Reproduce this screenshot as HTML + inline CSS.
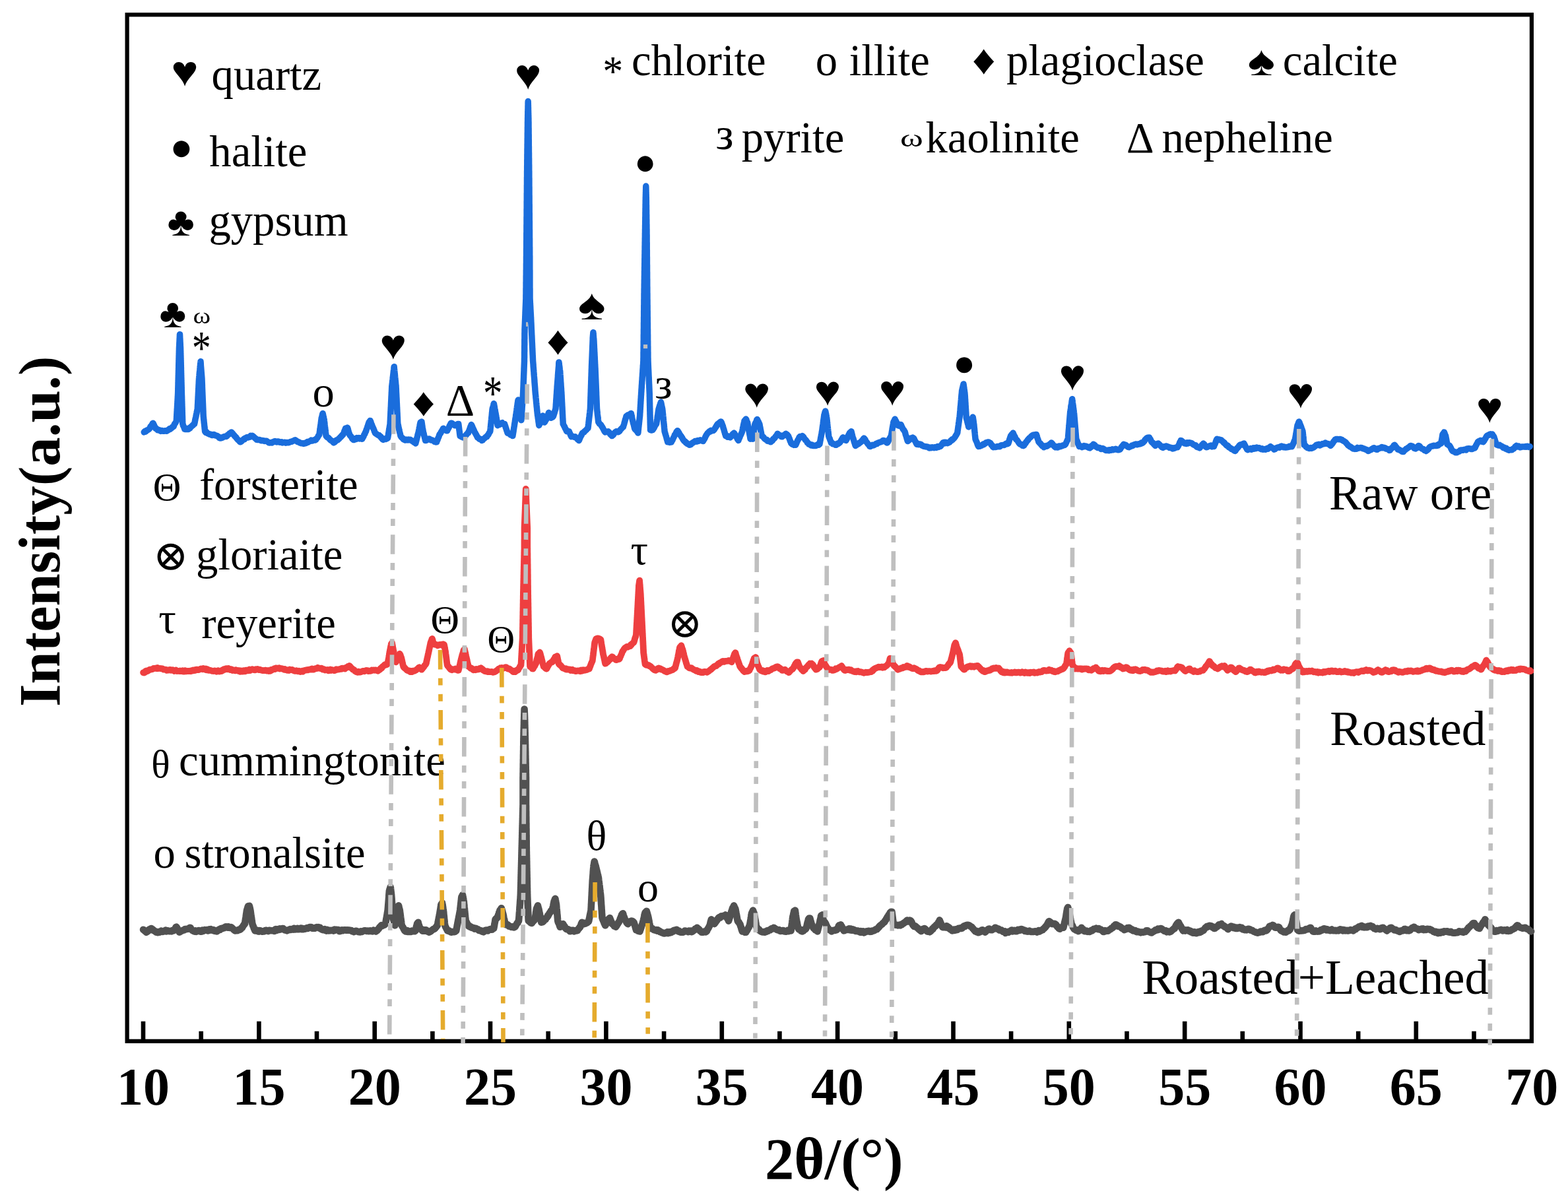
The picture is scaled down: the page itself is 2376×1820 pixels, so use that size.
<!DOCTYPE html>
<html><head><meta charset="utf-8"><title>XRD patterns</title>
<style>html,body{margin:0;padding:0;background:#fff}svg{display:block}text{fill:#000;white-space:pre}</style></head>
<body><svg width="2376" height="1820" viewBox="0 0 2376 1820">
<rect width="2376" height="1820" fill="#fff"/>
<rect x="192.6" y="22.3" width="2128.3" height="1555.5" fill="none" stroke="#000" stroke-width="6.2"/>
<path d="M217.0 1547.8 V1576 M304.7 1562.8 V1576 M392.4 1547.8 V1576 M480.0 1562.8 V1576 M567.7 1547.8 V1576 M655.4 1562.8 V1576 M743.0 1547.8 V1576 M830.7 1562.8 V1576 M918.4 1547.8 V1576 M1006.1 1562.8 V1576 M1093.8 1547.8 V1576 M1181.4 1562.8 V1576 M1269.1 1547.8 V1576 M1356.8 1562.8 V1576 M1444.5 1547.8 V1576 M1532.1 1562.8 V1576 M1619.8 1547.8 V1576 M1707.5 1562.8 V1576 M1795.2 1547.8 V1576 M1882.8 1562.8 V1576 M1970.5 1547.8 V1576 M2058.2 1562.8 V1576 M2145.8 1547.8 V1576 M2233.5 1562.8 V1576" stroke="#000" stroke-width="6.6" fill="none"/>
<path d="M218.2 654.9 L219.3 653.7 L220.4 654.2 L221.5 653.4 L222.6 652.0 L223.6 651.7 L224.7 651.0 L225.8 650.4 L226.5 649.5 L227.2 648.7 L227.8 646.9 L228.5 645.8 L229.2 645.7 L229.9 644.2 L230.6 643.6 L231.2 641.7 L231.9 641.3 L232.5 642.3 L233.0 643.8 L233.6 644.4 L234.1 646.3 L234.6 647.4 L235.2 647.6 L235.7 649.2 L236.8 649.1 L237.9 650.5 L239.0 651.7 L240.1 651.4 L241.2 651.7 L242.2 652.6 L243.3 653.3 L244.6 652.4 L245.9 652.8 L247.2 653.2 L248.5 653.3 L249.8 652.8 L251.1 652.8 L252.4 653.3 L253.5 652.2 L254.6 651.9 L255.7 650.9 L256.8 649.8 L257.9 650.3 L259.0 649.2 L260.1 648.6 L261.2 647.2 L262.3 647.0 L263.0 646.3 L263.6 645.1 L264.2 643.1 L264.8 642.2 L265.4 641.5 L266.1 640.3 L266.7 639.4 L267.3 637.8 L267.4 636.6 L267.4 635.5 L267.5 634.3 L267.6 633.0 L267.6 631.8 L267.7 630.7 L267.8 629.5 L267.8 628.2 L267.9 627.0 L268.0 625.7 L268.0 624.5 L268.1 623.4 L268.2 622.1 L268.2 620.9 L268.3 619.7 L268.4 618.6 L268.5 617.4 L268.5 616.1 L268.6 614.9 L268.7 613.7 L268.7 612.5 L268.8 611.3 L268.9 610.1 L268.9 608.9 L269.0 607.6 L269.1 606.4 L269.1 605.3 L269.2 604.1 L269.3 602.9 L269.3 601.6 L269.4 600.4 L269.5 599.2 L269.5 598.1 L269.6 596.8 L269.6 595.6 L269.7 594.4 L269.7 593.2 L269.7 592.0 L269.8 590.8 L269.8 589.6 L269.8 588.4 L269.9 587.2 L269.9 586.0 L269.9 584.8 L270.0 583.6 L270.0 582.3 L270.0 581.2 L270.0 580.0 L270.1 578.8 L270.1 577.6 L270.1 576.4 L270.2 575.2 L270.2 574.0 L270.2 572.8 L270.3 571.6 L270.3 570.4 L270.3 569.2 L270.4 568.0 L270.4 566.8 L270.4 565.6 L270.5 564.4 L270.5 563.2 L270.5 562.0 L270.6 560.8 L270.6 559.6 L270.6 558.4 L270.7 557.2 L270.7 556.0 L270.7 554.8 L270.7 553.6 L270.8 552.4 L270.8 551.2 L270.8 550.0 L270.9 548.8 L270.9 547.6 L270.9 546.4 L271.0 545.2 L271.0 544.0 L271.0 542.8 L271.1 541.6 L271.1 540.4 L271.1 539.2 L271.2 538.0 L271.2 536.8 L271.2 535.6 L271.3 534.4 L271.3 533.2 L271.3 532.0 L271.4 530.8 L271.4 529.6 L271.4 528.4 L271.5 527.2 L271.5 526.0 L271.6 524.8 L271.7 523.6 L271.7 522.3 L271.8 521.2 L271.8 520.0 L271.9 518.7 L272.0 517.5 L272.0 516.4 L272.1 515.2 L272.1 513.9 L272.2 512.8 L272.3 511.6 L272.3 510.3 L272.4 509.1 L272.4 507.9 L272.5 506.7 L272.6 508.0 L272.6 509.1 L272.7 510.4 L272.7 511.6 L272.8 512.8 L272.9 513.9 L272.9 515.2 L273.0 516.4 L273.0 517.6 L273.1 518.7 L273.2 520.0 L273.2 521.2 L273.3 522.4 L273.3 523.6 L273.4 524.8 L273.5 525.9 L273.5 527.2 L273.6 528.4 L273.6 529.6 L273.6 530.8 L273.7 532.0 L273.7 533.2 L273.7 534.4 L273.8 535.6 L273.8 536.8 L273.8 538.0 L273.9 539.2 L273.9 540.3 L273.9 541.6 L274.0 542.8 L274.0 544.0 L274.0 545.2 L274.1 546.4 L274.1 547.6 L274.1 548.8 L274.2 550.0 L274.2 551.2 L274.2 552.4 L274.3 553.6 L274.3 554.8 L274.3 556.0 L274.4 557.2 L274.4 558.4 L274.4 559.6 L274.4 560.8 L274.5 562.0 L274.5 563.2 L274.5 564.4 L274.6 565.6 L274.6 566.8 L274.6 568.0 L274.7 569.2 L274.7 570.4 L274.7 571.6 L274.8 572.8 L274.8 574.0 L274.8 575.2 L274.9 576.4 L274.9 577.6 L274.9 578.8 L275.0 580.0 L275.0 581.2 L275.0 582.4 L275.1 583.6 L275.1 584.8 L275.1 586.0 L275.2 587.2 L275.2 588.4 L275.2 589.6 L275.2 590.8 L275.3 592.0 L275.3 593.2 L275.3 594.4 L275.4 595.6 L275.4 596.8 L275.4 598.0 L275.5 599.2 L275.5 600.4 L275.6 601.6 L275.6 602.8 L275.6 604.0 L275.7 605.3 L275.7 606.4 L275.7 607.6 L275.8 608.8 L275.8 610.0 L275.8 611.1 L275.9 612.4 L275.9 613.6 L275.9 614.8 L276.0 616.0 L276.0 617.2 L276.1 618.4 L276.1 619.6 L276.1 620.8 L276.2 622.0 L276.2 623.2 L276.2 624.4 L276.3 625.6 L276.3 626.8 L276.3 628.0 L276.4 629.2 L276.4 630.4 L276.5 631.6 L276.5 632.8 L276.5 634.0 L276.6 635.1 L276.6 636.4 L276.6 637.6 L276.7 638.8 L276.7 640.0 L276.7 641.1 L276.8 642.4 L277.2 643.3 L277.6 645.1 L278.1 645.8 L278.5 646.6 L278.9 647.8 L279.4 649.0 L279.8 650.4 L281.0 650.6 L282.2 649.3 L283.4 650.6 L284.6 649.4 L285.9 650.3 L287.1 649.2 L288.0 648.9 L288.9 647.2 L289.9 646.3 L290.8 645.8 L291.8 644.4 L292.7 644.3 L293.6 642.6 L294.6 642.4 L294.8 640.9 L295.1 640.3 L295.3 638.7 L295.5 637.7 L295.8 636.4 L296.0 635.1 L296.3 633.7 L296.5 633.0 L296.8 631.9 L297.0 630.7 L297.3 629.0 L297.5 627.8 L297.8 626.9 L298.0 625.9 L298.2 624.4 L298.5 623.3 L298.7 622.1 L299.0 620.7 L299.2 619.6 L299.3 618.4 L299.4 617.2 L299.4 616.0 L299.5 614.7 L299.5 613.6 L299.6 612.5 L299.7 611.2 L299.7 610.0 L299.8 608.8 L299.8 607.7 L299.9 606.4 L300.0 605.2 L300.0 604.0 L300.1 602.8 L300.1 601.7 L300.2 600.5 L300.3 599.2 L300.3 598.0 L300.4 596.8 L300.4 595.6 L300.5 594.4 L300.6 593.2 L300.6 591.9 L300.7 590.8 L300.7 589.5 L300.8 588.4 L300.9 587.1 L300.9 585.9 L301.0 584.8 L301.0 583.6 L301.1 582.5 L301.2 581.2 L301.2 580.1 L301.3 578.7 L301.3 577.6 L301.4 576.5 L301.5 575.1 L301.5 574.0 L301.6 572.9 L301.7 571.4 L301.9 570.3 L302.0 569.2 L302.1 567.9 L302.2 566.5 L302.3 565.1 L302.4 564.0 L302.6 562.9 L302.7 561.4 L302.8 560.4 L302.9 558.9 L303.0 557.9 L303.1 556.4 L303.3 555.2 L303.4 554.1 L303.5 552.9 L303.6 551.7 L303.7 550.4 L303.9 549.1 L304.0 547.8 L304.1 549.1 L304.2 550.2 L304.3 551.5 L304.3 552.7 L304.4 554.1 L304.5 555.3 L304.6 556.5 L304.7 557.7 L304.8 559.1 L304.9 560.3 L305.0 561.5 L305.1 562.8 L305.2 564.1 L305.3 565.2 L305.4 566.5 L305.5 567.7 L305.6 568.9 L305.7 570.1 L305.8 571.5 L305.9 572.7 L306.0 574.0 L306.0 575.2 L306.1 576.4 L306.1 577.6 L306.2 578.8 L306.2 580.0 L306.3 581.2 L306.3 582.5 L306.4 583.7 L306.4 584.9 L306.4 586.1 L306.5 587.3 L306.5 588.5 L306.6 589.8 L306.6 591.0 L306.7 592.2 L306.7 593.4 L306.8 594.6 L306.8 595.9 L306.9 597.0 L306.9 598.3 L307.0 599.5 L307.0 600.6 L307.1 601.9 L307.1 603.1 L307.2 604.4 L307.2 605.6 L307.3 606.7 L307.3 608.0 L307.4 609.1 L307.4 610.3 L307.5 611.6 L307.5 612.9 L307.6 614.0 L307.6 615.3 L307.7 616.5 L307.7 617.6 L307.8 618.9 L307.8 620.1 L307.9 621.3 L307.9 622.5 L308.0 623.8 L308.0 624.9 L308.0 626.2 L308.1 627.4 L308.1 628.6 L308.2 629.8 L308.2 631.0 L308.4 632.1 L308.5 633.3 L308.6 634.5 L308.7 635.8 L308.9 637.1 L309.0 638.0 L309.1 639.5 L309.2 640.7 L309.4 641.7 L309.5 643.0 L309.6 644.1 L309.7 645.5 L309.9 646.4 L310.0 648.0 L310.1 649.1 L310.2 650.2 L310.4 651.3 L310.5 652.7 L310.6 653.8 L311.7 655.2 L312.8 654.5 L313.9 656.2 L315.0 656.9 L316.1 657.3 L317.2 658.0 L318.3 658.4 L319.7 658.3 L321.1 659.4 L322.4 659.5 L323.8 658.5 L325.2 658.8 L326.3 659.9 L327.5 660.0 L328.7 660.3 L329.8 661.2 L331.0 661.5 L332.2 663.4 L333.3 664.1 L334.5 664.1 L335.7 663.0 L336.9 663.4 L338.1 662.6 L339.3 661.7 L340.5 661.6 L341.7 661.1 L342.9 661.5 L344.1 660.6 L345.0 659.1 L345.9 658.6 L346.8 658.1 L347.7 656.7 L348.6 656.7 L349.6 655.9 L350.5 654.9 L351.3 656.3 L352.2 656.5 L353.1 657.6 L354.0 658.9 L354.8 659.5 L355.7 660.9 L356.6 661.8 L357.4 662.3 L358.3 663.8 L359.1 664.8 L359.9 665.7 L360.8 666.8 L361.6 667.2 L362.5 668.0 L363.3 669.3 L364.2 669.8 L365.2 669.4 L366.3 668.3 L367.3 667.3 L368.4 666.4 L369.4 665.4 L370.5 665.7 L371.5 663.9 L372.6 664.0 L373.7 662.9 L374.9 662.6 L376.2 662.9 L377.4 662.2 L378.7 662.2 L379.9 660.3 L381.2 660.6 L382.4 660.2 L383.3 661.2 L384.3 661.7 L385.2 662.8 L386.1 663.5 L387.1 664.6 L388.0 664.8 L388.9 666.3 L390.2 666.4 L391.6 666.6 L392.9 666.5 L394.2 666.8 L395.6 667.7 L396.9 667.7 L398.2 667.5 L399.4 667.8 L400.5 668.4 L401.7 668.3 L402.8 668.3 L404.0 668.3 L405.1 669.1 L406.3 670.0 L407.5 670.9 L408.6 671.1 L409.8 670.9 L410.9 670.5 L412.0 671.0 L413.2 669.7 L414.3 670.0 L415.5 668.8 L416.6 668.6 L417.9 669.3 L419.1 670.0 L420.4 669.0 L421.7 669.0 L422.9 670.1 L424.2 670.2 L425.5 670.1 L426.7 669.7 L428.0 670.9 L429.3 670.6 L430.6 670.5 L431.8 670.3 L433.1 671.1 L434.4 670.4 L435.7 670.6 L437.0 670.8 L438.2 670.4 L439.5 669.8 L440.6 669.3 L441.8 669.3 L442.9 668.7 L444.0 668.3 L445.1 667.9 L446.3 667.1 L447.4 666.8 L448.5 667.6 L449.5 668.2 L450.6 669.3 L451.7 669.6 L452.8 669.8 L454.0 670.8 L455.1 671.1 L456.3 671.7 L457.5 671.8 L458.7 671.8 L459.9 672.5 L461.1 671.6 L462.3 671.9 L463.4 671.7 L464.6 670.6 L465.8 669.5 L466.9 670.1 L468.1 669.1 L469.3 668.6 L470.4 668.3 L471.6 667.2 L472.8 667.8 L474.0 667.9 L475.2 667.1 L476.4 666.6 L477.5 666.9 L478.7 666.3 L479.5 664.7 L480.2 664.1 L480.9 663.4 L481.7 662.0 L482.4 660.5 L483.1 659.7 L483.9 658.4 L484.0 657.2 L484.2 655.8 L484.4 654.6 L484.5 653.7 L484.7 652.3 L484.8 651.0 L485.0 650.1 L485.2 648.8 L485.3 647.6 L485.5 646.4 L485.7 645.3 L485.8 643.9 L486.0 642.9 L486.2 641.7 L486.3 640.6 L486.5 639.2 L486.6 638.1 L486.8 636.7 L487.0 635.7 L487.1 634.3 L487.3 633.3 L487.7 632.1 L488.0 630.8 L488.4 629.1 L488.7 627.6 L489.1 626.4 L489.4 628.0 L489.7 629.2 L490.0 630.6 L490.3 631.4 L490.5 633.2 L490.8 634.3 L491.1 635.6 L491.3 636.7 L491.4 637.9 L491.6 639.2 L491.7 640.4 L491.8 641.4 L492.0 642.8 L492.1 643.8 L492.3 645.3 L492.4 646.3 L492.6 647.7 L492.7 648.8 L492.8 649.9 L493.0 651.0 L493.1 652.3 L493.3 653.3 L493.4 654.5 L493.6 655.9 L493.7 657.0 L493.8 658.3 L494.0 659.3 L494.1 660.6 L495.1 661.9 L496.2 662.8 L497.2 663.2 L498.2 663.9 L499.2 665.2 L500.2 666.3 L501.3 667.2 L502.4 667.6 L503.4 668.6 L504.5 669.4 L505.5 670.9 L506.6 670.2 L507.7 669.8 L508.7 668.0 L509.8 667.0 L510.9 667.1 L512.0 666.5 L513.0 665.2 L513.9 665.0 L514.8 663.6 L515.7 662.4 L516.6 662.2 L517.5 660.4 L518.3 660.3 L519.2 658.7 L520.1 658.4 L520.5 657.1 L521.0 656.1 L521.4 654.8 L521.8 653.5 L522.2 652.4 L522.7 651.8 L523.1 650.3 L523.5 649.2 L525.0 648.8 L526.5 648.1 L526.9 649.2 L527.3 650.8 L527.6 651.8 L528.0 653.3 L528.4 654.8 L528.8 656.2 L529.2 656.7 L529.6 658.4 L530.3 659.7 L531.0 660.8 L531.7 661.1 L532.4 662.2 L533.1 663.4 L533.8 664.8 L534.5 665.2 L535.2 666.3 L536.3 666.6 L537.4 666.0 L538.6 664.6 L539.7 665.5 L540.9 663.6 L542.0 664.1 L543.4 663.6 L544.7 664.8 L546.1 663.9 L547.5 664.7 L548.8 665.2 L549.4 663.7 L550.0 662.9 L550.5 662.1 L551.1 661.0 L551.7 659.0 L552.2 657.9 L552.8 657.6 L553.4 655.6 L553.9 654.7 L554.5 653.8 L554.9 652.4 L555.2 651.2 L555.6 650.0 L556.0 649.3 L556.4 648.3 L556.7 647.1 L557.1 646.1 L557.5 644.8 L557.9 643.5 L558.2 642.5 L558.6 641.6 L559.0 640.1 L560.0 638.9 L560.9 637.4 L561.4 638.4 L561.9 639.4 L562.3 641.4 L562.8 642.3 L563.3 643.3 L563.8 644.7 L564.2 645.9 L564.7 647.0 L565.2 648.1 L565.6 648.8 L566.1 650.2 L566.6 651.4 L567.1 652.4 L567.5 654.1 L568.0 654.9 L568.5 656.1 L569.5 657.0 L570.5 657.7 L571.5 658.4 L572.5 659.0 L573.5 659.7 L574.5 659.6 L575.5 660.6 L576.4 662.2 L577.3 662.1 L578.1 664.0 L579.0 664.9 L579.9 665.8 L580.8 666.3 L582.1 665.1 L583.5 664.7 L584.8 665.5 L586.2 664.5 L587.5 664.1 L587.7 662.8 L587.9 661.9 L588.1 660.2 L588.3 659.3 L588.5 658.0 L588.7 656.7 L588.9 655.6 L589.1 654.5 L589.3 653.4 L589.5 651.8 L589.7 650.8 L589.9 649.4 L590.1 648.6 L590.3 647.0 L590.5 645.8 L590.7 644.7 L590.9 643.7 L591.1 642.4 L591.1 641.2 L591.2 639.9 L591.2 638.8 L591.3 637.6 L591.4 636.4 L591.4 635.1 L591.5 633.9 L591.5 632.7 L591.6 631.5 L591.7 630.2 L591.7 629.0 L591.8 627.9 L591.8 626.7 L591.9 625.4 L591.9 624.1 L592.0 623.0 L592.1 621.8 L592.1 620.7 L592.2 619.4 L592.2 618.2 L592.3 617.0 L592.4 615.7 L592.4 614.6 L592.5 613.4 L592.5 612.0 L592.6 610.8 L592.6 609.6 L592.7 608.4 L592.8 607.2 L592.8 606.0 L592.9 604.8 L592.9 603.5 L593.0 602.4 L593.0 601.2 L593.1 599.9 L593.2 598.7 L593.2 597.5 L593.3 596.3 L593.3 595.1 L593.4 593.9 L593.5 592.7 L593.5 591.4 L593.6 590.3 L593.6 589.0 L593.7 587.8 L593.7 586.5 L593.8 585.4 L593.9 584.3 L594.1 582.9 L594.2 581.8 L594.4 580.6 L594.5 579.4 L594.6 578.1 L594.8 576.9 L594.9 575.7 L595.1 574.4 L595.2 572.9 L595.3 571.8 L595.5 570.6 L595.6 569.5 L595.8 568.2 L595.9 566.9 L596.1 565.7 L596.2 564.4 L596.3 563.3 L596.5 562.0 L596.6 560.7 L596.8 559.5 L596.9 558.4 L597.0 557.0 L597.2 555.8 L597.3 556.9 L597.4 558.1 L597.5 559.5 L597.7 560.7 L597.8 562.1 L597.9 563.1 L598.0 564.4 L598.1 565.7 L598.3 566.7 L598.4 568.0 L598.5 569.4 L598.6 570.5 L598.7 571.7 L598.9 573.0 L599.0 574.3 L599.1 575.5 L599.2 576.6 L599.4 577.8 L599.5 579.3 L599.6 580.5 L599.7 581.6 L599.8 583.0 L600.0 584.0 L600.1 585.4 L600.1 586.6 L600.2 587.9 L600.3 589.1 L600.3 590.2 L600.4 591.5 L600.4 592.7 L600.5 594.0 L600.5 595.2 L600.6 596.3 L600.7 597.6 L600.7 598.7 L600.8 600.0 L600.8 601.2 L600.9 602.4 L601.0 603.6 L601.0 604.9 L601.1 606.0 L601.1 607.2 L601.2 608.5 L601.2 609.7 L601.3 610.9 L601.4 612.1 L601.4 613.3 L601.5 614.6 L601.5 615.8 L601.6 616.9 L601.7 618.1 L601.7 619.4 L601.8 620.6 L601.8 621.7 L601.9 623.0 L601.9 624.2 L602.0 625.3 L602.1 626.6 L602.1 627.8 L602.2 629.1 L602.2 630.3 L602.3 631.6 L602.4 632.7 L602.4 633.9 L602.5 635.1 L602.5 636.3 L602.6 637.6 L602.6 638.8 L602.7 640.1 L602.8 641.2 L602.8 642.4 L603.1 643.7 L603.4 644.7 L603.7 645.9 L603.9 647.3 L604.2 648.5 L604.5 649.7 L604.8 651.2 L605.1 651.9 L605.3 653.4 L605.6 654.9 L605.9 655.9 L606.2 657.0 L606.5 658.1 L606.7 659.4 L607.0 660.6 L608.0 662.2 L608.9 663.1 L609.8 663.7 L610.8 665.0 L611.7 666.0 L612.7 666.3 L614.0 667.0 L615.3 666.1 L616.6 666.3 L617.9 666.9 L619.2 666.1 L620.5 666.8 L621.8 666.3 L622.8 667.0 L623.8 667.5 L624.8 668.4 L625.8 668.6 L626.8 669.7 L627.8 670.5 L628.8 670.6 L629.8 672.0 L630.1 670.6 L630.4 669.4 L630.7 668.6 L631.0 667.2 L631.3 665.8 L631.6 665.1 L631.9 663.4 L632.2 662.3 L632.5 661.3 L632.8 660.0 L633.1 658.6 L633.4 657.6 L633.8 656.2 L634.1 655.2 L634.4 653.8 L634.6 652.6 L634.8 651.6 L635.1 650.2 L635.3 648.6 L635.6 647.4 L635.8 646.6 L636.1 644.9 L636.3 643.6 L636.5 642.5 L636.8 641.4 L637.0 640.1 L638.9 639.0 L639.1 640.4 L639.3 641.4 L639.5 642.8 L639.6 644.1 L639.8 645.0 L640.0 646.4 L640.2 647.9 L640.4 648.9 L640.6 650.1 L640.8 651.3 L641.0 652.8 L641.2 653.8 L641.5 655.4 L641.8 656.0 L642.1 657.6 L642.4 658.7 L642.7 660.1 L643.0 661.0 L643.3 662.3 L643.7 663.6 L644.0 665.0 L644.3 666.4 L644.6 667.5 L645.7 667.5 L646.9 666.8 L648.0 666.1 L649.2 665.2 L650.5 665.0 L651.8 665.9 L653.1 666.9 L654.4 666.7 L655.8 667.5 L656.9 667.9 L658.1 669.1 L659.3 668.2 L660.5 669.9 L661.7 669.8 L662.1 668.3 L662.6 667.4 L663.0 666.7 L663.5 664.9 L663.9 664.1 L664.4 662.8 L664.8 662.1 L665.2 661.1 L665.7 659.3 L666.1 658.4 L666.8 657.3 L667.4 656.8 L668.1 655.4 L668.7 654.0 L669.4 653.6 L670.0 652.1 L670.7 651.2 L671.3 649.7 L672.0 649.2 L673.1 650.7 L674.2 650.8 L675.4 651.9 L676.5 652.7 L677.7 652.7 L678.2 651.3 L678.8 650.4 L679.4 649.2 L679.9 648.4 L680.5 647.3 L681.1 645.5 L681.6 644.5 L682.2 643.7 L682.8 642.3 L683.4 641.3 L684.5 641.2 L685.6 641.9 L686.8 643.1 L687.9 643.7 L689.1 644.8 L690.2 644.7 L691.3 644.2 L692.5 643.7 L693.6 642.4 L694.8 642.4 L694.9 643.6 L695.1 644.7 L695.2 646.1 L695.4 647.2 L695.5 648.4 L695.7 649.6 L695.8 650.9 L696.0 652.1 L696.2 653.4 L696.3 654.4 L696.5 655.9 L696.6 657.1 L696.8 658.2 L696.9 659.2 L697.1 660.6 L698.2 660.8 L699.4 661.9 L700.5 662.2 L701.7 663.0 L702.8 662.9 L703.8 662.5 L704.7 660.7 L705.7 660.0 L706.6 658.8 L707.6 657.5 L708.5 656.6 L709.5 656.1 L709.9 654.7 L710.3 653.4 L710.8 652.7 L711.2 651.7 L711.6 650.4 L712.0 649.4 L712.5 647.9 L712.9 646.7 L713.3 645.9 L713.8 645.0 L714.2 643.5 L714.7 644.6 L715.2 645.4 L715.7 646.5 L716.2 647.9 L716.7 649.3 L717.3 650.0 L717.8 651.5 L718.3 652.4 L718.9 654.0 L719.5 655.4 L720.1 655.9 L720.7 657.3 L721.3 658.4 L721.8 659.0 L722.4 660.5 L723.0 661.4 L723.6 662.9 L724.7 663.3 L725.8 664.8 L726.9 665.5 L728.0 665.3 L729.1 666.1 L730.2 667.5 L731.3 667.0 L732.3 665.3 L733.4 664.8 L734.5 663.9 L735.6 662.8 L736.7 661.9 L737.8 661.8 L738.5 660.2 L739.2 659.4 L739.9 658.8 L740.6 657.4 L741.3 655.8 L742.0 655.1 L742.7 653.8 L742.9 652.5 L743.0 651.4 L743.1 650.1 L743.2 649.1 L743.3 647.6 L743.5 646.6 L743.6 645.3 L743.7 644.1 L743.8 642.8 L744.0 641.7 L744.1 640.3 L744.2 639.2 L744.3 638.0 L744.4 636.7 L744.6 635.5 L744.7 634.3 L744.8 633.0 L744.9 631.9 L745.1 630.6 L745.2 629.4 L745.3 628.0 L745.4 626.9 L745.5 625.6 L745.7 624.4 L745.8 623.2 L745.9 622.1 L746.0 620.7 L746.2 619.6 L746.5 618.1 L746.9 617.0 L747.3 615.6 L747.7 614.2 L748.0 612.7 L748.4 611.6 L748.6 612.8 L748.8 614.2 L749.1 615.4 L749.3 616.7 L749.5 618.1 L749.7 619.3 L750.0 620.5 L750.2 621.4 L750.4 622.8 L750.6 624.2 L750.8 625.5 L751.1 626.4 L751.3 628.0 L751.5 628.8 L751.7 630.4 L751.9 631.3 L752.1 632.8 L752.3 634.0 L752.5 634.9 L752.7 636.4 L752.9 637.3 L753.1 638.8 L753.3 639.8 L753.5 641.0 L753.7 642.1 L753.9 643.5 L754.1 644.7 L755.2 643.6 L756.4 643.6 L757.5 643.1 L758.7 642.1 L759.8 641.3 L761.0 640.7 L762.2 642.6 L763.4 642.9 L764.6 642.4 L765.0 643.7 L765.4 644.6 L765.7 645.9 L766.1 647.3 L766.5 648.1 L766.9 649.5 L767.2 650.5 L767.6 651.5 L768.0 653.0 L768.4 653.7 L768.7 655.0 L769.1 656.1 L770.2 656.0 L771.3 657.3 L772.5 657.3 L773.6 659.0 L774.7 658.6 L775.8 659.3 L776.9 660.6 L777.1 659.2 L777.3 658.0 L777.5 656.9 L777.7 655.6 L777.9 654.4 L778.1 653.5 L778.2 652.2 L778.4 650.8 L778.6 649.7 L778.8 648.4 L779.0 646.9 L779.2 646.0 L779.4 644.5 L779.6 643.4 L779.8 642.0 L780.0 640.7 L780.2 639.8 L780.4 638.6 L780.5 637.1 L780.7 636.1 L780.9 634.6 L781.1 633.5 L781.3 632.5 L781.5 631.0 L781.7 629.9 L781.8 628.4 L782.0 627.4 L782.2 626.2 L782.4 624.9 L782.5 624.0 L782.7 622.6 L782.9 621.5 L783.0 620.3 L783.2 619.0 L783.4 617.6 L783.5 616.7 L783.7 615.6 L783.9 614.1 L784.1 613.1 L784.2 611.8 L784.4 610.6 L784.6 609.5 L784.7 608.5 L784.9 607.1 L785.3 605.9 L785.4 607.0 L785.5 608.5 L785.6 609.6 L785.7 611.0 L785.8 612.0 L785.9 613.4 L786.0 614.5 L786.1 615.8 L786.2 617.2 L786.3 618.4 L786.4 619.6 L786.7 621.0 L786.9 622.0 L787.2 623.2 L787.4 624.5 L787.7 625.9 L787.9 627.1 L788.2 628.0 L788.4 629.3 L788.7 630.6 L788.9 631.9 L789.2 633.3 L789.4 634.5 L789.6 635.3 L789.9 636.7 L790.0 635.4 L790.1 634.2 L790.1 632.9 L790.2 631.7 L790.3 630.5 L790.4 629.4 L790.5 628.2 L790.6 627.0 L790.6 625.6 L790.7 624.4 L790.8 623.3 L790.9 622.1 L791.0 620.9 L791.1 619.4 L791.1 618.3 L791.2 617.1 L791.3 615.9 L791.4 614.7 L791.5 613.4 L791.5 612.1 L791.6 610.8 L791.7 609.8 L791.8 608.6 L791.9 607.4 L792.0 606.1 L792.0 604.8 L792.1 603.5 L792.2 602.4 L792.3 601.2 L792.4 600.0 L792.5 598.6 L792.5 597.5 L792.6 596.2 L792.7 595.0 L792.7 593.8 L792.8 592.6 L792.8 591.5 L792.9 590.2 L792.9 589.0 L793.0 587.8 L793.0 586.6 L793.1 585.4 L793.1 584.2 L793.2 583.0 L793.2 581.7 L793.2 580.6 L793.3 579.4 L793.3 578.2 L793.4 577.0 L793.4 575.8 L793.5 574.7 L793.5 573.4 L793.6 572.1 L793.6 571.1 L793.6 569.8 L793.7 568.6 L793.7 567.4 L793.8 566.2 L793.8 565.1 L793.9 563.8 L793.9 562.6 L794.0 561.4 L794.0 560.2 L794.0 559.0 L794.1 557.8 L794.1 556.6 L794.2 555.4 L794.2 554.2 L794.3 553.0 L794.3 551.8 L794.4 550.6 L794.4 549.4 L794.5 548.2 L794.5 547.0 L794.5 545.8 L794.5 544.6 L794.5 543.4 L794.6 542.2 L794.6 541.0 L794.6 539.8 L794.6 538.6 L794.6 537.4 L794.6 536.1 L794.6 534.9 L794.6 533.7 L794.7 532.5 L794.7 531.3 L794.7 530.1 L794.7 528.9 L794.7 527.7 L794.7 526.5 L794.7 525.3 L794.7 524.1 L794.8 522.9 L794.8 521.7 L794.8 520.5 L794.8 519.3 L794.8 518.1 L794.8 516.9 L794.8 515.7 L794.8 514.4 L794.9 513.3 L794.9 512.0 L794.9 510.9 L794.9 509.6 L794.9 508.4 L794.9 507.2 L794.9 506.0 L794.9 504.8 L795.0 503.6 L795.0 502.4 L795.0 501.2 L795.0 500.0 L795.0 498.9 L795.1 497.6 L795.1 496.4 L795.2 495.2 L795.2 494.0 L795.3 492.8 L795.3 491.6 L795.4 490.3 L795.4 489.2 L795.5 488.0 L795.5 486.8 L795.6 485.6 L795.6 484.4 L795.7 483.2 L795.7 482.0 L795.8 480.8 L795.8 479.6 L795.9 478.3 L795.9 477.2 L796.0 476.0 L796.0 474.8 L796.0 473.7 L796.1 472.4 L796.1 471.1 L796.2 470.1 L796.2 468.8 L796.3 467.6 L796.3 466.4 L796.4 465.2 L796.4 463.9 L796.5 462.9 L796.5 461.6 L796.6 460.4 L796.6 459.2 L796.7 458.1 L796.7 456.7 L796.8 455.6 L796.8 454.4 L796.9 453.1 L796.9 452.0 L796.9 450.8 L796.9 449.6 L796.9 448.4 L796.9 447.2 L797.0 446.0 L797.0 444.8 L797.0 443.5 L797.0 442.3 L797.0 441.1 L797.0 439.9 L797.0 438.7 L797.0 437.5 L797.1 436.3 L797.1 435.1 L797.1 433.9 L797.1 432.7 L797.1 431.4 L797.1 430.3 L797.1 429.0 L797.1 427.8 L797.2 426.6 L797.2 425.4 L797.2 424.2 L797.2 423.0 L797.2 421.8 L797.2 420.6 L797.2 419.4 L797.2 418.2 L797.3 417.0 L797.3 415.7 L797.3 414.5 L797.3 413.3 L797.3 412.1 L797.3 410.9 L797.3 409.7 L797.4 408.5 L797.4 407.3 L797.4 406.1 L797.4 404.9 L797.4 403.7 L797.4 402.5 L797.4 401.3 L797.4 400.0 L797.5 398.8 L797.5 397.6 L797.5 396.4 L797.5 395.2 L797.5 394.0 L797.5 392.8 L797.5 391.6 L797.5 390.4 L797.5 389.2 L797.6 388.0 L797.6 386.8 L797.6 385.6 L797.6 384.4 L797.6 383.2 L797.6 382.0 L797.6 380.8 L797.6 379.6 L797.6 378.4 L797.6 377.2 L797.7 376.0 L797.7 374.8 L797.7 373.6 L797.7 372.4 L797.7 371.2 L797.7 370.0 L797.7 368.8 L797.7 367.6 L797.7 366.3 L797.7 365.2 L797.8 364.0 L797.8 362.7 L797.8 361.6 L797.8 360.4 L797.8 359.2 L797.8 357.9 L797.8 356.8 L797.8 355.6 L797.8 354.3 L797.8 353.1 L797.9 351.9 L797.9 350.7 L797.9 349.5 L797.9 348.3 L797.9 347.1 L797.9 345.9 L797.9 344.7 L797.9 343.5 L797.9 342.3 L797.9 341.1 L798.0 339.9 L798.0 338.7 L798.0 337.5 L798.0 336.3 L798.0 335.1 L798.0 333.9 L798.0 332.7 L798.0 331.5 L798.0 330.3 L798.0 329.1 L798.1 327.9 L798.1 326.7 L798.1 325.5 L798.1 324.3 L798.1 323.1 L798.1 321.9 L798.1 320.7 L798.1 319.5 L798.1 318.3 L798.1 317.1 L798.2 315.9 L798.2 314.7 L798.2 313.5 L798.2 312.3 L798.2 311.1 L798.2 309.9 L798.2 308.7 L798.2 307.5 L798.2 306.3 L798.2 305.1 L798.3 303.8 L798.3 302.7 L798.3 301.5 L798.3 300.2 L798.3 299.0 L798.3 297.8 L798.3 296.7 L798.3 295.5 L798.3 294.2 L798.3 293.1 L798.4 291.9 L798.4 290.7 L798.4 289.4 L798.4 288.2 L798.4 287.1 L798.4 285.8 L798.4 284.6 L798.4 283.4 L798.4 282.2 L798.4 281.0 L798.5 279.8 L798.5 278.6 L798.5 277.4 L798.5 276.2 L798.5 275.0 L798.5 273.8 L798.5 272.6 L798.5 271.4 L798.5 270.2 L798.5 269.0 L798.6 267.8 L798.6 266.6 L798.6 265.4 L798.6 264.2 L798.6 263.0 L798.6 261.8 L798.6 260.6 L798.6 259.4 L798.7 258.2 L798.7 257.0 L798.7 255.8 L798.7 254.6 L798.7 253.4 L798.7 252.2 L798.7 251.0 L798.8 249.7 L798.8 248.6 L798.8 247.3 L798.8 246.1 L798.8 245.0 L798.8 243.7 L798.8 242.6 L798.9 241.3 L798.9 240.2 L798.9 238.9 L798.9 237.7 L798.9 236.5 L798.9 235.3 L798.9 234.1 L799.0 232.9 L799.0 231.7 L799.0 230.5 L799.0 229.3 L799.0 228.1 L799.0 226.9 L799.0 225.7 L799.1 224.5 L799.1 223.3 L799.1 222.1 L799.1 220.9 L799.1 219.7 L799.1 218.5 L799.2 217.3 L799.2 216.1 L799.2 214.9 L799.2 213.7 L799.2 212.5 L799.2 211.3 L799.2 210.1 L799.3 208.9 L799.3 207.7 L799.3 206.5 L799.3 205.3 L799.3 204.1 L799.3 202.9 L799.3 201.7 L799.4 200.4 L799.4 199.2 L799.4 198.1 L799.4 196.8 L799.4 195.7 L799.4 194.4 L799.4 193.2 L799.5 192.0 L799.5 190.8 L799.5 189.6 L799.5 188.4 L799.5 187.2 L799.5 186.0 L799.5 184.8 L799.6 183.6 L799.6 182.4 L799.6 181.2 L799.6 180.0 L799.6 178.8 L799.7 177.6 L799.7 176.4 L799.7 175.2 L799.7 174.0 L799.8 172.8 L799.8 171.6 L799.8 170.4 L799.8 169.1 L799.9 167.9 L799.9 166.8 L799.9 165.5 L800.0 164.4 L800.0 163.1 L800.0 162.0 L800.0 160.7 L800.1 159.5 L800.1 158.3 L800.1 157.1 L800.1 155.9 L800.2 154.7 L800.2 153.5 L800.2 154.7 L800.3 155.9 L800.3 157.1 L800.3 158.3 L800.4 159.6 L800.4 160.7 L800.4 161.9 L800.5 163.2 L800.5 164.4 L800.5 165.6 L800.5 166.7 L800.6 168.0 L800.6 169.2 L800.6 170.3 L800.7 171.6 L800.7 172.8 L800.7 174.0 L800.8 175.2 L800.8 176.4 L800.8 177.6 L800.9 178.8 L800.9 180.0 L800.9 181.2 L800.9 182.4 L800.9 183.6 L801.0 184.8 L801.0 186.0 L801.0 187.2 L801.0 188.4 L801.0 189.6 L801.0 190.8 L801.0 192.0 L801.0 193.2 L801.1 194.4 L801.1 195.7 L801.1 196.9 L801.1 198.1 L801.1 199.2 L801.1 200.5 L801.1 201.6 L801.1 202.9 L801.2 204.1 L801.2 205.2 L801.2 206.5 L801.2 207.7 L801.2 208.9 L801.2 210.1 L801.2 211.3 L801.3 212.5 L801.3 213.7 L801.3 214.9 L801.3 216.1 L801.3 217.3 L801.3 218.5 L801.3 219.7 L801.3 220.9 L801.4 222.1 L801.4 223.3 L801.4 224.5 L801.4 225.7 L801.4 226.9 L801.4 228.1 L801.4 229.3 L801.4 230.5 L801.5 231.7 L801.5 232.9 L801.5 234.1 L801.5 235.3 L801.5 236.5 L801.5 237.8 L801.5 239.0 L801.6 240.1 L801.6 241.3 L801.6 242.5 L801.6 243.8 L801.6 245.0 L801.6 246.1 L801.6 247.3 L801.6 248.6 L801.7 249.8 L801.7 251.0 L801.7 252.2 L801.7 253.4 L801.7 254.6 L801.7 255.8 L801.7 257.0 L801.7 258.2 L801.8 259.4 L801.8 260.6 L801.8 261.8 L801.8 263.0 L801.8 264.2 L801.8 265.4 L801.8 266.6 L801.8 267.8 L801.8 269.0 L801.9 270.2 L801.9 271.4 L801.9 272.6 L801.9 273.8 L801.9 275.0 L801.9 276.2 L801.9 277.4 L801.9 278.6 L801.9 279.8 L801.9 281.0 L801.9 282.2 L802.0 283.4 L802.0 284.6 L802.0 285.8 L802.0 287.0 L802.0 288.2 L802.0 289.4 L802.0 290.6 L802.0 291.9 L802.0 293.1 L802.0 294.2 L802.0 295.4 L802.1 296.7 L802.1 297.8 L802.1 299.1 L802.1 300.3 L802.1 301.5 L802.1 302.7 L802.1 303.9 L802.1 305.1 L802.1 306.3 L802.1 307.5 L802.1 308.7 L802.2 309.9 L802.2 311.1 L802.2 312.3 L802.2 313.5 L802.2 314.7 L802.2 315.9 L802.2 317.1 L802.2 318.3 L802.2 319.5 L802.2 320.7 L802.2 321.9 L802.3 323.1 L802.3 324.3 L802.3 325.5 L802.3 326.7 L802.3 327.9 L802.3 329.1 L802.3 330.3 L802.3 331.5 L802.3 332.7 L802.3 333.9 L802.4 335.1 L802.4 336.3 L802.4 337.5 L802.4 338.7 L802.4 339.9 L802.4 341.1 L802.4 342.3 L802.4 343.5 L802.4 344.7 L802.4 345.9 L802.4 347.1 L802.5 348.3 L802.5 349.5 L802.5 350.7 L802.5 351.9 L802.5 353.1 L802.5 354.3 L802.5 355.5 L802.5 356.7 L802.5 357.9 L802.5 359.1 L802.5 360.4 L802.6 361.5 L802.6 362.8 L802.6 364.0 L802.6 365.2 L802.6 366.4 L802.6 367.6 L802.6 368.8 L802.6 370.0 L802.6 371.2 L802.6 372.4 L802.6 373.6 L802.7 374.8 L802.7 376.0 L802.7 377.2 L802.7 378.4 L802.7 379.6 L802.7 380.8 L802.7 382.0 L802.7 383.2 L802.7 384.4 L802.7 385.6 L802.7 386.8 L802.8 388.0 L802.8 389.2 L802.8 390.4 L802.8 391.6 L802.8 392.8 L802.8 394.0 L802.8 395.2 L802.8 396.4 L802.8 397.6 L802.8 398.8 L802.8 400.0 L802.8 401.2 L802.8 402.5 L802.8 403.7 L802.8 404.9 L802.8 406.1 L802.8 407.3 L802.8 408.5 L802.9 409.7 L802.9 410.9 L802.9 412.1 L802.9 413.3 L802.9 414.5 L802.9 415.7 L802.9 417.0 L802.9 418.2 L802.9 419.4 L802.9 420.6 L802.9 421.8 L802.9 423.0 L802.9 424.2 L802.9 425.4 L802.9 426.6 L802.9 427.8 L802.9 429.0 L802.9 430.2 L802.9 431.5 L802.9 432.7 L802.9 433.9 L802.9 435.1 L802.9 436.3 L803.0 437.5 L803.0 438.7 L803.0 439.9 L803.0 441.1 L803.0 442.3 L803.0 443.5 L803.0 444.8 L803.0 446.0 L803.0 447.2 L803.0 448.4 L803.0 449.6 L803.0 450.8 L803.0 452.0 L803.1 453.3 L803.1 454.5 L803.2 455.7 L803.3 456.8 L803.3 458.1 L803.4 459.3 L803.5 460.4 L803.5 461.7 L803.6 462.9 L803.7 464.2 L803.7 465.3 L803.8 466.5 L803.8 467.8 L803.9 469.1 L804.0 470.3 L804.0 471.6 L804.1 472.7 L804.2 474.0 L804.2 475.1 L804.3 476.3 L804.4 477.5 L804.4 478.7 L804.5 480.0 L804.6 481.1 L804.6 482.5 L804.7 483.7 L804.7 484.8 L804.8 486.0 L804.8 487.3 L804.9 488.5 L805.0 489.8 L805.0 490.9 L805.1 492.1 L805.1 493.4 L805.2 494.7 L805.2 495.8 L805.3 497.1 L805.3 498.2 L805.4 499.5 L805.5 500.8 L805.5 501.9 L805.6 503.1 L805.6 504.4 L805.7 505.6 L805.7 506.8 L805.8 508.0 L805.9 509.3 L805.9 510.4 L806.0 511.6 L806.0 512.9 L806.1 514.1 L806.1 515.3 L806.2 516.6 L806.2 517.7 L806.3 519.0 L806.4 520.3 L806.4 521.5 L806.5 522.6 L806.5 523.9 L806.6 525.0 L806.6 526.3 L806.7 527.4 L806.8 528.7 L806.8 530.0 L806.9 531.2 L806.9 532.5 L807.0 533.6 L807.0 534.8 L807.1 536.0 L807.1 537.2 L807.2 538.5 L807.3 539.7 L807.3 541.0 L807.4 542.1 L807.4 543.4 L807.5 544.5 L807.5 545.8 L807.6 547.0 L807.7 548.3 L807.8 549.4 L807.9 550.6 L808.0 551.8 L808.1 552.9 L808.1 554.1 L808.2 555.5 L808.3 556.6 L808.4 557.7 L808.5 559.0 L808.6 560.3 L808.7 561.5 L808.8 562.6 L808.9 563.9 L809.0 564.9 L809.0 566.2 L809.1 567.3 L809.2 568.5 L809.3 569.9 L809.4 570.9 L809.5 572.2 L809.6 573.4 L809.7 574.7 L809.8 575.9 L809.9 576.9 L809.9 578.1 L810.0 579.5 L810.1 580.6 L810.2 581.7 L810.3 583.1 L810.4 584.2 L810.5 585.3 L810.6 586.6 L810.7 587.8 L810.8 589.0 L810.8 590.2 L810.9 591.3 L811.0 592.6 L811.1 593.9 L811.2 595.0 L811.3 596.3 L811.4 597.6 L811.6 598.6 L811.7 599.8 L811.8 601.0 L811.9 602.6 L812.0 603.6 L812.2 604.9 L812.3 606.2 L812.4 607.5 L812.5 608.7 L812.6 609.9 L812.8 611.2 L812.9 612.3 L813.0 613.7 L813.1 614.7 L813.2 616.2 L813.4 617.2 L813.5 618.5 L813.6 619.8 L813.7 620.9 L813.8 622.3 L814.0 623.6 L814.1 624.6 L814.2 626.0 L814.4 627.1 L814.5 628.7 L814.7 629.7 L814.9 630.9 L815.1 632.4 L815.2 633.6 L815.4 634.6 L815.6 636.0 L815.8 637.1 L815.9 638.6 L816.1 639.7 L816.3 641.1 L816.5 642.0 L816.6 643.6 L816.8 644.7 L817.2 643.3 L817.7 642.7 L818.1 641.2 L818.6 640.5 L819.0 638.6 L819.5 637.4 L820.0 636.7 L820.4 635.9 L820.9 634.4 L821.3 633.3 L821.7 632.1 L822.1 630.7 L822.5 629.9 L822.8 631.2 L823.1 632.4 L823.4 633.9 L823.6 635.1 L823.9 636.3 L824.2 637.3 L824.5 638.6 L824.8 640.1 L825.5 639.5 L826.3 638.0 L827.0 636.4 L827.8 635.9 L828.5 634.1 L829.2 633.3 L829.6 631.9 L830.0 630.9 L830.4 629.0 L830.8 627.7 L831.2 626.3 L831.6 625.3 L832.1 626.1 L832.6 627.5 L833.1 628.6 L833.6 629.7 L834.1 630.6 L834.6 632.1 L835.0 633.3 L836.2 632.4 L837.3 632.1 L838.4 631.0 L838.8 629.6 L839.2 628.5 L839.6 627.1 L840.0 626.1 L840.4 624.4 L840.7 623.4 L841.1 622.1 L841.5 620.8 L841.9 619.6 L842.0 618.4 L842.1 617.2 L842.2 615.9 L842.3 614.8 L842.3 613.6 L842.4 612.3 L842.5 611.1 L842.6 609.9 L842.7 608.6 L842.7 607.4 L842.8 606.2 L842.9 604.9 L843.0 603.7 L843.1 602.5 L843.2 601.2 L843.2 600.0 L843.3 598.8 L843.4 597.6 L843.5 596.3 L843.6 595.2 L843.6 594.0 L843.7 592.8 L843.8 591.5 L843.9 590.4 L844.0 589.0 L844.1 587.8 L844.1 586.6 L844.2 585.4 L844.3 584.2 L844.4 582.9 L844.5 581.8 L844.6 580.6 L844.7 579.2 L844.8 577.9 L844.9 576.7 L845.0 575.6 L845.1 574.3 L845.2 573.0 L845.3 571.8 L845.4 570.7 L845.4 569.5 L845.5 568.1 L845.6 566.9 L845.7 565.7 L845.8 564.3 L845.9 563.1 L846.0 562.0 L846.1 560.7 L846.2 559.5 L846.3 558.2 L846.4 557.0 L846.5 555.8 L846.6 554.5 L846.7 552.9 L846.7 551.6 L846.8 550.2 L846.9 548.9 L847.1 550.2 L847.2 551.5 L847.4 552.9 L847.5 554.0 L847.7 555.0 L847.9 556.4 L848.0 557.6 L848.2 558.9 L848.3 560.2 L848.5 561.6 L848.7 562.6 L848.8 563.9 L848.8 565.0 L848.9 566.2 L849.0 567.6 L849.1 568.6 L849.2 570.0 L849.2 571.1 L849.3 572.4 L849.4 573.5 L849.5 574.7 L849.6 576.0 L849.6 577.3 L849.7 578.5 L849.8 579.7 L849.9 580.8 L850.0 582.1 L850.0 583.3 L850.1 584.5 L850.2 585.8 L850.3 587.0 L850.4 588.3 L850.5 589.4 L850.5 590.7 L850.6 591.9 L850.7 593.1 L850.8 594.3 L850.9 595.5 L850.9 596.8 L851.0 598.1 L851.1 599.2 L851.1 600.3 L851.2 601.6 L851.2 602.8 L851.3 604.1 L851.4 605.2 L851.4 606.3 L851.5 607.7 L851.5 608.7 L851.6 610.0 L851.7 611.1 L851.7 612.5 L851.8 613.5 L851.8 614.9 L851.9 616.1 L852.0 617.2 L852.0 618.3 L852.1 619.6 L852.1 620.7 L852.2 622.0 L852.3 623.3 L852.3 624.4 L852.4 625.6 L852.4 626.8 L852.5 627.9 L852.6 629.2 L852.6 630.4 L852.7 631.6 L852.7 632.8 L852.8 634.0 L852.9 635.2 L852.9 636.3 L853.0 637.5 L853.1 638.8 L853.1 639.9 L853.2 641.2 L853.2 642.4 L853.8 643.5 L854.4 644.8 L855.0 645.9 L855.5 646.5 L856.1 648.4 L856.7 649.6 L857.3 649.9 L857.8 651.4 L858.4 652.9 L859.0 653.8 L860.7 653.6 L862.4 653.8 L862.9 655.3 L863.4 656.3 L863.9 657.4 L864.4 658.7 L864.8 659.8 L865.3 660.7 L865.8 661.8 L867.2 660.9 L868.7 661.7 L870.1 662.2 L871.5 661.8 L872.5 662.8 L873.4 663.8 L874.4 664.4 L875.3 666.0 L876.3 666.2 L877.2 667.5 L877.8 666.5 L878.3 665.1 L878.9 663.7 L879.4 662.4 L880.0 661.4 L880.5 660.4 L881.1 659.5 L881.6 657.9 L882.2 656.8 L882.7 656.1 L883.8 655.6 L884.8 655.1 L885.9 653.4 L887.0 652.7 L888.0 651.8 L888.9 651.1 L889.9 649.5 L890.9 649.2 L891.1 648.0 L891.2 646.8 L891.4 645.7 L891.5 644.4 L891.6 643.1 L891.8 641.8 L891.9 640.7 L892.1 639.4 L892.2 638.1 L892.4 637.0 L892.5 635.6 L892.6 634.3 L892.8 633.2 L892.9 632.1 L893.1 630.7 L893.2 629.3 L893.4 628.1 L893.5 627.2 L893.7 625.6 L893.8 624.6 L893.9 623.1 L894.1 622.1 L894.2 621.0 L894.4 619.6 L894.4 618.4 L894.5 617.2 L894.5 616.0 L894.5 614.8 L894.6 613.6 L894.6 612.4 L894.7 611.1 L894.7 610.0 L894.7 608.8 L894.8 607.6 L894.8 606.4 L894.9 605.2 L894.9 604.1 L894.9 602.8 L895.0 601.7 L895.0 600.4 L895.1 599.2 L895.1 598.0 L895.1 596.8 L895.2 595.6 L895.2 594.4 L895.3 593.2 L895.3 592.0 L895.3 590.8 L895.4 589.6 L895.4 588.4 L895.5 587.2 L895.5 586.0 L895.5 584.8 L895.6 583.6 L895.6 582.4 L895.7 581.2 L895.7 580.0 L895.7 578.7 L895.8 577.6 L895.8 576.5 L895.9 575.2 L895.9 574.0 L895.9 572.8 L896.0 571.6 L896.0 570.4 L896.1 569.2 L896.1 568.0 L896.1 566.7 L896.2 565.7 L896.2 564.5 L896.3 563.2 L896.3 562.0 L896.3 560.8 L896.4 559.7 L896.4 558.4 L896.5 557.2 L896.5 556.1 L896.5 554.8 L896.6 553.6 L896.6 552.4 L896.7 551.2 L896.7 549.9 L896.8 548.8 L896.8 547.5 L896.9 546.3 L896.9 545.2 L897.0 544.0 L897.0 542.7 L897.1 541.5 L897.1 540.3 L897.2 539.1 L897.2 537.9 L897.3 536.7 L897.3 535.5 L897.4 534.2 L897.4 533.0 L897.5 531.8 L897.5 530.6 L897.6 529.4 L897.6 528.1 L897.7 526.9 L897.7 525.7 L897.8 524.5 L897.8 523.3 L897.9 522.1 L897.9 521.0 L898.0 519.7 L898.0 518.4 L898.1 517.3 L898.1 516.0 L898.2 514.8 L898.2 513.7 L898.2 512.4 L898.3 511.2 L898.4 509.9 L898.5 508.6 L898.6 507.5 L898.7 506.2 L898.8 505.1 L898.9 503.8 L899.0 504.9 L899.1 506.3 L899.2 507.2 L899.3 508.6 L899.4 509.7 L899.5 511.0 L899.6 512.2 L899.7 513.5 L899.8 514.5 L899.9 515.9 L900.0 517.0 L900.0 518.1 L900.1 519.4 L900.1 520.7 L900.2 521.8 L900.3 523.1 L900.3 524.2 L900.4 525.4 L900.4 526.7 L900.5 527.9 L900.6 529.1 L900.6 530.2 L900.7 531.5 L900.7 532.6 L900.8 533.9 L900.9 535.0 L900.9 536.1 L901.0 537.4 L901.0 538.6 L901.1 539.9 L901.2 541.0 L901.2 542.1 L901.3 543.4 L901.3 544.7 L901.4 545.9 L901.5 546.9 L901.5 548.2 L901.6 549.4 L901.6 550.6 L901.7 551.9 L901.8 553.1 L901.8 554.3 L901.9 555.4 L901.9 556.6 L902.0 557.7 L902.1 559.0 L902.1 560.2 L902.2 561.5 L902.2 562.6 L902.3 563.8 L902.3 565.1 L902.4 566.3 L902.4 567.5 L902.5 568.7 L902.5 569.9 L902.6 571.1 L902.6 572.2 L902.7 573.5 L902.7 574.7 L902.8 575.9 L902.8 577.1 L902.9 578.4 L902.9 579.6 L903.0 580.8 L903.0 582.0 L903.1 583.2 L903.1 584.4 L903.2 585.7 L903.2 586.9 L903.3 588.1 L903.3 589.2 L903.4 590.4 L903.4 591.7 L903.5 592.9 L903.5 594.2 L903.6 595.3 L903.6 596.5 L903.6 597.8 L903.7 598.9 L903.7 600.2 L903.8 601.3 L903.8 602.7 L903.9 603.8 L903.9 605.1 L904.0 606.3 L904.0 607.5 L904.1 608.7 L904.1 609.8 L904.2 611.1 L904.2 612.4 L904.3 613.6 L904.3 614.7 L904.4 616.0 L904.4 617.1 L904.5 618.4 L904.5 619.6 L904.7 620.8 L904.8 622.2 L904.9 623.0 L905.1 624.5 L905.2 625.5 L905.3 626.9 L905.5 628.2 L905.6 629.3 L905.8 630.6 L905.9 631.6 L906.0 632.7 L906.2 634.2 L906.3 635.3 L906.4 636.3 L906.6 637.8 L906.7 639.1 L906.9 640.1 L907.6 640.5 L908.4 642.2 L909.2 642.8 L910.0 643.3 L910.8 644.3 L911.6 645.8 L912.3 646.5 L913.0 647.9 L913.7 649.0 L914.4 650.4 L915.1 651.7 L915.7 653.0 L916.4 654.2 L917.1 654.9 L918.6 654.0 L920.2 654.4 L921.7 653.8 L922.5 655.2 L923.3 655.4 L924.1 656.9 L924.9 658.3 L925.7 658.9 L926.6 659.9 L927.4 660.6 L928.2 659.4 L929.1 659.4 L929.9 658.2 L930.7 656.6 L931.6 655.6 L932.4 654.9 L933.9 653.8 L935.3 654.3 L936.7 654.8 L938.2 653.8 L939.0 653.2 L939.9 651.4 L940.8 650.5 L941.7 649.5 L942.6 648.6 L943.5 647.6 L944.4 647.0 L944.7 645.5 L945.1 644.5 L945.4 643.6 L945.8 642.3 L946.1 640.9 L946.5 639.5 L946.8 638.7 L947.2 636.9 L947.5 635.6 L947.9 634.5 L948.2 633.7 L948.6 632.4 L948.9 631.0 L950.2 629.9 L951.5 629.0 L952.9 628.7 L954.0 628.2 L955.2 627.2 L956.3 626.4 L956.6 627.9 L956.9 629.0 L957.1 630.1 L957.4 631.4 L957.6 632.8 L957.9 634.3 L958.2 635.6 L958.5 636.9 L958.8 638.1 L959.1 639.0 L959.4 640.8 L959.7 641.7 L960.1 643.0 L960.4 644.1 L960.7 645.3 L961.0 646.6 L961.3 648.1 L961.6 649.2 L962.4 650.7 L963.1 650.9 L963.9 652.0 L964.6 652.9 L965.3 653.6 L966.1 654.5 L966.8 656.1 L967.0 654.9 L967.1 653.8 L967.2 652.2 L967.4 651.0 L967.5 649.9 L967.6 648.6 L967.7 647.3 L967.9 646.3 L968.0 644.8 L968.1 643.6 L968.3 642.6 L968.4 641.2 L968.5 640.0 L968.7 638.8 L968.8 637.3 L968.9 636.4 L969.1 634.8 L969.2 633.6 L969.3 632.5 L969.5 631.4 L969.6 630.0 L969.7 628.9 L969.7 627.5 L969.8 626.3 L969.9 625.1 L970.0 623.9 L970.0 622.8 L970.1 621.5 L970.2 620.4 L970.3 619.1 L970.3 617.8 L970.4 616.7 L970.5 615.5 L970.5 614.3 L970.6 613.2 L970.7 611.9 L970.8 610.7 L970.8 609.4 L970.9 608.2 L971.0 607.1 L971.0 605.8 L971.1 604.7 L971.2 603.4 L971.3 602.1 L971.3 600.9 L971.4 599.8 L971.5 598.6 L971.6 597.4 L971.6 596.3 L971.7 595.0 L971.8 593.9 L971.9 592.6 L971.9 591.5 L972.0 590.3 L972.1 588.9 L972.2 587.8 L972.3 586.5 L972.3 585.4 L972.4 584.2 L972.5 582.9 L972.6 581.7 L972.7 580.5 L972.7 579.4 L972.8 578.3 L972.9 577.1 L973.0 575.7 L973.1 574.6 L973.1 573.3 L973.2 572.2 L973.3 571.0 L973.4 569.7 L973.5 568.5 L973.5 567.4 L973.6 566.1 L973.7 565.1 L973.8 563.9 L973.9 562.5 L973.9 561.5 L974.0 560.3 L974.1 558.9 L974.2 557.8 L974.3 556.6 L974.3 555.3 L974.4 554.3 L974.5 553.0 L974.6 551.9 L974.7 550.7 L974.7 549.5 L974.8 548.2 L974.9 547.0 L974.9 545.8 L974.9 544.6 L974.9 543.4 L975.0 542.2 L975.0 541.0 L975.0 539.8 L975.0 538.6 L975.0 537.4 L975.0 536.2 L975.0 535.0 L975.0 533.8 L975.1 532.6 L975.1 531.4 L975.1 530.2 L975.1 529.0 L975.1 527.8 L975.1 526.5 L975.1 525.4 L975.2 524.2 L975.2 523.0 L975.2 521.7 L975.2 520.5 L975.2 519.4 L975.2 518.1 L975.2 517.0 L975.3 515.8 L975.3 514.5 L975.3 513.3 L975.3 512.2 L975.3 510.9 L975.3 509.7 L975.3 508.5 L975.3 507.3 L975.4 506.1 L975.4 504.9 L975.4 503.7 L975.4 502.5 L975.4 501.3 L975.4 500.1 L975.4 498.9 L975.5 497.7 L975.5 496.5 L975.5 495.3 L975.5 494.1 L975.5 492.9 L975.5 491.7 L975.5 490.5 L975.5 489.3 L975.6 488.1 L975.6 486.9 L975.6 485.7 L975.6 484.5 L975.6 483.3 L975.6 482.1 L975.6 480.9 L975.7 479.7 L975.7 478.5 L975.7 477.3 L975.7 476.1 L975.7 474.9 L975.7 473.7 L975.7 472.5 L975.7 471.3 L975.8 470.1 L975.8 468.9 L975.8 467.6 L975.8 466.4 L975.8 465.2 L975.8 464.0 L975.8 462.8 L975.9 461.6 L975.9 460.4 L975.9 459.2 L975.9 458.1 L975.9 456.8 L975.9 455.6 L975.9 454.4 L976.0 453.2 L976.0 452.0 L976.0 450.8 L976.0 449.6 L976.0 448.4 L976.0 447.2 L976.0 446.0 L976.0 444.8 L976.1 443.6 L976.1 442.4 L976.1 441.2 L976.1 440.0 L976.1 438.8 L976.1 437.6 L976.2 436.4 L976.2 435.2 L976.2 434.0 L976.2 432.8 L976.2 431.6 L976.2 430.4 L976.3 429.2 L976.3 428.0 L976.3 426.8 L976.3 425.6 L976.3 424.4 L976.4 423.2 L976.4 422.0 L976.4 420.8 L976.4 419.6 L976.4 418.4 L976.5 417.2 L976.5 416.0 L976.5 414.8 L976.5 413.6 L976.5 412.4 L976.5 411.2 L976.6 410.0 L976.6 408.8 L976.6 407.6 L976.6 406.4 L976.6 405.2 L976.7 404.0 L976.7 402.8 L976.7 401.6 L976.7 400.4 L976.7 399.2 L976.8 398.0 L976.8 396.8 L976.8 395.6 L976.8 394.4 L976.8 393.2 L976.8 392.0 L976.9 390.8 L976.9 389.6 L976.9 388.4 L976.9 387.2 L976.9 386.0 L977.0 384.8 L977.0 383.6 L977.0 382.4 L977.0 381.2 L977.0 380.0 L977.1 378.8 L977.1 377.6 L977.1 376.4 L977.1 375.2 L977.1 374.0 L977.1 372.8 L977.2 371.6 L977.2 370.4 L977.2 369.2 L977.2 368.0 L977.2 366.8 L977.3 365.6 L977.3 364.4 L977.3 363.2 L977.3 362.0 L977.3 360.8 L977.4 359.6 L977.4 358.4 L977.4 357.2 L977.4 356.0 L977.4 354.8 L977.4 353.6 L977.5 352.4 L977.5 351.2 L977.5 350.0 L977.5 348.8 L977.5 347.6 L977.6 346.3 L977.6 345.1 L977.6 343.9 L977.6 342.7 L977.6 341.5 L977.7 340.2 L977.7 339.0 L977.7 337.8 L977.7 336.6 L977.7 335.4 L977.8 334.1 L977.8 332.9 L977.8 331.7 L977.8 330.5 L977.8 329.2 L977.9 328.1 L977.9 326.8 L977.9 325.6 L977.9 324.4 L977.9 323.2 L977.9 322.0 L978.0 320.7 L978.0 319.5 L978.0 318.3 L978.0 317.1 L978.0 315.9 L978.1 314.6 L978.1 313.4 L978.1 312.2 L978.1 311.0 L978.1 309.7 L978.2 308.6 L978.2 307.3 L978.2 306.1 L978.2 304.9 L978.2 303.7 L978.3 302.5 L978.3 301.2 L978.3 300.0 L978.3 298.8 L978.4 297.6 L978.4 296.4 L978.4 295.2 L978.5 294.0 L978.5 292.8 L978.5 291.6 L978.6 290.3 L978.6 289.1 L978.6 288.0 L978.7 286.8 L978.7 285.6 L978.7 284.4 L978.8 283.2 L978.8 282.0 L978.8 283.2 L978.9 284.4 L978.9 285.6 L978.9 286.8 L979.0 288.0 L979.0 289.2 L979.0 290.4 L979.1 291.6 L979.1 292.8 L979.1 294.0 L979.2 295.2 L979.2 296.4 L979.2 297.6 L979.3 298.8 L979.3 300.0 L979.3 301.2 L979.3 302.5 L979.4 303.7 L979.4 304.9 L979.4 306.1 L979.4 307.3 L979.4 308.6 L979.4 309.7 L979.5 311.0 L979.5 312.2 L979.5 313.4 L979.5 314.6 L979.5 315.8 L979.5 317.1 L979.6 318.3 L979.6 319.5 L979.6 320.7 L979.6 321.9 L979.6 323.2 L979.6 324.4 L979.7 325.6 L979.7 326.8 L979.7 328.1 L979.7 329.3 L979.7 330.5 L979.7 331.7 L979.8 332.9 L979.8 334.1 L979.8 335.3 L979.8 336.6 L979.8 337.8 L979.8 339.0 L979.9 340.3 L979.9 341.5 L979.9 342.7 L979.9 343.9 L979.9 345.1 L979.9 346.3 L980.0 347.6 L980.0 348.8 L980.0 350.0 L980.0 351.2 L980.0 352.4 L980.0 353.6 L980.0 354.8 L980.1 356.0 L980.1 357.2 L980.1 358.4 L980.1 359.6 L980.1 360.8 L980.1 362.0 L980.1 363.2 L980.1 364.4 L980.1 365.6 L980.1 366.8 L980.2 368.0 L980.2 369.2 L980.2 370.4 L980.2 371.6 L980.2 372.8 L980.2 374.0 L980.2 375.2 L980.2 376.4 L980.2 377.6 L980.3 378.8 L980.3 380.0 L980.3 381.2 L980.3 382.4 L980.3 383.6 L980.3 384.8 L980.3 386.0 L980.3 387.2 L980.3 388.4 L980.4 389.6 L980.4 390.8 L980.4 392.0 L980.4 393.2 L980.4 394.4 L980.4 395.6 L980.4 396.8 L980.4 398.0 L980.4 399.2 L980.4 400.4 L980.5 401.6 L980.5 402.8 L980.5 404.0 L980.5 405.2 L980.5 406.4 L980.5 407.6 L980.5 408.8 L980.5 410.0 L980.5 411.2 L980.6 412.4 L980.6 413.6 L980.6 414.8 L980.6 416.0 L980.6 417.2 L980.6 418.4 L980.6 419.6 L980.6 420.8 L980.6 422.0 L980.7 423.2 L980.7 424.4 L980.7 425.6 L980.7 426.8 L980.7 428.0 L980.7 429.2 L980.7 430.4 L980.7 431.6 L980.7 432.8 L980.7 434.0 L980.8 435.2 L980.8 436.4 L980.8 437.6 L980.8 438.8 L980.8 440.0 L980.8 441.2 L980.8 442.4 L980.8 443.6 L980.9 444.8 L980.9 446.0 L980.9 447.2 L980.9 448.4 L980.9 449.6 L980.9 450.8 L980.9 452.0 L980.9 453.2 L981.0 454.4 L981.0 455.6 L981.0 456.8 L981.0 458.0 L981.0 459.2 L981.0 460.4 L981.0 461.7 L981.1 462.8 L981.1 464.1 L981.1 465.2 L981.1 466.4 L981.1 467.7 L981.1 468.8 L981.1 470.1 L981.2 471.3 L981.2 472.4 L981.2 473.7 L981.2 474.9 L981.2 476.1 L981.2 477.3 L981.2 478.5 L981.2 479.7 L981.3 480.9 L981.3 482.1 L981.3 483.3 L981.3 484.5 L981.3 485.7 L981.3 486.9 L981.3 488.1 L981.4 489.3 L981.4 490.5 L981.4 491.7 L981.4 492.9 L981.4 494.1 L981.4 495.3 L981.4 496.5 L981.4 497.7 L981.5 498.9 L981.5 500.1 L981.5 501.3 L981.5 502.5 L981.5 503.7 L981.5 504.9 L981.5 506.1 L981.6 507.3 L981.6 508.5 L981.6 509.7 L981.6 510.9 L981.6 512.1 L981.6 513.3 L981.6 514.5 L981.6 515.8 L981.7 517.0 L981.7 518.2 L981.7 519.3 L981.7 520.5 L981.7 521.8 L981.7 523.0 L981.7 524.2 L981.8 525.3 L981.8 526.6 L981.8 527.7 L981.8 529.0 L981.8 530.2 L981.8 531.4 L981.8 532.6 L981.9 533.8 L981.9 535.0 L981.9 536.2 L981.9 537.4 L981.9 538.6 L981.9 539.8 L981.9 541.0 L981.9 542.2 L982.0 543.4 L982.0 544.6 L982.0 545.8 L982.0 547.0 L982.1 548.2 L982.1 549.4 L982.2 550.5 L982.2 551.9 L982.3 553.1 L982.3 554.2 L982.4 555.4 L982.4 556.6 L982.5 557.8 L982.5 558.9 L982.6 560.2 L982.7 561.5 L982.7 562.5 L982.8 563.8 L982.8 565.0 L982.9 566.2 L982.9 567.5 L983.0 568.6 L983.0 569.8 L983.1 570.9 L983.2 572.1 L983.2 573.4 L983.3 574.7 L983.3 575.8 L983.4 577.1 L983.4 578.2 L983.5 579.4 L983.5 580.6 L983.6 581.9 L983.7 583.1 L983.7 584.2 L983.8 585.4 L983.8 586.6 L983.9 587.8 L983.9 588.9 L984.0 590.2 L984.0 591.4 L984.1 592.6 L984.1 593.8 L984.2 595.0 L984.2 596.2 L984.3 597.4 L984.3 598.6 L984.3 599.8 L984.3 601.0 L984.4 602.2 L984.4 603.5 L984.4 604.7 L984.4 605.9 L984.5 607.0 L984.5 608.3 L984.5 609.5 L984.6 610.7 L984.6 611.9 L984.6 613.1 L984.6 614.3 L984.7 615.6 L984.7 616.8 L984.7 617.9 L984.8 619.1 L984.8 620.4 L984.8 621.5 L984.8 622.8 L984.9 624.0 L984.9 625.2 L984.9 626.4 L984.9 627.6 L985.0 628.8 L985.0 630.0 L985.0 631.2 L985.1 632.5 L985.1 633.8 L985.1 635.0 L985.2 636.3 L985.2 637.6 L985.2 638.8 L985.2 640.1 L985.3 641.4 L985.3 642.7 L985.3 643.9 L985.4 645.1 L985.4 646.5 L985.4 647.7 L985.5 649.0 L985.5 650.3 L985.5 651.5 L987.2 652.1 L988.9 651.5 L989.7 650.5 L990.4 648.9 L991.1 648.4 L991.8 646.7 L992.5 645.4 L993.2 644.2 L993.9 643.4 L994.6 642.4 L994.8 641.4 L995.0 640.1 L995.2 638.9 L995.4 637.5 L995.5 636.4 L995.7 635.4 L995.9 634.2 L996.1 632.7 L996.3 631.6 L996.4 630.4 L996.6 629.1 L996.8 628.0 L997.0 626.6 L997.2 625.7 L997.3 624.4 L997.5 623.3 L997.7 622.1 L997.9 620.7 L998.1 619.6 L998.4 618.8 L998.8 617.7 L999.2 616.2 L999.6 614.7 L1000.0 614.0 L1000.3 612.9 L1000.7 611.4 L1001.1 610.7 L1001.5 609.3 L1001.8 610.5 L1002.0 611.8 L1002.3 612.9 L1002.6 614.5 L1002.9 615.9 L1003.2 617.2 L1003.4 618.2 L1003.7 619.6 L1003.8 620.8 L1004.0 621.9 L1004.1 623.2 L1004.2 624.4 L1004.3 625.6 L1004.5 626.8 L1004.6 628.1 L1004.7 629.2 L1004.8 630.6 L1004.9 631.6 L1005.1 633.0 L1005.2 634.1 L1005.3 635.4 L1005.4 636.8 L1005.5 637.8 L1005.7 639.2 L1005.8 640.4 L1005.9 641.6 L1006.0 642.8 L1006.2 644.1 L1006.3 645.2 L1006.4 646.4 L1006.5 647.5 L1006.6 648.7 L1006.8 650.1 L1006.9 651.4 L1007.0 652.7 L1007.1 653.8 L1007.5 655.3 L1007.8 655.9 L1008.2 657.8 L1008.6 658.6 L1008.9 659.9 L1009.3 660.9 L1009.6 662.1 L1010.0 663.6 L1010.3 664.9 L1010.7 666.3 L1011.0 667.4 L1011.4 668.3 L1011.7 669.8 L1013.2 669.9 L1014.6 670.4 L1016.0 669.3 L1017.4 669.8 L1018.0 668.4 L1018.5 667.2 L1019.1 666.8 L1019.7 664.9 L1020.2 664.2 L1020.8 662.8 L1021.3 662.0 L1021.9 660.6 L1022.4 659.2 L1023.0 658.4 L1023.7 657.6 L1024.4 656.1 L1025.1 654.4 L1025.8 653.5 L1026.6 652.7 L1027.3 653.4 L1028.0 654.7 L1028.8 655.7 L1029.5 657.4 L1030.2 658.4 L1030.9 659.5 L1031.6 660.3 L1032.3 661.2 L1033.0 662.6 L1033.7 663.3 L1034.4 664.8 L1035.1 666.0 L1035.8 666.8 L1036.5 668.1 L1037.2 668.6 L1038.3 669.1 L1039.3 670.8 L1040.4 670.9 L1041.5 672.4 L1042.6 672.9 L1043.7 673.2 L1044.8 674.3 L1045.8 673.3 L1046.8 673.6 L1047.9 672.3 L1048.9 671.2 L1049.9 671.2 L1050.9 669.9 L1052.0 669.8 L1053.2 668.6 L1054.5 668.6 L1055.8 669.1 L1057.1 667.7 L1058.3 668.5 L1059.6 667.5 L1061.0 666.9 L1062.5 667.8 L1063.9 667.4 L1065.3 668.6 L1065.9 667.7 L1066.5 666.5 L1067.2 665.5 L1067.8 664.4 L1068.4 663.3 L1069.0 661.7 L1069.6 660.5 L1070.2 659.6 L1070.8 658.4 L1071.6 657.4 L1072.4 656.1 L1073.3 655.5 L1074.1 654.6 L1074.9 653.8 L1076.1 654.1 L1077.2 652.3 L1078.4 653.0 L1079.6 652.6 L1080.8 652.6 L1081.9 651.5 L1082.6 650.6 L1083.2 649.7 L1083.9 648.1 L1084.5 647.9 L1085.2 646.0 L1085.8 645.6 L1086.5 644.0 L1087.1 643.1 L1087.7 642.4 L1088.7 642.0 L1089.7 640.9 L1090.7 640.6 L1091.7 639.2 L1092.7 639.0 L1093.1 639.8 L1093.6 641.1 L1094.1 642.4 L1094.5 643.8 L1095.0 644.7 L1095.4 646.2 L1095.7 647.0 L1096.1 648.7 L1096.4 649.6 L1096.8 650.6 L1097.2 652.0 L1097.5 653.4 L1097.9 654.7 L1098.2 655.4 L1098.6 657.3 L1099.0 658.2 L1099.3 659.0 L1099.7 660.6 L1101.0 660.7 L1102.4 662.1 L1103.7 661.2 L1105.0 662.1 L1106.4 662.9 L1107.2 662.2 L1108.0 660.5 L1108.8 660.3 L1109.6 659.1 L1110.4 657.7 L1111.2 657.4 L1112.1 656.1 L1112.8 656.7 L1113.5 658.0 L1114.2 659.8 L1115.0 660.6 L1115.6 661.9 L1116.3 662.6 L1116.9 663.9 L1117.6 665.6 L1118.2 666.0 L1118.9 667.5 L1119.4 665.9 L1119.8 665.2 L1120.3 663.8 L1120.8 663.1 L1121.3 661.5 L1121.7 660.4 L1122.2 659.6 L1122.7 658.8 L1123.2 657.3 L1123.6 656.5 L1124.1 655.4 L1124.6 653.8 L1124.9 652.7 L1125.1 651.4 L1125.4 650.0 L1125.6 648.6 L1125.9 647.7 L1126.2 646.2 L1126.4 645.2 L1126.7 643.9 L1126.9 642.8 L1127.2 641.6 L1127.4 640.3 L1127.7 639.3 L1128.0 637.8 L1129.1 636.5 L1130.3 635.1 L1130.9 636.0 L1131.4 638.0 L1132.0 639.1 L1132.6 640.1 L1132.8 641.2 L1133.0 642.5 L1133.2 643.7 L1133.4 644.8 L1133.7 646.2 L1133.9 647.6 L1134.1 648.2 L1134.3 649.9 L1134.5 651.1 L1134.7 652.3 L1135.0 653.2 L1135.2 654.5 L1135.4 655.6 L1135.6 656.8 L1135.8 657.8 L1136.0 659.1 L1136.3 660.4 L1136.5 661.5 L1136.7 662.7 L1136.9 664.1 L1137.1 665.2 L1138.8 664.8 L1140.6 665.2 L1140.7 664.2 L1140.9 662.6 L1141.1 661.5 L1141.3 660.4 L1141.5 659.1 L1141.6 658.2 L1141.8 656.8 L1142.0 655.4 L1142.2 654.3 L1142.4 653.3 L1142.5 651.9 L1142.7 650.7 L1142.9 649.5 L1143.1 648.2 L1143.3 647.3 L1143.4 645.9 L1143.6 644.7 L1143.8 643.4 L1144.0 642.4 L1144.6 641.3 L1145.1 640.4 L1145.7 639.4 L1146.3 638.3 L1146.8 636.2 L1147.4 635.6 L1148.0 636.7 L1148.5 637.8 L1149.1 639.0 L1149.7 640.0 L1150.3 641.7 L1150.8 642.4 L1151.1 643.7 L1151.3 644.8 L1151.5 646.3 L1151.8 647.3 L1152.0 648.2 L1152.2 649.8 L1152.5 651.2 L1152.7 652.2 L1152.9 653.2 L1153.1 654.7 L1153.4 655.5 L1153.6 657.2 L1153.8 658.0 L1154.1 659.6 L1154.3 660.6 L1155.2 661.0 L1156.1 661.8 L1157.0 662.7 L1157.9 663.9 L1158.8 665.0 L1159.6 665.5 L1160.5 666.3 L1161.8 666.2 L1163.0 668.2 L1164.2 668.6 L1165.5 668.4 L1166.7 668.4 L1167.9 669.8 L1168.8 668.7 L1169.8 668.4 L1170.7 667.4 L1171.6 665.4 L1172.6 664.5 L1173.5 664.5 L1174.4 662.9 L1175.2 661.6 L1175.9 660.9 L1176.7 660.0 L1177.4 658.7 L1178.2 657.2 L1179.3 658.4 L1180.5 658.9 L1181.6 660.0 L1182.8 659.9 L1183.9 661.6 L1185.1 661.8 L1186.0 660.6 L1187.0 659.7 L1187.9 659.9 L1188.9 659.4 L1189.8 658.3 L1190.8 657.2 L1191.7 658.2 L1192.6 658.4 L1193.5 659.8 L1194.4 660.6 L1194.9 661.5 L1195.3 663.0 L1195.8 664.0 L1196.3 664.9 L1196.7 666.4 L1197.2 667.7 L1197.6 668.8 L1198.1 669.4 L1198.6 671.3 L1199.0 672.0 L1200.4 673.2 L1201.7 672.7 L1203.0 674.2 L1204.3 673.3 L1205.6 674.3 L1206.1 673.1 L1206.7 672.4 L1207.2 670.5 L1207.8 669.7 L1208.3 668.1 L1208.9 667.2 L1209.4 666.2 L1209.9 665.5 L1210.5 664.2 L1211.0 662.9 L1212.2 661.7 L1213.4 662.3 L1214.6 661.6 L1215.9 660.6 L1216.8 661.5 L1217.7 662.5 L1218.7 664.4 L1219.6 665.2 L1220.3 666.7 L1221.1 666.9 L1221.8 668.0 L1222.6 669.0 L1223.3 670.7 L1224.0 670.6 L1224.8 671.6 L1225.5 673.2 L1226.8 673.0 L1228.0 673.9 L1229.2 675.1 L1230.5 673.9 L1231.7 675.6 L1233.0 675.5 L1234.2 675.2 L1235.5 675.5 L1236.8 675.3 L1238.1 674.5 L1239.4 673.4 L1240.7 674.2 L1241.9 673.2 L1242.2 671.7 L1242.4 671.0 L1242.6 669.5 L1242.8 668.2 L1243.1 667.3 L1243.3 665.9 L1243.5 664.6 L1243.7 663.4 L1244.0 662.2 L1244.2 660.9 L1244.4 659.9 L1244.6 658.6 L1244.9 657.3 L1245.1 656.0 L1245.3 654.8 L1245.5 653.8 L1245.7 652.7 L1245.9 651.5 L1246.0 650.4 L1246.2 648.9 L1246.3 648.0 L1246.5 646.8 L1246.7 645.4 L1246.8 644.4 L1247.0 643.3 L1247.2 642.0 L1247.3 640.7 L1247.5 639.6 L1247.6 638.1 L1247.8 636.9 L1248.0 635.7 L1248.1 634.8 L1248.3 633.7 L1248.5 632.2 L1248.6 631.0 L1248.8 630.1 L1248.9 628.7 L1249.4 627.6 L1249.8 625.6 L1250.3 624.1 L1250.7 623.0 L1251.0 624.2 L1251.2 625.5 L1251.5 626.6 L1251.8 627.9 L1252.0 629.6 L1252.3 630.5 L1252.5 632.0 L1252.8 633.3 L1252.9 634.6 L1253.0 635.8 L1253.2 636.9 L1253.3 638.1 L1253.4 639.5 L1253.6 640.7 L1253.7 642.0 L1253.8 643.2 L1254.0 644.5 L1254.1 645.9 L1254.2 646.8 L1254.4 648.1 L1254.5 649.6 L1254.6 650.7 L1254.8 652.0 L1254.9 653.0 L1255.1 654.6 L1255.2 655.5 L1255.3 657.0 L1255.5 658.1 L1255.6 659.5 L1255.7 660.6 L1256.1 662.0 L1256.5 663.1 L1257.0 664.4 L1257.4 665.0 L1257.8 666.6 L1258.2 667.6 L1258.6 668.4 L1259.0 669.5 L1259.4 670.9 L1260.5 670.8 L1261.6 672.7 L1262.7 672.3 L1263.8 672.9 L1264.9 673.1 L1266.0 674.3 L1267.1 674.2 L1268.2 673.3 L1269.2 672.1 L1270.3 672.5 L1271.4 671.5 L1272.4 670.9 L1273.1 670.1 L1273.9 668.8 L1274.6 667.4 L1275.3 666.2 L1276.0 665.6 L1276.7 663.7 L1277.4 662.9 L1278.3 663.3 L1279.2 665.2 L1280.2 665.9 L1281.1 667.1 L1282.0 667.5 L1282.5 666.4 L1283.1 665.7 L1283.6 664.0 L1284.2 662.5 L1284.7 661.9 L1285.3 660.4 L1285.8 659.4 L1286.4 658.2 L1287.0 657.0 L1287.5 656.1 L1288.7 655.0 L1290.0 653.8 L1290.3 655.2 L1290.6 656.1 L1290.9 658.0 L1291.3 658.9 L1291.6 660.5 L1291.9 661.5 L1292.3 662.9 L1292.7 663.9 L1293.1 665.3 L1293.5 666.5 L1293.9 667.8 L1294.3 669.3 L1294.7 670.6 L1295.1 671.5 L1295.5 673.1 L1295.9 674.3 L1296.3 675.5 L1297.5 674.2 L1298.6 674.1 L1299.7 672.5 L1300.9 672.7 L1302.0 671.3 L1303.1 670.9 L1304.0 670.0 L1304.9 669.5 L1305.8 668.2 L1306.7 667.1 L1307.6 666.1 L1308.5 664.7 L1309.3 664.1 L1310.1 665.2 L1310.8 665.8 L1311.6 667.5 L1312.3 669.1 L1313.0 669.8 L1313.8 670.7 L1314.6 672.0 L1315.4 673.2 L1316.1 673.7 L1316.9 674.2 L1317.7 676.2 L1318.5 676.6 L1319.6 676.1 L1320.8 675.5 L1322.0 674.4 L1323.2 675.0 L1324.4 674.7 L1325.6 673.7 L1326.7 673.2 L1327.9 672.2 L1329.0 672.5 L1330.2 671.2 L1331.3 671.0 L1332.5 670.3 L1333.6 670.3 L1334.7 669.8 L1335.8 669.4 L1336.9 668.7 L1337.9 667.5 L1339.0 667.5 L1340.1 667.8 L1341.3 668.4 L1342.4 669.5 L1343.5 670.9 L1344.7 670.9 L1345.3 669.9 L1345.9 669.0 L1346.6 667.0 L1347.2 665.8 L1347.8 665.2 L1348.5 663.8 L1349.1 662.7 L1349.7 662.0 L1350.4 660.6 L1350.6 659.2 L1350.8 658.4 L1351.0 657.0 L1351.2 655.9 L1351.4 654.4 L1351.6 653.2 L1351.8 652.3 L1352.0 650.8 L1352.2 649.8 L1352.4 648.5 L1352.6 647.3 L1352.8 646.4 L1353.0 645.1 L1353.2 643.6 L1353.4 642.5 L1353.6 641.2 L1353.8 640.1 L1354.4 638.5 L1354.9 638.0 L1355.5 636.5 L1356.1 635.1 L1356.6 636.5 L1357.2 637.4 L1357.8 638.4 L1358.4 640.0 L1358.9 640.8 L1359.5 642.7 L1360.1 643.9 L1360.6 644.7 L1362.2 645.1 L1363.7 643.4 L1365.2 643.5 L1365.7 644.5 L1366.2 646.2 L1366.7 646.9 L1367.2 648.2 L1367.7 649.2 L1368.5 650.6 L1369.3 651.2 L1370.1 652.6 L1370.9 653.8 L1371.3 654.7 L1371.7 655.9 L1372.1 657.9 L1372.4 658.9 L1372.8 660.1 L1373.2 661.0 L1373.6 662.3 L1374.0 664.0 L1374.3 665.3 L1374.7 666.3 L1375.1 667.7 L1375.5 668.6 L1376.4 667.6 L1377.3 667.3 L1378.2 666.2 L1379.1 664.6 L1380.0 664.1 L1381.5 664.9 L1383.1 663.1 L1384.6 664.1 L1385.1 665.0 L1385.7 666.3 L1386.3 667.9 L1386.9 668.5 L1387.4 669.4 L1388.0 671.1 L1388.6 672.2 L1389.1 673.2 L1390.6 672.4 L1392.0 673.6 L1393.4 673.0 L1394.8 673.2 L1395.9 673.6 L1397.0 675.0 L1398.1 675.4 L1399.2 676.2 L1400.3 676.3 L1401.4 676.6 L1402.6 676.8 L1403.8 677.1 L1405.0 677.1 L1406.1 677.4 L1407.3 678.5 L1408.5 678.9 L1409.8 678.1 L1411.1 678.7 L1412.5 677.8 L1413.8 678.2 L1415.1 678.8 L1416.4 677.8 L1417.7 677.7 L1418.9 678.3 L1420.1 677.0 L1421.3 676.5 L1422.5 677.4 L1423.7 676.7 L1424.9 676.6 L1425.7 675.7 L1426.6 674.4 L1427.4 673.1 L1428.2 671.9 L1429.0 670.9 L1430.4 670.3 L1431.7 671.9 L1433.0 670.3 L1434.4 670.8 L1435.7 671.7 L1437.0 670.9 L1438.0 670.6 L1439.0 670.1 L1439.9 668.8 L1440.9 667.5 L1441.9 667.6 L1442.9 665.7 L1443.8 666.2 L1444.8 664.7 L1445.8 664.1 L1446.5 663.1 L1447.2 662.2 L1447.9 660.7 L1448.6 659.9 L1449.3 658.7 L1450.0 657.2 L1450.7 656.1 L1450.9 655.1 L1451.0 653.6 L1451.2 652.3 L1451.4 651.4 L1451.5 650.2 L1451.7 648.9 L1451.9 647.5 L1452.0 646.5 L1452.2 645.2 L1452.4 644.0 L1452.5 642.8 L1452.7 641.8 L1452.8 640.5 L1453.0 639.5 L1453.2 638.0 L1453.3 637.0 L1453.5 635.7 L1453.7 634.5 L1453.8 633.2 L1454.0 632.3 L1454.2 631.0 L1454.3 629.7 L1454.4 628.6 L1454.5 627.4 L1454.6 626.2 L1454.7 625.0 L1454.8 623.8 L1454.9 622.4 L1455.0 621.4 L1455.1 620.1 L1455.2 619.0 L1455.3 617.6 L1455.4 616.3 L1455.6 615.3 L1455.7 614.0 L1455.8 613.0 L1455.9 611.6 L1456.0 610.4 L1456.1 609.1 L1456.2 608.0 L1456.3 606.7 L1456.4 605.7 L1456.5 604.3 L1456.6 603.3 L1456.7 602.1 L1456.8 600.7 L1456.9 599.6 L1457.0 598.4 L1457.2 596.9 L1457.3 596.0 L1457.4 594.6 L1457.5 593.4 L1457.6 592.2 L1457.9 591.2 L1458.2 589.5 L1458.5 588.1 L1458.8 587.4 L1459.1 585.5 L1459.4 584.6 L1459.7 583.3 L1460.0 582.0 L1460.2 583.2 L1460.4 584.6 L1460.5 585.8 L1460.7 586.7 L1460.9 588.2 L1461.0 589.5 L1461.2 590.6 L1461.4 591.7 L1461.5 593.1 L1461.7 594.1 L1461.9 595.5 L1462.0 596.8 L1462.1 598.0 L1462.2 599.2 L1462.3 600.5 L1462.4 601.7 L1462.4 602.9 L1462.5 604.1 L1462.6 605.2 L1462.7 606.4 L1462.7 607.7 L1462.8 608.9 L1462.9 610.2 L1463.0 611.3 L1463.0 612.6 L1463.1 613.8 L1463.2 615.1 L1463.3 616.2 L1463.3 617.6 L1463.4 618.6 L1463.5 620.0 L1463.6 621.2 L1463.6 622.4 L1463.7 623.6 L1463.8 624.7 L1463.9 626.0 L1463.9 627.2 L1464.0 628.4 L1464.1 629.7 L1464.2 630.9 L1464.2 632.0 L1464.3 633.3 L1464.6 634.4 L1465.0 636.0 L1465.3 636.9 L1465.6 638.0 L1465.9 639.7 L1466.2 640.6 L1466.5 642.0 L1466.9 642.9 L1467.2 644.5 L1467.5 645.9 L1467.8 647.0 L1468.2 645.8 L1468.7 644.6 L1469.1 643.8 L1469.6 642.4 L1470.0 641.2 L1470.5 639.8 L1470.9 639.1 L1471.4 638.1 L1471.8 636.3 L1472.3 635.6 L1472.9 634.2 L1473.5 633.4 L1474.2 632.1 L1474.4 633.3 L1474.6 634.9 L1474.8 635.8 L1475.0 637.1 L1475.2 638.5 L1475.3 639.7 L1475.5 641.3 L1475.7 642.4 L1475.9 643.6 L1476.0 644.8 L1476.1 646.0 L1476.2 647.3 L1476.3 648.4 L1476.5 649.6 L1476.6 650.9 L1476.7 652.0 L1476.8 653.1 L1476.9 654.3 L1477.1 655.7 L1477.2 656.8 L1477.3 658.1 L1477.4 659.1 L1477.5 660.5 L1477.7 661.6 L1477.8 662.7 L1477.9 664.0 L1478.0 665.2 L1478.5 666.5 L1478.9 667.6 L1479.4 668.5 L1479.9 669.5 L1480.3 670.6 L1480.8 672.1 L1481.2 673.3 L1481.7 674.7 L1482.2 675.4 L1482.6 676.6 L1483.8 675.9 L1485.0 676.2 L1486.2 675.5 L1487.4 675.2 L1488.6 674.3 L1489.7 673.1 L1490.8 673.7 L1491.9 672.4 L1493.0 672.3 L1494.1 670.8 L1495.2 670.9 L1496.7 669.9 L1498.2 670.0 L1499.7 670.9 L1500.5 671.3 L1501.3 672.3 L1502.2 674.3 L1503.0 674.9 L1503.8 675.2 L1504.6 677.4 L1505.4 677.7 L1506.8 677.4 L1508.2 677.6 L1509.6 677.4 L1511.0 676.6 L1512.4 676.6 L1513.7 676.8 L1515.1 676.7 L1516.4 675.3 L1517.7 674.8 L1519.1 674.6 L1520.4 674.3 L1521.7 674.5 L1522.9 673.6 L1524.2 672.5 L1525.4 671.9 L1526.7 672.7 L1527.9 672.0 L1528.3 670.5 L1528.7 669.7 L1529.1 668.3 L1529.5 666.7 L1529.9 665.4 L1530.3 664.6 L1530.7 662.9 L1531.1 662.3 L1531.5 660.6 L1532.4 659.5 L1533.3 658.1 L1534.2 657.6 L1535.1 656.1 L1535.6 657.3 L1536.1 658.5 L1536.6 659.8 L1537.1 660.6 L1537.7 661.3 L1538.2 662.6 L1538.7 664.1 L1539.4 665.6 L1540.2 666.2 L1540.9 666.5 L1541.6 667.6 L1542.4 668.6 L1543.1 669.8 L1543.9 671.2 L1544.6 672.0 L1545.7 673.3 L1546.7 673.3 L1547.8 673.7 L1548.9 675.0 L1549.9 674.3 L1551.0 675.5 L1551.8 674.9 L1552.5 673.6 L1553.3 672.1 L1554.1 671.7 L1554.8 669.9 L1555.6 669.4 L1556.4 668.2 L1557.1 666.8 L1557.9 666.7 L1558.7 665.2 L1559.6 664.0 L1560.5 663.4 L1561.4 662.9 L1562.3 661.6 L1563.3 660.6 L1564.2 660.0 L1565.1 659.5 L1566.4 659.0 L1567.7 659.5 L1569.1 658.7 L1570.4 658.4 L1570.8 660.0 L1571.2 660.6 L1571.6 662.4 L1572.0 663.8 L1572.4 665.1 L1572.8 665.8 L1573.2 666.9 L1573.6 668.7 L1574.0 669.8 L1574.9 670.6 L1575.7 671.7 L1576.6 671.9 L1577.5 673.9 L1578.3 674.1 L1579.2 675.7 L1580.1 675.3 L1580.9 676.6 L1581.8 677.7 L1583.0 677.1 L1584.2 676.4 L1585.4 675.6 L1586.7 676.2 L1587.9 675.0 L1589.1 674.3 L1590.1 674.1 L1591.1 672.6 L1592.2 672.2 L1593.2 670.9 L1594.0 672.1 L1594.8 672.4 L1595.6 674.1 L1596.5 675.1 L1597.3 676.1 L1598.1 676.8 L1598.9 677.7 L1600.3 676.7 L1601.6 678.0 L1603.0 678.0 L1604.3 676.2 L1605.7 675.9 L1607.1 676.6 L1608.3 675.9 L1609.5 675.8 L1610.8 674.8 L1612.0 674.8 L1613.2 674.4 L1614.5 673.2 L1615.0 672.1 L1615.6 671.0 L1616.1 669.9 L1616.7 668.5 L1617.2 667.2 L1617.8 666.7 L1618.3 665.2 L1618.4 663.9 L1618.5 662.9 L1618.6 661.6 L1618.7 660.4 L1618.8 659.2 L1618.9 658.1 L1619.0 656.8 L1619.1 655.5 L1619.2 654.4 L1619.3 653.2 L1619.4 652.0 L1619.5 650.6 L1619.6 649.6 L1619.7 648.4 L1619.8 647.1 L1619.9 645.8 L1620.0 644.8 L1620.1 643.5 L1620.2 642.2 L1620.3 641.2 L1620.4 640.0 L1620.5 638.7 L1620.6 637.5 L1620.7 636.3 L1620.8 635.0 L1620.9 633.9 L1621.0 632.7 L1621.1 631.5 L1621.2 630.2 L1621.3 629.1 L1621.4 627.8 L1621.5 626.6 L1621.6 625.5 L1621.7 624.2 L1621.9 622.9 L1622.1 621.9 L1622.3 620.7 L1622.5 619.5 L1622.7 618.1 L1622.8 616.7 L1623.0 615.6 L1623.2 614.3 L1623.4 613.1 L1623.6 612.0 L1623.7 610.9 L1623.9 609.9 L1624.1 608.2 L1624.3 607.4 L1624.5 606.0 L1624.7 604.8 L1624.8 606.1 L1625.0 607.3 L1625.2 608.3 L1625.3 609.7 L1625.5 610.9 L1625.7 612.0 L1625.8 613.4 L1626.0 614.6 L1626.2 615.5 L1626.3 617.0 L1626.5 618.1 L1626.7 619.5 L1626.8 620.3 L1627.0 621.9 L1627.2 623.0 L1627.3 624.2 L1627.4 625.3 L1627.6 626.6 L1627.7 627.9 L1627.8 629.0 L1627.9 630.2 L1628.0 631.5 L1628.1 632.7 L1628.2 633.7 L1628.3 635.0 L1628.4 636.2 L1628.5 637.3 L1628.6 638.6 L1628.7 639.7 L1628.8 641.0 L1628.9 642.2 L1629.0 643.4 L1629.1 644.7 L1629.2 645.8 L1629.3 647.0 L1629.4 648.4 L1629.5 649.5 L1629.6 650.6 L1629.7 652.0 L1629.8 653.0 L1629.9 654.3 L1630.0 655.4 L1630.1 656.7 L1630.2 657.9 L1630.3 659.3 L1630.4 660.4 L1630.5 661.7 L1630.6 662.9 L1630.7 663.9 L1630.8 665.2 L1631.2 666.0 L1631.7 667.8 L1632.2 668.4 L1632.6 669.7 L1633.1 671.0 L1633.5 672.0 L1634.0 673.5 L1634.5 673.9 L1634.9 675.2 L1635.4 676.6 L1636.8 675.7 L1638.2 676.1 L1639.7 677.6 L1641.1 676.6 L1642.5 675.7 L1643.9 676.7 L1645.4 676.0 L1646.8 676.6 L1647.9 677.6 L1649.1 677.2 L1650.2 678.7 L1651.3 678.9 L1652.3 678.0 L1653.2 677.6 L1654.2 675.5 L1655.1 675.1 L1656.1 674.7 L1657.0 673.2 L1658.1 674.1 L1659.2 674.9 L1660.3 676.5 L1661.3 677.3 L1662.4 677.7 L1663.6 678.6 L1664.8 678.3 L1665.9 678.6 L1667.1 678.9 L1668.3 680.5 L1669.5 680.0 L1670.8 679.6 L1672.1 680.0 L1673.4 681.2 L1674.8 682.0 L1676.1 682.5 L1677.4 682.2 L1678.8 682.3 L1680.1 682.8 L1681.4 681.7 L1682.7 681.8 L1684.0 682.2 L1685.3 680.9 L1686.6 681.7 L1687.9 681.2 L1689.2 681.0 L1690.5 680.2 L1691.8 680.9 L1693.1 681.6 L1694.4 681.8 L1695.7 681.5 L1697.0 681.2 L1697.7 680.4 L1698.4 679.0 L1699.1 677.9 L1699.8 677.0 L1700.6 676.1 L1701.3 675.0 L1702.0 674.6 L1702.7 673.2 L1703.8 674.1 L1705.0 673.9 L1706.1 674.6 L1707.3 675.7 L1708.4 676.6 L1709.5 677.4 L1710.7 677.7 L1711.9 677.1 L1713.0 676.7 L1714.2 676.2 L1715.4 675.1 L1716.6 675.4 L1717.7 674.3 L1719.1 673.8 L1720.4 673.2 L1721.8 673.0 L1723.1 673.7 L1724.5 673.2 L1725.7 672.8 L1726.9 673.0 L1728.1 672.7 L1729.3 671.2 L1730.5 671.8 L1731.7 670.9 L1732.6 670.2 L1733.4 669.0 L1734.2 668.6 L1735.0 666.6 L1735.8 665.9 L1736.7 664.9 L1737.5 664.1 L1738.8 663.3 L1740.1 663.5 L1741.5 662.9 L1742.1 664.4 L1742.7 665.2 L1743.3 665.9 L1743.9 667.2 L1744.5 668.8 L1745.1 669.8 L1746.1 670.7 L1747.0 671.1 L1747.9 672.3 L1748.8 673.6 L1749.7 674.3 L1750.6 675.5 L1751.7 674.2 L1752.9 673.6 L1754.0 672.3 L1755.1 672.0 L1756.1 673.5 L1757.0 673.7 L1758.0 674.8 L1758.9 675.9 L1759.9 676.7 L1760.8 677.7 L1762.2 678.3 L1763.5 676.7 L1764.8 677.2 L1766.2 676.3 L1767.5 676.0 L1768.8 676.6 L1770.0 677.4 L1771.1 677.3 L1772.2 678.5 L1773.4 678.5 L1774.5 678.3 L1775.7 678.8 L1776.8 680.0 L1778.1 678.8 L1779.3 679.4 L1780.6 678.7 L1781.8 678.1 L1783.1 677.8 L1784.4 677.7 L1784.9 676.5 L1785.5 675.8 L1786.0 674.7 L1786.6 673.5 L1787.1 672.3 L1787.7 670.5 L1788.2 669.6 L1788.8 668.9 L1789.3 667.5 L1790.3 667.8 L1791.2 669.3 L1792.2 669.2 L1793.1 671.0 L1794.1 670.9 L1795.0 672.0 L1796.4 671.4 L1797.7 672.5 L1799.0 670.7 L1800.4 672.0 L1801.7 670.7 L1803.0 670.9 L1804.1 671.1 L1805.2 671.5 L1806.2 671.9 L1807.3 673.0 L1808.4 673.7 L1809.5 674.3 L1810.7 674.7 L1811.9 674.8 L1813.1 676.9 L1814.3 677.5 L1815.4 677.8 L1816.6 677.7 L1817.8 678.9 L1818.7 677.5 L1819.5 676.9 L1820.3 675.5 L1821.1 674.7 L1821.9 673.6 L1822.7 673.4 L1823.5 672.0 L1824.3 673.2 L1825.1 673.6 L1825.8 675.4 L1826.6 676.0 L1827.3 677.1 L1828.1 677.7 L1829.2 677.6 L1830.4 676.8 L1831.5 676.3 L1832.7 675.8 L1833.8 675.5 L1835.2 675.0 L1836.6 676.8 L1838.1 676.0 L1839.5 676.6 L1840.0 675.1 L1840.4 674.0 L1840.9 673.1 L1841.3 672.2 L1841.8 670.9 L1842.2 669.6 L1842.7 669.0 L1843.1 667.1 L1843.6 666.1 L1844.1 665.2 L1845.5 666.3 L1846.9 665.9 L1848.4 666.3 L1849.4 666.9 L1850.5 666.8 L1851.6 668.2 L1852.6 668.6 L1853.5 669.8 L1854.4 670.9 L1855.3 670.8 L1856.2 672.4 L1857.1 673.2 L1858.1 674.4 L1859.1 675.4 L1860.1 675.0 L1861.0 675.9 L1862.0 677.8 L1863.0 677.9 L1864.0 678.9 L1865.1 679.4 L1866.1 680.5 L1867.2 680.4 L1868.2 680.9 L1869.3 682.2 L1870.4 683.0 L1871.4 683.4 L1872.2 683.0 L1873.1 680.9 L1873.9 680.6 L1874.7 678.9 L1875.6 678.5 L1876.4 677.5 L1877.2 676.2 L1878.0 675.2 L1878.9 674.3 L1880.1 673.7 L1881.4 674.0 L1882.6 673.5 L1883.9 672.4 L1885.1 672.0 L1885.7 673.4 L1886.2 674.3 L1886.8 675.4 L1887.4 676.7 L1887.9 677.8 L1888.5 678.8 L1889.1 680.0 L1889.7 681.2 L1891.0 681.6 L1892.3 680.5 L1893.7 680.8 L1895.0 679.7 L1896.4 681.1 L1897.7 680.0 L1899.0 679.0 L1900.3 680.2 L1901.7 678.8 L1903.0 679.6 L1904.3 678.1 L1905.6 678.9 L1906.9 679.0 L1908.3 678.8 L1909.6 679.9 L1910.9 680.6 L1912.3 679.9 L1913.6 681.2 L1915.0 681.1 L1916.3 680.6 L1917.7 681.3 L1919.1 680.2 L1920.5 679.3 L1921.8 680.0 L1922.9 678.5 L1923.9 678.2 L1925.0 676.6 L1925.9 677.3 L1926.9 678.0 L1927.8 678.6 L1928.8 679.3 L1929.7 679.9 L1930.7 681.2 L1931.9 680.7 L1933.1 679.4 L1934.2 678.9 L1935.4 678.3 L1936.6 677.9 L1937.8 677.7 L1939.1 678.2 L1940.5 676.6 L1941.9 676.0 L1943.2 676.6 L1944.6 677.6 L1945.9 677.0 L1947.2 678.0 L1948.6 677.9 L1949.9 677.5 L1951.2 677.7 L1952.5 677.4 L1953.8 676.4 L1955.1 676.9 L1956.4 676.3 L1957.7 676.6 L1958.2 675.3 L1958.7 674.6 L1959.2 673.3 L1959.7 672.4 L1960.2 671.1 L1960.7 670.1 L1961.2 668.3 L1961.6 667.5 L1962.1 666.6 L1962.6 665.2 L1962.8 664.1 L1963.0 662.9 L1963.2 661.5 L1963.4 660.2 L1963.6 659.2 L1963.8 658.0 L1964.0 656.9 L1964.2 655.5 L1964.4 654.5 L1964.6 653.3 L1964.8 652.0 L1965.0 650.8 L1965.2 649.8 L1965.4 648.1 L1965.6 647.0 L1965.8 645.9 L1966.0 644.7 L1966.5 643.5 L1967.0 642.6 L1967.4 641.2 L1967.9 640.0 L1968.3 639.0 L1968.8 639.7 L1969.3 640.8 L1969.7 642.4 L1970.2 643.4 L1970.7 644.7 L1971.1 645.6 L1971.5 646.6 L1971.9 647.7 L1972.3 649.0 L1972.8 650.4 L1973.2 651.3 L1973.6 652.6 L1974.0 653.8 L1974.1 655.1 L1974.3 656.1 L1974.4 657.5 L1974.5 658.7 L1974.7 660.0 L1974.8 661.2 L1974.9 662.1 L1975.1 663.3 L1975.2 664.7 L1975.3 665.9 L1975.5 667.2 L1975.6 668.3 L1975.8 669.6 L1975.9 670.5 L1976.0 671.9 L1976.2 673.0 L1976.3 674.3 L1977.2 674.6 L1978.2 675.2 L1979.1 677.2 L1980.1 677.2 L1981.0 678.5 L1982.0 678.9 L1983.4 679.4 L1984.7 679.5 L1986.1 678.5 L1987.5 679.4 L1988.8 678.9 L1989.8 678.1 L1990.7 678.0 L1991.7 676.9 L1992.6 676.4 L1993.6 675.7 L1994.5 674.3 L1995.9 674.0 L1997.3 674.0 L1998.6 673.3 L2000.0 675.0 L2001.4 674.3 L2002.5 673.9 L2003.7 672.6 L2004.8 672.8 L2005.9 672.7 L2007.1 672.1 L2008.2 670.9 L2009.4 672.3 L2010.5 671.9 L2011.6 672.5 L2012.8 672.7 L2013.9 673.6 L2015.1 674.4 L2016.2 675.5 L2017.0 674.6 L2017.7 672.8 L2018.5 672.9 L2019.2 671.6 L2020.0 670.8 L2020.8 669.1 L2021.5 668.4 L2022.3 667.8 L2023.0 666.3 L2024.3 665.6 L2025.6 665.5 L2026.9 665.6 L2028.2 665.7 L2029.6 665.7 L2030.9 665.4 L2032.2 666.3 L2033.4 666.5 L2034.7 667.6 L2035.9 668.1 L2037.2 669.0 L2038.5 669.8 L2039.4 670.7 L2040.3 671.9 L2041.2 672.7 L2042.2 674.2 L2043.1 675.1 L2044.0 675.5 L2045.1 676.8 L2046.2 677.0 L2047.2 677.4 L2048.3 678.4 L2049.3 679.2 L2050.4 680.0 L2051.7 679.9 L2053.0 680.5 L2054.3 679.9 L2055.6 680.2 L2056.9 678.5 L2058.2 679.3 L2059.5 678.9 L2060.8 678.7 L2062.2 678.4 L2063.5 678.6 L2064.8 679.6 L2066.1 680.0 L2067.3 680.1 L2068.5 680.9 L2069.7 681.0 L2070.8 681.5 L2072.0 682.5 L2073.2 683.4 L2074.3 683.1 L2075.5 682.1 L2076.6 681.8 L2077.8 681.5 L2078.9 680.2 L2080.0 679.7 L2081.2 678.9 L2082.3 678.8 L2083.5 679.5 L2084.6 680.7 L2085.7 681.2 L2086.9 681.2 L2088.0 680.0 L2089.2 679.5 L2090.3 679.4 L2091.4 678.8 L2092.6 678.5 L2093.7 677.7 L2095.0 678.8 L2096.4 678.2 L2097.7 678.4 L2099.0 678.9 L2100.3 680.0 L2101.5 680.2 L2102.7 680.7 L2103.9 680.8 L2105.1 682.4 L2106.3 682.3 L2107.1 681.1 L2108.0 680.0 L2108.8 679.0 L2109.7 678.8 L2110.5 677.5 L2111.4 676.7 L2112.2 674.8 L2113.1 674.3 L2113.8 674.9 L2114.6 676.2 L2115.3 677.2 L2116.0 677.8 L2116.7 678.8 L2117.5 679.7 L2118.2 681.2 L2119.4 681.0 L2120.7 681.7 L2121.9 682.5 L2123.2 683.1 L2124.4 684.2 L2125.6 684.6 L2126.7 684.5 L2127.7 683.1 L2128.8 682.1 L2129.9 681.2 L2130.9 679.9 L2132.0 679.9 L2133.0 678.9 L2134.0 678.1 L2135.1 677.7 L2136.1 676.7 L2137.1 675.7 L2138.2 675.5 L2139.3 676.0 L2140.5 676.5 L2141.6 677.4 L2142.8 679.2 L2143.9 678.8 L2145.0 680.0 L2145.9 679.2 L2146.9 678.8 L2147.8 677.2 L2148.7 676.1 L2149.6 675.5 L2150.6 675.8 L2151.7 676.8 L2152.7 678.8 L2153.7 679.1 L2154.8 680.0 L2156.0 680.4 L2157.3 680.7 L2158.5 682.4 L2159.8 682.2 L2161.0 683.4 L2161.9 682.6 L2162.8 682.1 L2163.7 681.3 L2164.6 680.5 L2165.5 678.8 L2166.4 677.8 L2167.3 676.9 L2168.2 676.6 L2169.5 676.1 L2170.8 676.0 L2172.0 675.5 L2173.3 675.2 L2174.6 675.6 L2175.9 675.5 L2177.1 675.5 L2178.2 674.3 L2179.3 674.8 L2180.4 673.1 L2181.5 673.0 L2182.6 672.4 L2183.7 672.0 L2183.9 670.7 L2184.1 669.6 L2184.3 668.3 L2184.5 667.1 L2184.8 665.9 L2185.0 664.4 L2185.2 663.6 L2185.4 662.1 L2185.6 661.0 L2185.8 659.4 L2186.0 658.4 L2186.8 657.2 L2187.6 656.4 L2188.4 654.9 L2188.8 655.9 L2189.3 657.3 L2189.7 658.7 L2190.2 659.5 L2190.7 660.6 L2190.9 661.9 L2191.1 663.3 L2191.4 664.6 L2191.6 665.5 L2191.8 667.2 L2192.0 668.3 L2192.3 669.4 L2192.5 670.5 L2192.7 671.8 L2193.0 673.2 L2194.2 673.8 L2195.4 675.0 L2196.6 675.5 L2197.2 676.5 L2197.8 677.3 L2198.4 678.5 L2199.0 680.5 L2199.5 680.7 L2200.1 682.3 L2201.2 683.5 L2202.3 684.1 L2203.4 684.2 L2204.4 684.8 L2205.5 685.7 L2206.6 685.7 L2207.8 685.7 L2208.9 684.9 L2210.1 684.4 L2211.3 684.1 L2212.5 682.5 L2213.7 682.3 L2215.0 681.9 L2216.3 682.3 L2217.7 682.0 L2219.0 681.2 L2220.3 681.2 L2221.7 681.9 L2223.0 679.9 L2224.3 680.0 L2225.7 679.7 L2227.0 679.9 L2228.3 680.0 L2229.6 680.6 L2230.9 680.5 L2232.1 679.8 L2233.4 679.0 L2234.7 678.9 L2235.3 678.2 L2235.8 676.4 L2236.4 675.5 L2237.0 674.5 L2237.6 673.0 L2238.2 672.2 L2238.8 671.3 L2239.3 669.8 L2240.6 668.8 L2241.8 668.7 L2243.1 667.5 L2244.2 667.4 L2245.4 669.3 L2246.5 669.1 L2247.6 669.8 L2248.3 668.5 L2249.0 668.0 L2249.7 665.9 L2250.3 665.2 L2251.0 664.6 L2251.7 662.8 L2252.4 661.5 L2253.0 660.6 L2254.3 659.8 L2255.6 659.4 L2256.9 658.4 L2258.4 657.8 L2259.9 658.9 L2261.3 657.9 L2262.1 659.7 L2262.9 660.8 L2263.7 661.8 L2264.1 663.1 L2264.5 664.3 L2264.9 665.4 L2265.3 666.7 L2265.7 668.1 L2266.1 669.2 L2266.5 670.7 L2266.9 671.5 L2267.2 673.2 L2268.5 674.2 L2269.8 674.5 L2271.0 675.0 L2272.3 674.3 L2273.5 675.5 L2274.7 675.7 L2275.8 676.2 L2276.9 677.3 L2278.0 678.5 L2279.2 678.1 L2280.3 678.9 L2281.5 680.1 L2282.7 679.5 L2284.0 681.2 L2285.2 681.4 L2286.4 682.3 L2287.6 681.7 L2288.8 681.8 L2290.0 681.8 L2291.3 681.5 L2292.5 680.2 L2293.7 680.0 L2294.5 679.1 L2295.3 678.1 L2296.1 676.7 L2297.0 676.4 L2297.8 675.5 L2298.9 676.3 L2300.1 676.9 L2301.2 676.1 L2302.4 677.1 L2303.5 677.9 L2304.6 677.7 L2306.0 677.0 L2307.4 676.9 L2308.7 676.9 L2310.1 677.2 L2311.5 676.6 L2312.8 677.3 L2314.2 676.2 L2315.6 676.8 L2316.9 677.5 L2318.3 676.6" fill="none" stroke="#1a6ddc" stroke-width="9.5" stroke-linejoin="round" stroke-linecap="round"/>
<path d="M217.1 1019.2 L218.3 1019.5 L219.4 1019.0 L220.6 1017.0 L221.8 1016.5 L222.9 1017.3 L224.1 1016.6 L225.2 1016.0 L226.4 1014.9 L227.6 1014.7 L228.8 1014.6 L230.1 1014.3 L231.3 1013.9 L232.5 1012.9 L233.8 1013.0 L235.0 1012.7 L236.3 1012.9 L237.5 1013.1 L238.8 1011.9 L240.0 1013.1 L241.3 1012.8 L242.6 1013.0 L243.9 1013.1 L245.2 1013.1 L246.5 1013.5 L247.8 1014.7 L249.1 1014.7 L250.3 1014.6 L251.6 1014.8 L252.9 1015.9 L254.2 1015.4 L255.4 1015.6 L256.7 1015.1 L258.0 1014.8 L259.3 1015.8 L260.5 1015.5 L261.7 1015.2 L263.0 1016.0 L264.2 1017.0 L265.5 1016.5 L266.7 1015.6 L268.0 1017.0 L269.2 1016.9 L270.5 1016.8 L271.7 1017.2 L272.9 1016.5 L274.2 1017.1 L275.4 1017.2 L276.7 1016.3 L277.9 1017.6 L279.2 1017.6 L280.4 1016.1 L281.7 1017.3 L282.9 1017.3 L284.2 1016.8 L285.4 1017.0 L286.6 1017.0 L287.9 1016.7 L289.2 1017.2 L290.5 1016.2 L291.7 1016.5 L293.0 1015.4 L294.3 1016.1 L295.6 1015.9 L296.8 1014.9 L298.1 1014.7 L299.4 1014.7 L300.6 1015.2 L301.9 1014.7 L303.1 1014.1 L304.4 1013.5 L305.7 1013.6 L306.9 1014.2 L308.2 1013.0 L309.4 1013.5 L310.7 1014.6 L311.9 1013.7 L313.2 1015.2 L314.4 1014.4 L315.7 1015.9 L316.9 1015.8 L318.1 1015.7 L319.4 1016.1 L320.6 1016.6 L321.9 1016.8 L323.1 1017.0 L324.4 1016.6 L325.7 1016.4 L326.9 1017.0 L328.2 1017.8 L329.5 1017.2 L330.7 1016.1 L332.0 1017.6 L333.3 1017.4 L334.5 1017.0 L335.7 1017.1 L336.8 1015.5 L337.9 1015.9 L339.1 1014.3 L340.2 1014.8 L341.4 1013.7 L342.5 1013.1 L343.6 1013.1 L344.9 1014.1 L346.2 1013.0 L347.4 1014.0 L348.7 1014.9 L349.9 1014.1 L351.2 1014.4 L352.4 1015.9 L353.7 1015.4 L354.9 1015.8 L356.2 1016.4 L357.5 1015.3 L358.8 1016.1 L360.1 1015.9 L361.3 1017.0 L362.6 1016.1 L363.9 1017.9 L365.2 1016.3 L366.4 1017.4 L367.7 1017.6 L368.9 1016.1 L370.2 1016.3 L371.4 1017.2 L372.7 1015.7 L373.9 1015.6 L375.2 1016.3 L376.4 1015.5 L377.7 1014.7 L378.9 1016.2 L380.2 1015.1 L381.4 1014.4 L382.6 1014.1 L383.9 1014.7 L385.1 1015.2 L386.4 1015.4 L387.6 1014.1 L388.8 1014.5 L390.1 1013.9 L391.3 1014.7 L392.6 1015.2 L393.8 1014.7 L395.0 1015.3 L396.3 1015.8 L397.5 1015.8 L398.8 1016.2 L400.0 1016.1 L401.3 1015.9 L402.5 1015.6 L403.7 1016.6 L405.0 1016.2 L406.2 1016.0 L407.5 1017.0 L408.6 1016.4 L409.8 1016.7 L410.9 1015.0 L412.0 1015.3 L413.2 1014.5 L414.3 1014.2 L415.5 1013.2 L416.6 1014.1 L417.7 1012.5 L418.9 1012.4 L420.1 1012.8 L421.4 1012.8 L422.7 1012.3 L423.9 1013.5 L425.2 1013.0 L426.4 1013.1 L427.7 1013.3 L429.0 1013.8 L430.2 1014.7 L431.5 1013.9 L432.8 1015.0 L434.0 1014.8 L435.3 1015.8 L436.6 1015.8 L437.8 1016.0 L439.1 1014.5 L440.4 1015.0 L441.6 1015.1 L442.9 1015.0 L444.1 1015.8 L445.4 1016.2 L446.6 1016.8 L447.9 1016.9 L449.1 1016.3 L450.4 1016.9 L451.6 1017.3 L452.9 1016.7 L454.1 1017.0 L455.4 1018.1 L456.6 1017.6 L457.9 1016.8 L459.1 1017.6 L460.4 1016.4 L461.6 1015.8 L462.9 1015.7 L464.1 1015.4 L465.4 1015.1 L466.6 1015.3 L467.9 1014.9 L469.1 1014.7 L470.4 1014.1 L471.6 1014.5 L472.8 1013.5 L474.1 1014.6 L475.3 1014.5 L476.5 1013.9 L477.8 1013.1 L479.0 1013.0 L480.3 1013.0 L481.5 1011.8 L482.7 1012.4 L484.0 1012.6 L485.2 1013.1 L486.5 1012.7 L487.8 1012.9 L489.0 1014.5 L490.3 1014.0 L491.5 1014.6 L492.8 1015.6 L494.0 1015.1 L495.3 1015.4 L496.6 1014.9 L497.9 1016.3 L499.1 1015.2 L500.4 1014.6 L501.7 1016.0 L503.0 1014.9 L504.2 1015.4 L505.5 1015.8 L506.8 1016.2 L508.2 1015.7 L509.5 1014.2 L510.8 1014.8 L512.1 1014.5 L513.4 1014.4 L514.7 1014.2 L516.1 1013.4 L517.4 1013.9 L518.7 1012.7 L520.0 1012.8 L521.3 1012.7 L522.7 1013.5 L524.0 1012.4 L525.1 1011.1 L526.2 1011.4 L527.3 1009.9 L528.4 1009.8 L529.5 1009.0 L530.3 1009.8 L531.2 1010.8 L532.0 1012.2 L532.9 1012.6 L533.7 1013.2 L534.6 1014.7 L535.6 1014.7 L536.7 1015.2 L537.8 1017.0 L538.8 1017.2 L539.9 1018.3 L540.9 1018.5 L542.0 1018.8 L543.3 1017.7 L544.5 1018.6 L545.8 1018.5 L547.1 1018.2 L548.4 1017.5 L549.6 1017.0 L550.9 1016.9 L552.2 1017.3 L553.5 1016.5 L554.7 1016.0 L556.0 1016.4 L557.2 1016.2 L558.5 1017.1 L559.8 1016.7 L561.0 1016.9 L562.3 1016.6 L563.5 1015.5 L564.8 1015.8 L566.1 1015.3 L567.4 1015.8 L568.7 1015.3 L570.0 1015.7 L571.3 1016.2 L572.6 1016.7 L573.9 1015.8 L574.8 1015.1 L575.8 1014.5 L576.7 1012.7 L577.6 1012.2 L578.6 1012.2 L579.5 1010.2 L580.4 1009.7 L581.4 1009.0 L582.6 1007.6 L583.8 1007.0 L585.1 1007.5 L586.3 1007.0 L587.5 1005.6 L587.7 1004.4 L587.9 1002.9 L588.1 1001.8 L588.3 1000.6 L588.6 999.6 L588.8 998.4 L589.0 997.0 L589.2 995.8 L589.4 994.4 L589.6 993.4 L589.8 992.4 L590.0 991.1 L590.2 989.5 L590.4 988.5 L590.6 987.3 L590.8 986.2 L591.1 984.6 L591.3 983.7 L591.6 982.2 L591.8 981.1 L592.1 979.7 L592.3 978.7 L592.6 977.3 L592.8 975.9 L594.0 974.1 L594.2 975.4 L594.4 976.3 L594.7 977.7 L594.9 978.7 L595.1 980.2 L595.3 981.6 L595.6 982.4 L595.8 983.8 L596.0 985.0 L596.3 986.2 L596.6 987.4 L596.8 988.8 L597.1 990.2 L597.4 991.2 L597.7 992.3 L597.9 993.8 L598.2 994.7 L598.5 996.1 L598.8 997.3 L599.0 998.6 L599.3 999.8 L599.6 1000.7 L599.9 1002.1 L600.1 1003.3 L600.6 1002.0 L601.1 1001.2 L601.6 1000.3 L602.1 998.8 L602.6 997.1 L603.1 996.4 L603.6 995.5 L604.1 994.2 L604.7 993.4 L605.3 992.0 L605.8 990.7 L606.3 992.2 L606.8 992.6 L607.2 994.6 L607.7 995.5 L608.1 996.4 L608.4 997.7 L608.7 999.2 L609.0 1000.4 L609.2 1001.2 L609.5 1002.8 L609.8 1004.1 L610.1 1005.0 L610.3 1006.5 L610.6 1007.7 L610.9 1008.7 L611.2 1010.1 L612.1 1011.5 L613.0 1011.5 L613.9 1013.1 L614.9 1013.8 L615.8 1014.5 L616.7 1015.8 L618.0 1016.3 L619.2 1016.5 L620.4 1016.4 L621.6 1018.1 L622.9 1017.0 L624.1 1018.1 L625.3 1016.7 L626.5 1016.9 L627.7 1016.9 L628.9 1016.1 L630.1 1015.7 L631.4 1014.7 L632.4 1013.8 L633.4 1013.2 L634.4 1011.9 L635.5 1011.3 L636.3 1011.8 L637.2 1013.0 L638.0 1013.2 L638.9 1014.7 L639.7 1013.2 L640.4 1013.0 L641.2 1011.2 L641.9 1010.9 L642.7 1010.0 L643.4 1008.5 L644.2 1007.8 L644.9 1006.9 L645.7 1005.6 L646.0 1004.6 L646.2 1002.9 L646.5 1001.7 L646.8 1000.6 L647.0 999.4 L647.3 998.1 L647.6 996.7 L647.8 995.8 L648.1 994.8 L648.4 993.2 L648.6 992.1 L648.9 990.8 L649.2 989.6 L649.4 988.3 L649.7 987.4 L650.0 985.8 L650.2 984.8 L650.5 983.5 L650.7 982.3 L651.0 981.3 L651.3 979.5 L651.5 978.7 L651.8 977.2 L652.0 976.2 L652.3 975.0 L652.6 973.6 L653.0 972.6 L653.5 971.3 L653.9 970.5 L654.4 968.7 L654.9 967.9 L655.3 969.4 L655.7 970.5 L656.1 972.0 L656.6 973.5 L657.0 974.8 L657.4 975.9 L658.8 976.7 L660.1 976.7 L661.5 977.2 L662.8 978.2 L664.4 977.7 L665.9 977.0 L667.4 977.1 L668.8 976.6 L670.2 978.0 L671.7 976.3 L673.1 977.1 L673.3 978.5 L673.5 979.5 L673.8 980.7 L674.0 982.0 L674.2 983.1 L674.4 984.6 L674.7 985.7 L674.9 987.1 L675.1 988.2 L675.3 989.6 L675.5 991.0 L675.7 992.2 L675.8 993.2 L676.0 994.5 L676.1 995.9 L676.3 996.8 L676.4 997.9 L676.6 999.2 L676.7 1000.4 L676.9 1001.8 L677.0 1002.9 L677.2 1004.1 L677.4 1005.5 L677.5 1006.5 L677.7 1007.8 L678.5 1009.2 L679.3 1010.0 L680.1 1010.6 L680.9 1012.2 L681.7 1012.5 L682.5 1014.2 L683.4 1014.7 L684.7 1015.2 L686.1 1014.2 L687.5 1014.3 L688.8 1014.6 L690.2 1013.5 L691.3 1014.5 L692.5 1015.1 L693.6 1015.8 L694.8 1015.8 L695.0 1014.9 L695.3 1013.6 L695.6 1012.5 L695.9 1010.8 L696.2 1009.8 L696.5 1008.7 L696.8 1007.3 L697.1 1006.1 L697.4 1004.7 L697.7 1004.0 L697.9 1002.4 L698.2 1001.3 L698.5 1000.3 L698.8 998.7 L699.1 997.9 L699.4 996.4 L699.8 994.9 L700.1 993.6 L700.5 992.5 L700.9 991.3 L701.2 990.4 L701.6 989.1 L702.0 987.8 L702.3 986.3 L702.7 985.0 L703.9 983.9 L704.2 985.2 L704.5 986.3 L704.8 988.0 L705.1 989.0 L705.4 990.2 L705.6 991.7 L705.9 992.7 L706.2 994.2 L706.5 995.3 L706.8 996.9 L707.0 997.6 L707.3 998.9 L707.6 1000.1 L707.8 1001.4 L708.1 1002.7 L708.4 1003.8 L708.7 1005.1 L708.9 1006.3 L709.2 1007.5 L709.5 1009.0 L709.7 1010.1 L710.9 1010.6 L712.0 1011.4 L713.1 1012.8 L714.2 1012.5 L715.4 1013.4 L716.5 1014.7 L717.8 1015.4 L719.2 1014.5 L720.6 1015.2 L722.0 1013.9 L723.3 1014.7 L724.5 1014.3 L725.6 1014.3 L726.7 1013.0 L727.9 1013.3 L729.0 1012.4 L730.1 1013.5 L731.2 1014.1 L732.3 1015.8 L733.4 1015.9 L734.5 1017.0 L735.8 1017.1 L737.1 1017.5 L738.5 1017.1 L739.8 1018.2 L741.2 1018.0 L742.5 1018.1 L743.8 1018.1 L745.3 1018.0 L746.7 1018.8 L748.1 1018.6 L749.5 1018.2 L750.9 1017.4 L752.1 1016.6 L753.2 1015.7 L754.4 1015.1 L755.5 1013.6 L756.7 1013.5 L757.9 1012.5 L759.2 1013.8 L760.5 1011.9 L761.7 1013.0 L763.0 1012.2 L764.2 1012.3 L765.5 1011.3 L766.8 1011.1 L768.2 1012.1 L769.5 1013.5 L770.8 1013.5 L771.8 1013.4 L772.9 1014.2 L773.9 1015.3 L774.9 1015.6 L776.0 1016.3 L777.0 1017.7 L778.0 1018.1 L779.3 1016.9 L780.6 1018.0 L781.9 1017.0 L783.2 1015.5 L784.5 1015.8 L785.2 1015.1 L785.9 1013.3 L786.6 1012.4 L787.3 1011.3 L788.0 1009.7 L788.8 1009.0 L789.5 1007.8 L789.5 1006.5 L789.6 1005.4 L789.7 1004.3 L789.8 1003.1 L789.8 1001.8 L789.9 1000.6 L790.0 999.5 L790.0 998.1 L790.1 997.0 L790.2 995.7 L790.2 994.5 L790.3 993.3 L790.4 992.1 L790.4 990.8 L790.5 989.7 L790.6 988.5 L790.6 987.3 L790.7 986.2 L790.8 985.0 L790.8 983.7 L790.9 982.5 L791.0 981.4 L791.0 980.0 L791.1 978.8 L791.2 977.7 L791.2 976.5 L791.3 975.2 L791.4 974.0 L791.4 972.8 L791.5 971.6 L791.6 970.4 L791.6 969.2 L791.7 968.1 L791.8 966.8 L791.8 965.6 L791.8 964.4 L791.8 963.2 L791.9 962.0 L791.9 960.8 L791.9 959.6 L791.9 958.4 L791.9 957.2 L792.0 956.0 L792.0 954.8 L792.0 953.6 L792.0 952.4 L792.0 951.2 L792.1 950.0 L792.1 948.8 L792.1 947.6 L792.1 946.4 L792.1 945.2 L792.2 944.0 L792.2 942.8 L792.2 941.6 L792.2 940.4 L792.2 939.2 L792.3 938.0 L792.3 936.8 L792.3 935.6 L792.3 934.4 L792.3 933.2 L792.4 932.0 L792.4 930.8 L792.4 929.6 L792.4 928.4 L792.4 927.2 L792.5 926.0 L792.5 924.8 L792.5 923.6 L792.5 922.4 L792.5 921.2 L792.6 920.0 L792.6 918.8 L792.6 917.6 L792.6 916.4 L792.6 915.2 L792.7 914.0 L792.7 912.8 L792.7 911.6 L792.7 910.4 L792.7 909.2 L792.8 908.0 L792.8 906.8 L792.8 905.6 L792.8 904.4 L792.8 903.2 L792.9 902.0 L792.9 900.8 L792.9 899.6 L792.9 898.4 L792.9 897.2 L793.0 896.0 L793.0 894.8 L793.0 893.6 L793.1 892.4 L793.1 891.2 L793.1 890.0 L793.1 888.8 L793.2 887.6 L793.2 886.4 L793.2 885.2 L793.3 884.0 L793.3 882.8 L793.3 881.6 L793.3 880.4 L793.4 879.2 L793.4 878.0 L793.4 876.8 L793.5 875.6 L793.5 874.4 L793.5 873.2 L793.5 872.0 L793.6 870.8 L793.6 869.6 L793.6 868.4 L793.6 867.2 L793.7 866.0 L793.7 864.8 L793.7 863.6 L793.8 862.4 L793.8 861.2 L793.8 860.0 L793.8 858.8 L793.9 857.6 L793.9 856.4 L793.9 855.2 L794.0 854.0 L794.0 852.8 L794.0 851.6 L794.0 850.4 L794.1 849.2 L794.1 848.0 L794.1 846.8 L794.2 845.6 L794.2 844.4 L794.2 843.2 L794.2 842.0 L794.3 840.8 L794.3 839.6 L794.3 838.4 L794.3 837.2 L794.4 836.0 L794.4 834.8 L794.4 833.6 L794.5 832.4 L794.5 831.2 L794.5 830.0 L794.5 828.8 L794.5 827.6 L794.5 826.4 L794.5 825.2 L794.5 824.0 L794.5 822.8 L794.5 821.6 L794.5 820.4 L794.5 819.2 L794.5 818.0 L794.6 816.8 L794.6 815.6 L794.6 814.4 L794.6 813.2 L794.6 812.0 L794.6 810.8 L794.6 809.6 L794.6 808.4 L794.6 807.2 L794.6 806.0 L794.6 804.8 L794.6 803.6 L794.6 802.4 L794.6 801.2 L794.6 800.0 L794.6 798.8 L794.7 797.5 L794.7 796.4 L794.8 795.2 L794.8 794.0 L794.9 792.7 L794.9 791.6 L795.0 790.4 L795.0 789.2 L795.1 788.0 L795.1 786.8 L795.2 785.6 L795.2 784.4 L795.3 783.1 L795.3 782.0 L795.4 780.7 L795.4 779.5 L795.5 778.4 L795.5 777.2 L795.6 776.0 L795.6 774.8 L795.7 773.7 L795.7 772.3 L795.8 771.2 L795.8 770.0 L795.8 768.7 L795.9 767.6 L795.9 766.4 L796.0 765.1 L796.0 763.9 L796.0 762.8 L796.1 761.5 L796.1 760.4 L796.2 759.1 L796.2 757.9 L796.3 756.8 L796.3 755.5 L796.3 754.2 L796.4 753.1 L796.4 751.9 L796.5 750.7 L796.5 749.5 L796.5 748.3 L796.6 747.1 L796.6 745.8 L796.7 744.7 L796.7 743.4 L796.8 742.2 L796.8 741.0 L796.8 742.3 L796.9 743.3 L796.9 744.6 L797.0 745.9 L797.0 747.1 L797.1 748.3 L797.1 749.4 L797.2 750.7 L797.2 751.9 L797.3 753.1 L797.3 754.3 L797.3 755.5 L797.4 756.7 L797.4 757.9 L797.5 759.1 L797.5 760.4 L797.6 761.6 L797.6 762.8 L797.7 763.9 L797.7 765.2 L797.8 766.3 L797.8 767.5 L797.9 768.8 L797.9 770.0 L798.0 771.3 L798.0 772.4 L798.1 773.7 L798.1 774.7 L798.2 776.0 L798.2 777.1 L798.3 778.4 L798.3 779.6 L798.4 780.7 L798.4 782.0 L798.5 783.2 L798.5 784.4 L798.6 785.6 L798.6 786.7 L798.7 788.0 L798.7 789.2 L798.8 790.4 L798.8 791.7 L798.9 792.7 L798.9 794.0 L799.0 795.2 L799.0 796.4 L799.1 797.7 L799.1 798.8 L799.2 800.0 L799.2 801.2 L799.2 802.4 L799.2 803.6 L799.2 804.8 L799.2 806.0 L799.2 807.2 L799.2 808.4 L799.2 809.6 L799.2 810.8 L799.2 812.0 L799.2 813.2 L799.2 814.4 L799.2 815.6 L799.2 816.8 L799.2 818.0 L799.2 819.2 L799.2 820.4 L799.2 821.6 L799.2 822.8 L799.2 824.0 L799.2 825.2 L799.2 826.4 L799.2 827.6 L799.2 828.8 L799.2 830.0 L799.3 831.2 L799.3 832.4 L799.3 833.6 L799.3 834.8 L799.3 836.0 L799.3 837.2 L799.4 838.4 L799.4 839.6 L799.4 840.8 L799.4 842.0 L799.4 843.2 L799.4 844.4 L799.4 845.6 L799.5 846.8 L799.5 848.0 L799.5 849.2 L799.5 850.4 L799.5 851.6 L799.5 852.8 L799.5 854.0 L799.6 855.2 L799.6 856.4 L799.6 857.6 L799.6 858.8 L799.6 860.0 L799.6 861.2 L799.7 862.4 L799.7 863.6 L799.7 864.8 L799.7 866.0 L799.7 867.2 L799.7 868.4 L799.7 869.6 L799.8 870.8 L799.8 872.0 L799.8 873.2 L799.8 874.4 L799.8 875.6 L799.8 876.8 L799.8 878.0 L799.9 879.2 L799.9 880.4 L799.9 881.6 L799.9 882.8 L799.9 884.0 L799.9 885.2 L799.9 886.4 L800.0 887.6 L800.0 888.8 L800.0 890.0 L800.0 891.2 L800.0 892.4 L800.0 893.6 L800.1 894.8 L800.1 896.0 L800.1 897.2 L800.1 898.4 L800.1 899.6 L800.1 900.8 L800.2 902.0 L800.2 903.2 L800.2 904.4 L800.2 905.6 L800.2 906.8 L800.3 908.0 L800.3 909.2 L800.3 910.4 L800.3 911.6 L800.3 912.8 L800.4 914.0 L800.4 915.2 L800.4 916.4 L800.4 917.6 L800.4 918.8 L800.5 920.0 L800.5 921.2 L800.5 922.4 L800.5 923.6 L800.5 924.8 L800.6 926.0 L800.6 927.2 L800.6 928.4 L800.6 929.6 L800.6 930.8 L800.7 932.0 L800.7 933.2 L800.7 934.4 L800.7 935.6 L800.7 936.8 L800.8 938.0 L800.8 939.2 L800.8 940.4 L800.8 941.6 L800.8 942.8 L800.9 944.0 L800.9 945.2 L800.9 946.4 L800.9 947.6 L800.9 948.8 L801.0 950.0 L801.0 951.2 L801.0 952.4 L801.0 953.6 L801.0 954.8 L801.1 956.0 L801.1 957.2 L801.1 958.4 L801.1 959.6 L801.1 960.8 L801.2 962.0 L801.2 963.2 L801.2 964.4 L801.2 965.6 L801.2 966.8 L801.3 968.0 L801.3 969.2 L801.4 970.5 L801.4 971.7 L801.5 972.8 L801.5 974.1 L801.6 975.2 L801.6 976.4 L801.7 977.7 L801.7 978.8 L801.8 980.0 L801.8 981.3 L801.9 982.4 L801.9 983.6 L802.0 984.8 L802.1 986.1 L802.1 987.2 L802.2 988.5 L802.2 989.6 L802.3 990.9 L802.3 992.1 L802.4 993.2 L802.4 994.5 L802.5 995.6 L802.5 996.9 L802.6 998.1 L802.6 999.3 L802.7 1000.6 L802.7 1001.6 L802.8 1002.8 L802.8 1004.1 L802.9 1005.2 L802.9 1006.6 L803.0 1007.7 L803.0 1009.0 L803.1 1010.1 L804.2 1010.7 L805.4 1011.1 L806.5 1013.3 L807.7 1013.5 L808.3 1012.1 L809.0 1011.2 L809.6 1009.7 L810.3 1009.1 L810.9 1007.8 L811.6 1006.4 L812.2 1005.6 L812.5 1004.0 L812.8 1003.0 L813.1 1002.0 L813.3 1000.4 L813.6 999.2 L813.9 998.2 L814.2 997.0 L814.5 995.9 L814.8 994.5 L815.0 993.4 L815.3 991.8 L815.6 990.7 L816.8 990.2 L817.9 988.5 L818.3 989.4 L818.7 990.8 L819.1 992.2 L819.5 994.0 L819.9 995.1 L820.2 996.4 L820.6 998.0 L820.9 999.2 L821.2 1000.5 L821.5 1001.5 L821.8 1002.6 L822.1 1004.2 L822.4 1005.3 L822.8 1006.2 L823.1 1007.7 L823.4 1008.6 L823.7 1010.1 L824.8 1010.3 L826.0 1012.0 L827.1 1013.0 L828.2 1013.5 L828.8 1012.8 L829.4 1011.5 L830.0 1009.7 L830.6 1009.2 L831.2 1008.3 L831.9 1006.9 L832.5 1005.6 L833.6 1005.0 L834.7 1004.1 L835.8 1003.2 L837.0 1003.3 L837.6 1002.3 L838.3 1001.5 L838.9 999.4 L839.6 999.1 L840.2 998.0 L840.9 996.3 L841.5 995.3 L842.8 995.3 L844.2 994.2 L844.4 995.2 L844.7 996.6 L845.0 998.0 L845.2 999.5 L845.5 1000.5 L845.8 1001.5 L846.0 1003.3 L846.3 1004.3 L846.6 1005.6 L847.5 1006.9 L848.4 1007.2 L849.2 1008.3 L850.1 1008.9 L851.0 1010.0 L851.9 1011.3 L852.8 1012.4 L854.0 1012.5 L855.2 1013.2 L856.4 1013.8 L857.6 1013.2 L858.7 1014.6 L859.9 1014.4 L861.1 1014.1 L862.3 1014.7 L863.6 1014.4 L864.8 1016.0 L866.1 1015.7 L867.4 1014.9 L868.7 1016.3 L870.0 1016.0 L871.2 1016.3 L872.5 1017.2 L873.8 1017.0 L875.1 1016.3 L876.4 1016.3 L877.6 1016.7 L878.9 1017.2 L880.2 1015.5 L881.5 1016.8 L882.7 1016.5 L884.0 1015.3 L885.3 1015.8 L886.6 1015.7 L887.8 1015.3 L889.1 1015.0 L890.4 1014.4 L891.6 1013.6 L892.9 1013.5 L893.3 1012.4 L893.8 1011.0 L894.2 1010.1 L894.7 1008.9 L895.1 1007.5 L895.5 1006.5 L896.0 1005.4 L896.4 1004.3 L896.9 1003.3 L897.3 1002.4 L897.8 1001.0 L897.9 999.7 L898.1 998.5 L898.2 997.2 L898.4 995.9 L898.5 994.6 L898.7 993.7 L898.9 992.5 L899.0 991.2 L899.2 989.7 L899.3 988.4 L899.5 987.2 L899.6 986.0 L899.8 984.8 L899.9 983.4 L900.1 982.3 L900.2 981.2 L900.4 980.0 L900.6 978.5 L900.7 977.2 L900.9 976.2 L901.0 974.8 L901.2 973.6 L901.6 972.3 L902.1 971.1 L902.5 970.0 L903.0 968.9 L903.4 967.9 L905.0 967.5 L906.5 967.4 L908.0 967.9 L909.1 968.5 L910.3 969.1 L910.5 970.4 L910.7 971.4 L910.9 972.7 L911.1 973.9 L911.3 975.3 L911.5 976.5 L911.7 977.8 L911.9 978.6 L912.1 980.1 L912.3 981.0 L912.5 982.4 L912.7 983.6 L912.9 984.8 L913.1 985.9 L913.3 987.0 L913.5 988.1 L913.7 989.6 L913.9 991.1 L914.2 992.3 L914.5 993.3 L914.7 994.3 L915.0 995.9 L915.3 997.0 L915.5 998.2 L915.8 999.5 L916.1 1000.4 L916.3 1001.7 L916.6 1003.3 L916.9 1004.5 L917.1 1005.6 L918.2 1005.3 L919.2 1003.6 L920.3 1003.5 L921.3 1002.5 L922.4 1001.0 L923.2 1000.1 L924.1 999.6 L924.9 997.7 L925.7 996.7 L926.5 996.6 L927.4 995.3 L928.3 995.5 L929.3 996.8 L930.2 997.9 L931.2 998.6 L932.1 998.7 L933.1 999.9 L934.4 1000.1 L935.8 998.5 L937.2 999.1 L938.5 998.7 L939.0 997.9 L939.4 996.5 L939.9 995.1 L940.4 994.6 L940.9 993.2 L941.3 992.1 L941.8 991.1 L942.3 990.0 L942.7 988.5 L943.2 987.3 L944.0 986.6 L944.8 985.0 L945.6 983.6 L946.5 982.5 L947.3 981.6 L948.6 980.8 L950.0 979.9 L951.4 980.5 L952.7 979.6 L954.1 979.3 L955.0 979.1 L955.8 977.1 L956.7 977.3 L957.6 975.7 L958.5 975.0 L959.4 974.2 L960.3 973.6 L960.7 972.7 L961.1 971.2 L961.5 969.8 L961.9 968.3 L962.3 967.0 L962.7 965.9 L963.1 965.1 L963.5 963.5 L963.9 962.2 L964.0 961.1 L964.0 959.9 L964.1 958.5 L964.2 957.4 L964.2 956.2 L964.3 954.9 L964.4 953.8 L964.4 952.6 L964.5 951.3 L964.6 950.2 L964.6 948.9 L964.7 947.8 L964.8 946.5 L964.8 945.4 L964.9 944.1 L965.0 943.0 L965.1 941.8 L965.1 940.5 L965.2 939.2 L965.3 938.1 L965.3 937.0 L965.4 935.7 L965.5 934.5 L965.5 933.3 L965.6 932.2 L965.7 930.9 L965.7 929.7 L965.8 928.5 L965.9 927.2 L965.9 925.9 L966.0 924.8 L966.1 923.7 L966.1 922.5 L966.2 921.2 L966.3 920.0 L966.3 918.8 L966.4 917.4 L966.5 916.2 L966.5 915.0 L966.6 913.8 L966.6 912.7 L966.7 911.5 L966.8 910.3 L966.8 908.9 L966.9 907.8 L967.0 906.6 L967.0 905.4 L967.1 904.1 L967.2 902.8 L967.2 901.7 L967.3 900.5 L967.4 899.3 L967.4 898.0 L967.5 896.7 L967.6 895.5 L967.6 894.3 L967.7 893.1 L967.8 891.8 L967.8 890.7 L967.9 889.5 L967.9 888.2 L968.0 887.0 L968.2 886.0 L968.4 884.3 L968.6 883.6 L968.7 882.2 L968.9 881.0 L969.1 879.7 L969.2 880.9 L969.3 882.3 L969.4 883.5 L969.5 884.6 L969.6 885.8 L969.7 887.3 L969.8 888.4 L969.9 889.6 L970.0 890.9 L970.1 892.1 L970.2 893.3 L970.3 894.6 L970.4 895.8 L970.5 897.2 L970.6 898.4 L970.7 899.6 L970.8 900.8 L970.8 902.0 L970.9 903.2 L970.9 904.5 L971.0 905.7 L971.1 906.7 L971.1 908.0 L971.2 909.1 L971.2 910.4 L971.3 911.6 L971.4 912.8 L971.4 914.0 L971.5 915.3 L971.5 916.4 L971.6 917.7 L971.7 918.8 L971.7 920.0 L971.8 921.1 L971.8 922.4 L971.9 923.6 L972.0 924.8 L972.0 926.0 L972.1 927.1 L972.1 928.4 L972.2 929.6 L972.3 930.8 L972.3 931.9 L972.4 933.1 L972.4 934.4 L972.5 935.6 L972.6 936.8 L972.6 937.9 L972.7 939.2 L972.7 940.4 L972.8 941.5 L972.9 942.8 L972.9 944.0 L973.0 945.2 L973.0 946.4 L973.1 947.5 L973.2 948.9 L973.2 949.9 L973.3 951.1 L973.3 952.4 L973.4 953.7 L973.5 954.9 L973.5 956.0 L973.6 957.1 L973.6 958.5 L973.7 959.5 L973.8 960.7 L973.8 961.9 L973.9 963.2 L973.9 964.4 L974.0 965.6 L974.1 966.9 L974.1 968.0 L974.2 969.2 L974.2 970.3 L974.3 971.7 L974.4 972.9 L974.4 974.1 L974.5 975.1 L974.5 976.4 L974.6 977.6 L974.7 978.8 L974.7 980.0 L974.8 981.2 L974.8 982.5 L974.9 983.6 L975.0 984.8 L975.0 986.0 L975.1 987.1 L975.1 988.4 L975.2 989.6 L975.4 990.6 L975.5 991.8 L975.7 993.1 L975.9 994.6 L976.1 995.9 L976.2 996.9 L976.4 998.2 L976.6 999.4 L976.7 1000.7 L976.9 1002.0 L977.1 1003.2 L977.2 1004.2 L977.4 1005.3 L977.6 1006.7 L978.9 1007.7 L980.2 1006.9 L981.5 1008.0 L982.8 1007.8 L983.9 1009.3 L985.0 1009.2 L986.1 1010.1 L987.3 1011.4 L988.4 1012.4 L989.4 1013.6 L990.4 1014.3 L991.4 1015.2 L992.5 1014.8 L993.5 1015.8 L994.6 1015.1 L995.8 1014.7 L996.9 1013.1 L998.1 1012.4 L999.4 1013.1 L1000.7 1013.1 L1002.1 1014.7 L1003.4 1014.7 L1004.6 1015.3 L1005.8 1016.0 L1007.0 1017.0 L1008.2 1017.1 L1009.5 1018.1 L1010.7 1018.3 L1011.8 1017.3 L1013.0 1016.8 L1014.2 1017.0 L1015.4 1016.5 L1016.6 1015.8 L1017.7 1015.6 L1018.7 1015.3 L1019.8 1014.6 L1020.9 1013.4 L1021.9 1013.2 L1023.0 1012.4 L1023.3 1011.4 L1023.6 1009.6 L1024.0 1008.8 L1024.3 1007.4 L1024.6 1006.1 L1024.9 1004.7 L1025.3 1003.5 L1025.6 1002.6 L1025.9 1001.5 L1026.2 1000.3 L1026.6 998.7 L1026.8 997.6 L1027.1 996.5 L1027.3 995.2 L1027.5 993.6 L1027.8 992.7 L1028.0 991.6 L1028.3 990.3 L1028.5 988.8 L1028.7 987.8 L1029.0 986.4 L1029.2 985.2 L1029.5 984.2 L1029.7 982.9 L1029.9 981.6 L1030.7 980.1 L1031.5 979.5 L1032.3 978.2 L1032.6 979.0 L1033.0 980.2 L1033.4 981.9 L1033.8 983.1 L1034.2 983.7 L1034.6 985.0 L1034.9 986.5 L1035.2 987.3 L1035.5 988.8 L1035.8 989.9 L1036.1 991.0 L1036.4 992.5 L1036.7 993.8 L1037.0 995.2 L1037.3 996.0 L1037.7 997.3 L1038.0 998.7 L1038.4 999.6 L1038.8 1001.0 L1039.2 1002.3 L1039.6 1004.0 L1040.0 1005.4 L1040.4 1006.1 L1040.8 1007.6 L1041.2 1008.9 L1041.6 1010.1 L1042.8 1010.7 L1044.1 1012.0 L1045.4 1012.6 L1046.7 1012.4 L1047.9 1012.2 L1049.0 1013.4 L1050.2 1014.2 L1051.3 1014.9 L1052.5 1015.3 L1053.6 1015.8 L1054.8 1016.8 L1056.0 1016.0 L1057.2 1017.0 L1058.3 1018.1 L1059.5 1017.4 L1060.7 1017.8 L1061.9 1019.0 L1063.0 1019.2 L1064.4 1018.4 L1065.7 1019.0 L1067.1 1018.0 L1068.4 1018.0 L1069.8 1018.1 L1071.1 1018.8 L1072.5 1018.1 L1073.5 1017.4 L1074.5 1016.6 L1075.5 1015.8 L1076.5 1014.7 L1077.5 1014.7 L1078.5 1013.3 L1079.6 1012.4 L1080.7 1011.8 L1081.8 1010.2 L1082.9 1009.7 L1084.1 1009.5 L1085.2 1009.3 L1086.3 1007.8 L1087.4 1007.4 L1088.6 1005.7 L1089.7 1006.0 L1090.8 1004.4 L1091.9 1004.2 L1093.0 1003.3 L1094.4 1002.4 L1095.7 1001.9 L1097.1 1002.9 L1098.5 1002.1 L1099.9 1001.8 L1101.3 1001.8 L1102.7 1001.7 L1104.1 1001.0 L1105.2 1001.7 L1106.4 1002.0 L1107.5 1002.4 L1108.6 1003.3 L1109.0 1002.2 L1109.5 1000.8 L1109.9 999.7 L1110.3 999.0 L1110.7 997.4 L1111.1 996.6 L1111.5 995.4 L1111.9 994.1 L1112.3 993.3 L1112.7 991.7 L1113.1 990.7 L1114.3 989.1 L1114.7 990.0 L1115.1 991.8 L1115.5 993.0 L1115.9 994.2 L1116.3 995.6 L1116.7 996.4 L1117.1 997.5 L1117.4 998.7 L1117.8 999.9 L1118.2 1001.3 L1118.6 1002.0 L1119.0 1003.5 L1119.4 1004.8 L1119.7 1005.4 L1120.1 1006.3 L1120.5 1007.6 L1120.9 1009.1 L1121.3 1010.1 L1122.1 1010.8 L1123.0 1012.7 L1123.8 1012.6 L1124.7 1014.6 L1125.5 1014.9 L1126.3 1016.6 L1127.2 1016.9 L1128.0 1018.1 L1129.3 1017.0 L1130.5 1017.6 L1131.8 1016.6 L1133.1 1017.3 L1134.3 1016.8 L1135.6 1015.8 L1136.1 1014.4 L1136.7 1013.5 L1137.2 1012.4 L1137.7 1011.5 L1138.3 1009.9 L1138.8 1009.0 L1139.4 1007.8 L1139.8 1006.6 L1140.2 1005.3 L1140.6 1004.0 L1141.0 1002.7 L1141.4 1001.3 L1141.8 1000.1 L1142.3 999.2 L1142.7 997.6 L1143.9 996.8 L1145.1 996.0 L1145.4 996.9 L1145.7 998.3 L1146.0 999.7 L1146.3 1000.9 L1146.6 1001.7 L1146.9 1003.1 L1147.2 1004.3 L1147.4 1005.6 L1147.9 1007.0 L1148.4 1007.6 L1148.8 1009.4 L1149.3 1010.4 L1149.8 1010.8 L1150.2 1012.4 L1150.7 1013.6 L1151.1 1014.7 L1152.4 1015.5 L1153.7 1016.5 L1155.0 1015.9 L1156.2 1017.5 L1157.5 1016.7 L1158.8 1018.1 L1160.0 1018.3 L1161.2 1016.9 L1162.4 1016.1 L1163.5 1017.1 L1164.7 1017.0 L1165.9 1015.8 L1167.1 1015.5 L1168.2 1015.1 L1169.4 1013.9 L1170.5 1013.1 L1171.6 1013.2 L1172.8 1012.4 L1174.1 1012.3 L1175.5 1010.9 L1176.8 1010.5 L1178.2 1010.1 L1179.2 1010.6 L1180.1 1011.4 L1181.1 1013.1 L1182.1 1012.7 L1183.1 1013.5 L1184.1 1014.6 L1185.1 1015.8 L1186.6 1015.9 L1188.1 1015.2 L1189.6 1014.7 L1190.6 1015.8 L1191.5 1016.5 L1192.5 1017.5 L1193.4 1017.8 L1194.4 1017.8 L1195.3 1019.2 L1196.3 1017.7 L1197.2 1017.2 L1198.2 1015.8 L1199.1 1015.1 L1200.1 1014.1 L1201.0 1014.0 L1201.9 1012.4 L1202.6 1011.7 L1203.2 1010.3 L1203.8 1008.9 L1204.5 1007.7 L1205.1 1006.2 L1205.7 1005.5 L1206.4 1004.4 L1207.7 1003.3 L1209.0 1003.3 L1209.4 1004.4 L1209.8 1005.8 L1210.2 1006.6 L1210.7 1008.0 L1211.1 1009.2 L1211.5 1010.1 L1212.3 1011.6 L1213.1 1012.0 L1213.8 1012.7 L1214.6 1014.5 L1215.4 1015.0 L1216.2 1015.7 L1217.0 1017.0 L1217.9 1016.2 L1218.8 1015.5 L1219.8 1014.7 L1220.7 1012.9 L1221.6 1011.8 L1222.5 1010.8 L1223.5 1010.1 L1224.4 1008.7 L1225.4 1007.5 L1226.3 1007.2 L1227.3 1005.6 L1228.5 1006.2 L1229.8 1005.5 L1231.1 1006.7 L1231.9 1007.4 L1232.6 1008.6 L1233.4 1010.7 L1234.1 1011.1 L1234.9 1012.7 L1235.6 1013.2 L1236.4 1014.7 L1237.5 1013.5 L1238.6 1014.0 L1239.7 1012.0 L1240.8 1011.9 L1241.9 1011.3 L1242.3 1010.1 L1242.7 1008.8 L1243.1 1008.1 L1243.6 1007.0 L1244.0 1005.3 L1244.4 1004.2 L1244.8 1003.3 L1245.3 1002.1 L1246.5 1001.5 L1247.8 1001.0 L1248.2 1002.2 L1248.6 1003.5 L1249.0 1004.3 L1249.4 1005.9 L1249.8 1006.7 L1250.2 1007.8 L1251.0 1008.3 L1251.7 1009.7 L1252.4 1010.8 L1253.1 1011.4 L1253.8 1013.2 L1254.5 1013.8 L1255.2 1014.7 L1256.5 1014.9 L1257.7 1014.7 L1258.9 1014.6 L1260.1 1015.0 L1261.4 1015.9 L1262.6 1015.8 L1263.8 1015.5 L1265.0 1015.0 L1266.2 1013.4 L1267.4 1014.0 L1268.6 1013.3 L1269.8 1012.4 L1270.9 1012.0 L1272.0 1011.1 L1273.0 1010.9 L1274.1 1010.4 L1275.1 1009.0 L1275.9 1010.2 L1276.7 1011.2 L1277.4 1012.4 L1278.2 1013.9 L1278.9 1014.9 L1279.7 1015.8 L1281.1 1016.0 L1282.5 1014.9 L1284.0 1015.1 L1285.4 1014.7 L1286.7 1014.7 L1288.1 1015.7 L1289.4 1015.2 L1290.8 1016.6 L1292.1 1017.0 L1293.4 1017.5 L1294.7 1018.1 L1296.1 1017.4 L1297.4 1018.3 L1298.7 1017.2 L1300.0 1017.0 L1301.3 1018.1 L1302.6 1018.4 L1303.9 1018.1 L1305.2 1018.4 L1306.5 1018.9 L1307.9 1019.4 L1309.2 1019.8 L1310.5 1019.2 L1311.8 1018.7 L1313.2 1019.1 L1314.5 1019.0 L1315.9 1018.9 L1317.2 1018.6 L1318.6 1018.2 L1319.9 1018.1 L1320.9 1017.7 L1321.9 1015.8 L1322.9 1016.1 L1323.8 1014.4 L1324.8 1013.6 L1325.8 1013.5 L1326.8 1012.4 L1328.1 1012.1 L1329.4 1011.7 L1330.7 1010.9 L1332.0 1010.7 L1333.3 1011.3 L1334.6 1010.8 L1336.0 1010.5 L1337.4 1011.7 L1338.8 1010.7 L1340.1 1011.3 L1341.1 1010.3 L1342.0 1009.5 L1343.0 1009.1 L1343.9 1008.4 L1344.9 1007.4 L1345.8 1006.0 L1346.8 1005.6 L1347.1 1004.0 L1347.4 1002.9 L1347.8 1001.5 L1348.1 1000.4 L1348.4 998.7 L1348.8 997.6 L1350.6 998.7 L1351.0 1000.0 L1351.4 1000.9 L1351.8 1002.0 L1352.3 1003.0 L1352.7 1004.6 L1353.1 1005.6 L1353.5 1006.7 L1354.0 1007.8 L1354.9 1009.3 L1355.9 1009.2 L1356.8 1010.8 L1357.8 1011.5 L1358.7 1012.4 L1359.7 1014.1 L1360.6 1014.7 L1361.8 1013.9 L1363.0 1013.8 L1364.2 1013.4 L1365.4 1012.5 L1366.6 1012.5 L1367.8 1012.4 L1368.9 1011.0 L1369.9 1011.3 L1371.0 1010.9 L1372.1 1010.9 L1373.2 1010.3 L1374.3 1009.0 L1375.4 1009.3 L1376.5 1010.9 L1377.6 1010.1 L1378.7 1010.7 L1379.8 1011.9 L1380.9 1012.4 L1382.3 1013.0 L1383.7 1013.0 L1385.0 1012.2 L1386.4 1013.1 L1387.7 1013.5 L1388.7 1014.2 L1389.7 1014.7 L1390.8 1015.9 L1391.8 1016.5 L1392.8 1016.2 L1393.8 1017.4 L1394.8 1018.1 L1396.1 1018.3 L1397.4 1018.3 L1398.7 1017.9 L1400.0 1018.3 L1401.4 1017.7 L1402.7 1016.9 L1404.0 1017.0 L1405.3 1017.6 L1406.6 1017.2 L1407.9 1017.2 L1409.2 1017.1 L1410.5 1017.5 L1411.8 1017.4 L1413.1 1017.0 L1414.3 1016.7 L1415.5 1017.1 L1416.7 1016.2 L1417.9 1016.6 L1419.1 1016.8 L1420.3 1015.8 L1421.1 1014.7 L1421.8 1013.1 L1422.6 1012.9 L1423.3 1011.3 L1424.8 1011.0 L1426.2 1011.3 L1427.6 1011.3 L1429.0 1012.4 L1430.3 1012.0 L1431.6 1011.7 L1432.9 1012.1 L1434.2 1011.3 L1435.0 1009.9 L1435.8 1009.1 L1436.5 1008.6 L1437.3 1006.7 L1438.1 1006.2 L1438.8 1004.8 L1439.6 1004.6 L1440.4 1003.3 L1440.7 1001.9 L1441.0 1000.5 L1441.3 999.3 L1441.6 998.1 L1442.0 997.2 L1442.3 995.6 L1442.6 994.3 L1442.9 993.2 L1443.2 991.8 L1443.6 991.0 L1443.9 989.6 L1444.1 988.5 L1444.4 987.1 L1444.6 985.7 L1444.9 984.3 L1445.1 983.4 L1445.4 981.9 L1445.6 980.8 L1445.9 979.7 L1446.1 978.2 L1446.7 976.6 L1447.3 975.6 L1448.0 974.1 L1448.4 975.3 L1448.7 976.6 L1449.1 977.8 L1449.5 979.3 L1449.9 980.4 L1450.3 981.6 L1450.7 982.4 L1451.2 984.2 L1451.6 984.8 L1452.0 986.1 L1452.4 987.3 L1452.8 988.5 L1453.3 989.8 L1453.7 990.4 L1454.1 991.9 L1454.3 993.0 L1454.4 994.4 L1454.6 995.5 L1454.7 996.6 L1454.9 998.1 L1455.0 999.4 L1455.2 1000.4 L1455.3 1001.6 L1455.5 1002.7 L1455.6 1004.0 L1455.8 1005.4 L1455.9 1006.4 L1456.1 1007.7 L1456.2 1008.9 L1456.4 1010.1 L1457.3 1010.8 L1458.2 1012.1 L1459.1 1012.6 L1460.0 1014.3 L1461.0 1014.7 L1461.9 1014.4 L1462.9 1012.9 L1463.8 1011.8 L1464.8 1011.0 L1465.7 1011.3 L1466.7 1010.1 L1468.0 1010.0 L1469.3 1009.4 L1470.6 1009.2 L1472.0 1010.7 L1473.3 1009.5 L1474.6 1010.1 L1476.0 1010.7 L1477.4 1009.4 L1478.7 1009.7 L1480.1 1008.9 L1481.5 1009.0 L1482.3 1010.1 L1483.2 1010.4 L1484.0 1011.5 L1484.9 1012.3 L1485.7 1013.2 L1486.6 1014.7 L1487.8 1015.5 L1489.1 1016.8 L1490.4 1016.0 L1491.6 1018.0 L1492.9 1018.1 L1494.1 1017.4 L1495.3 1016.8 L1496.5 1016.1 L1497.7 1016.3 L1498.8 1015.5 L1500.0 1015.8 L1501.1 1015.1 L1502.2 1014.4 L1503.3 1013.3 L1504.3 1013.7 L1505.4 1012.4 L1506.7 1012.6 L1508.1 1012.9 L1509.4 1011.9 L1510.7 1012.8 L1512.1 1012.8 L1513.4 1012.4 L1514.2 1013.9 L1515.0 1014.3 L1515.9 1016.3 L1516.7 1016.9 L1517.5 1018.1 L1518.7 1017.5 L1519.9 1019.3 L1521.2 1018.3 L1522.4 1019.6 L1523.6 1018.5 L1524.8 1019.2 L1526.1 1018.4 L1527.3 1019.3 L1528.6 1019.3 L1529.9 1019.6 L1531.1 1019.5 L1532.4 1019.0 L1533.7 1019.8 L1534.9 1019.3 L1536.2 1019.2 L1537.5 1018.5 L1538.7 1019.4 L1540.0 1018.9 L1541.3 1019.3 L1542.5 1018.6 L1543.8 1018.7 L1545.1 1018.8 L1546.3 1019.6 L1547.6 1019.2 L1548.9 1018.3 L1550.1 1019.1 L1551.4 1019.0 L1552.7 1020.0 L1553.9 1018.5 L1555.2 1019.3 L1556.5 1019.9 L1557.7 1019.1 L1559.0 1019.2 L1560.3 1020.2 L1561.5 1018.7 L1562.8 1019.2 L1564.1 1018.8 L1565.3 1018.8 L1566.6 1018.4 L1567.9 1019.8 L1569.1 1019.5 L1570.4 1019.2 L1571.8 1019.6 L1573.2 1018.7 L1574.6 1018.0 L1576.0 1018.6 L1577.4 1018.1 L1578.5 1018.2 L1579.6 1017.0 L1580.7 1016.0 L1581.8 1015.8 L1583.1 1015.9 L1584.4 1016.5 L1585.7 1016.5 L1587.0 1016.1 L1588.3 1016.3 L1589.6 1014.9 L1590.9 1015.8 L1592.1 1015.6 L1593.2 1015.7 L1594.3 1016.9 L1595.5 1017.3 L1596.6 1016.9 L1597.8 1018.1 L1598.9 1018.3 L1600.1 1017.4 L1601.3 1017.4 L1602.5 1017.4 L1603.7 1016.7 L1604.9 1015.8 L1606.1 1015.6 L1607.3 1014.9 L1608.5 1014.1 L1609.7 1014.0 L1610.9 1013.4 L1612.1 1012.4 L1612.8 1011.0 L1613.4 1010.4 L1614.1 1008.6 L1614.7 1007.9 L1615.4 1007.1 L1616.0 1005.6 L1616.2 1004.2 L1616.4 1003.3 L1616.5 1001.9 L1616.7 1000.7 L1616.9 999.3 L1617.0 998.0 L1617.2 996.9 L1617.4 995.8 L1617.6 994.7 L1617.7 993.3 L1617.9 992.1 L1618.1 990.8 L1618.3 989.6 L1619.0 988.5 L1619.8 987.6 L1620.6 986.2 L1621.3 987.7 L1622.1 988.3 L1622.8 989.6 L1623.0 990.9 L1623.1 992.0 L1623.3 993.1 L1623.4 994.3 L1623.6 995.6 L1623.7 996.9 L1623.9 998.1 L1624.0 999.3 L1624.2 1000.7 L1624.3 1001.7 L1624.5 1003.1 L1624.7 1004.2 L1624.8 1005.6 L1625.0 1006.6 L1625.1 1007.8 L1625.9 1008.7 L1626.6 1010.1 L1627.4 1010.4 L1628.2 1012.0 L1628.9 1012.4 L1629.7 1013.5 L1631.0 1012.8 L1632.4 1013.6 L1633.8 1013.7 L1635.1 1013.1 L1636.5 1013.5 L1637.8 1013.1 L1639.1 1014.5 L1640.4 1013.5 L1641.7 1014.0 L1643.0 1013.4 L1644.3 1013.6 L1645.6 1013.5 L1647.0 1013.5 L1648.3 1013.7 L1649.6 1015.3 L1651.0 1015.4 L1652.3 1015.1 L1653.6 1015.8 L1654.8 1014.9 L1655.9 1014.4 L1657.1 1012.9 L1658.2 1013.0 L1659.4 1012.8 L1660.5 1011.3 L1661.3 1012.4 L1662.0 1013.1 L1662.8 1013.6 L1663.6 1015.1 L1664.3 1016.1 L1665.1 1017.0 L1666.4 1017.2 L1667.7 1017.4 L1669.0 1016.0 L1670.3 1015.6 L1671.6 1017.0 L1672.9 1016.0 L1674.2 1015.8 L1675.5 1016.7 L1676.9 1016.4 L1678.2 1017.1 L1679.5 1016.8 L1680.8 1017.2 L1682.2 1017.0 L1683.2 1016.2 L1684.2 1015.7 L1685.2 1014.5 L1686.3 1013.8 L1687.3 1012.1 L1688.3 1011.3 L1689.6 1010.4 L1690.8 1010.0 L1692.1 1010.0 L1693.3 1009.8 L1694.6 1009.7 L1695.9 1009.0 L1696.8 1009.7 L1697.8 1011.2 L1698.7 1011.1 L1699.7 1011.3 L1700.6 1012.8 L1701.6 1013.5 L1702.7 1013.3 L1703.8 1012.2 L1705.0 1012.6 L1706.1 1011.2 L1707.3 1011.3 L1708.2 1012.6 L1709.2 1012.7 L1710.1 1014.2 L1711.1 1014.5 L1712.0 1015.4 L1713.0 1015.8 L1714.3 1015.1 L1715.6 1016.2 L1716.9 1016.3 L1718.2 1014.5 L1719.5 1015.2 L1720.8 1014.2 L1722.1 1014.7 L1723.2 1015.8 L1724.4 1016.2 L1725.5 1016.7 L1726.6 1016.9 L1727.8 1017.0 L1728.9 1016.4 L1730.1 1016.4 L1731.2 1015.1 L1732.3 1014.8 L1733.5 1015.2 L1734.6 1014.7 L1735.8 1015.6 L1736.9 1015.3 L1738.0 1015.3 L1739.2 1015.9 L1740.3 1016.8 L1741.5 1017.4 L1742.6 1018.1 L1744.0 1018.9 L1745.3 1018.5 L1746.7 1018.9 L1748.1 1018.6 L1749.4 1018.1 L1750.6 1018.1 L1751.7 1017.8 L1752.9 1016.5 L1754.0 1017.0 L1755.1 1016.3 L1756.3 1015.8 L1757.6 1016.3 L1758.9 1016.3 L1760.3 1016.5 L1761.6 1017.5 L1762.9 1017.7 L1764.3 1017.4 L1765.6 1016.7 L1766.9 1018.0 L1768.3 1017.3 L1769.6 1016.3 L1770.9 1017.6 L1772.3 1017.0 L1773.6 1017.6 L1775.0 1016.7 L1776.4 1016.6 L1777.8 1016.2 L1779.2 1016.0 L1780.6 1016.5 L1781.3 1015.5 L1782.0 1014.3 L1782.7 1013.5 L1783.4 1012.4 L1784.1 1010.8 L1784.8 1010.1 L1786.1 1010.9 L1787.4 1010.6 L1788.7 1010.8 L1790.0 1011.3 L1791.1 1011.8 L1792.1 1013.3 L1793.1 1014.4 L1794.1 1015.4 L1795.2 1016.4 L1796.2 1017.0 L1797.3 1016.0 L1798.5 1015.7 L1799.6 1015.1 L1800.7 1014.1 L1801.9 1013.5 L1803.0 1013.5 L1804.1 1015.3 L1805.2 1016.2 L1806.3 1016.2 L1807.4 1017.0 L1808.7 1017.9 L1810.1 1016.5 L1811.5 1017.7 L1812.8 1017.5 L1814.2 1018.2 L1815.6 1018.1 L1816.8 1017.5 L1818.0 1017.7 L1819.3 1016.4 L1820.5 1016.2 L1821.8 1016.0 L1823.0 1015.8 L1823.7 1014.7 L1824.5 1013.7 L1825.2 1013.4 L1826.0 1011.8 L1826.7 1010.9 L1827.5 1009.4 L1828.2 1008.9 L1829.0 1007.8 L1829.7 1007.0 L1830.4 1005.8 L1831.2 1004.9 L1831.9 1003.4 L1832.7 1002.1 L1833.4 1003.0 L1834.1 1004.5 L1834.8 1005.6 L1835.5 1006.6 L1836.3 1006.6 L1837.0 1008.2 L1837.7 1009.0 L1838.8 1009.1 L1839.8 1009.9 L1840.9 1011.4 L1842.0 1012.2 L1843.1 1012.4 L1844.1 1012.6 L1845.2 1013.5 L1846.4 1012.7 L1847.6 1011.5 L1848.9 1010.6 L1850.1 1010.1 L1851.4 1009.3 L1852.8 1010.4 L1854.1 1010.0 L1855.5 1009.0 L1856.2 1009.8 L1857.0 1011.7 L1857.7 1012.7 L1858.5 1013.8 L1859.3 1014.4 L1860.0 1015.8 L1861.0 1015.1 L1861.9 1014.7 L1862.9 1013.8 L1863.8 1013.4 L1864.8 1011.4 L1865.7 1011.3 L1866.6 1011.9 L1867.4 1012.8 L1868.3 1013.7 L1869.1 1015.3 L1870.0 1016.2 L1870.8 1016.8 L1871.7 1017.5 L1872.6 1018.1 L1873.3 1017.5 L1874.1 1016.6 L1874.8 1014.9 L1875.6 1014.5 L1876.4 1013.9 L1877.1 1012.4 L1878.2 1012.4 L1879.3 1013.5 L1880.4 1013.9 L1881.5 1015.2 L1882.6 1015.2 L1883.6 1015.8 L1884.8 1015.7 L1886.0 1016.5 L1887.3 1017.4 L1888.5 1017.7 L1889.7 1018.1 L1890.8 1016.7 L1891.9 1017.2 L1893.1 1015.7 L1894.2 1014.6 L1895.4 1014.7 L1896.3 1015.6 L1897.3 1016.4 L1898.2 1017.1 L1899.2 1017.1 L1900.1 1017.8 L1901.1 1019.2 L1902.4 1019.5 L1903.7 1018.9 L1905.0 1017.8 L1906.4 1018.6 L1907.7 1017.5 L1909.0 1018.1 L1910.4 1018.3 L1911.8 1018.9 L1913.1 1018.3 L1914.5 1018.8 L1915.9 1019.2 L1917.0 1019.2 L1918.2 1018.0 L1919.4 1018.2 L1920.5 1016.8 L1921.7 1017.4 L1922.8 1016.2 L1924.0 1016.1 L1925.2 1015.8 L1926.5 1016.5 L1927.9 1015.9 L1929.3 1014.6 L1930.7 1015.5 L1932.0 1014.7 L1933.1 1013.9 L1934.2 1013.5 L1935.3 1012.6 L1936.4 1012.4 L1937.5 1012.8 L1938.7 1014.8 L1939.8 1014.8 L1941.0 1015.8 L1942.4 1015.0 L1943.8 1015.8 L1945.2 1014.2 L1946.7 1014.7 L1947.8 1014.9 L1948.9 1014.8 L1950.1 1015.0 L1951.2 1017.0 L1952.4 1016.6 L1953.5 1017.0 L1954.6 1016.4 L1955.7 1014.9 L1956.8 1014.5 L1957.8 1013.3 L1958.9 1013.7 L1960.0 1012.4 L1960.6 1010.8 L1961.2 1010.6 L1961.7 1009.4 L1962.3 1007.5 L1962.8 1006.5 L1963.4 1005.6 L1964.7 1004.5 L1966.0 1004.4 L1966.5 1005.1 L1967.0 1006.7 L1967.5 1007.9 L1968.0 1009.3 L1968.4 1010.1 L1969.1 1011.2 L1969.7 1012.1 L1970.3 1013.5 L1971.0 1014.3 L1971.6 1015.3 L1972.2 1016.8 L1972.9 1018.1 L1974.2 1018.5 L1975.6 1016.9 L1977.0 1018.3 L1978.3 1017.8 L1979.7 1017.0 L1981.1 1017.9 L1982.5 1017.1 L1983.8 1016.6 L1985.2 1017.5 L1986.6 1017.0 L1987.9 1016.5 L1989.3 1017.5 L1990.6 1018.3 L1992.0 1017.9 L1993.3 1018.1 L1994.7 1018.8 L1996.1 1018.0 L1997.5 1019.5 L1998.9 1018.4 L2000.2 1019.2 L2001.5 1018.8 L2002.9 1019.1 L2004.2 1019.5 L2005.5 1017.9 L2006.8 1018.0 L2008.1 1018.8 L2009.4 1018.1 L2010.7 1017.4 L2012.0 1017.4 L2013.3 1016.8 L2014.6 1018.1 L2015.9 1017.5 L2017.2 1016.5 L2018.5 1016.5 L2019.8 1017.6 L2021.1 1017.7 L2022.4 1016.9 L2023.7 1016.6 L2025.0 1018.0 L2026.3 1018.1 L2027.6 1018.1 L2028.9 1017.6 L2030.1 1017.0 L2031.4 1017.5 L2032.7 1018.6 L2033.9 1018.1 L2035.2 1018.0 L2036.5 1017.9 L2037.7 1017.0 L2039.0 1017.4 L2040.3 1018.3 L2041.5 1017.8 L2042.8 1018.8 L2044.1 1018.4 L2045.3 1018.8 L2046.6 1019.3 L2047.9 1019.7 L2049.1 1019.4 L2050.4 1019.2 L2051.7 1019.9 L2053.0 1018.7 L2054.3 1018.4 L2055.7 1018.1 L2057.0 1018.2 L2058.3 1019.0 L2059.6 1018.1 L2060.9 1017.5 L2062.2 1017.0 L2063.5 1016.4 L2064.8 1017.2 L2066.1 1017.2 L2067.3 1016.0 L2068.6 1015.8 L2070.0 1015.1 L2071.4 1016.3 L2072.7 1016.5 L2074.1 1015.6 L2075.5 1015.8 L2076.6 1016.3 L2077.8 1016.6 L2078.9 1017.4 L2080.0 1018.1 L2081.2 1019.0 L2082.3 1018.8 L2083.5 1017.8 L2084.6 1018.0 L2085.7 1016.8 L2086.9 1015.8 L2088.0 1015.1 L2089.2 1016.4 L2090.3 1016.2 L2091.4 1017.4 L2092.6 1018.7 L2093.7 1018.8 L2094.9 1018.6 L2096.0 1017.9 L2097.1 1016.6 L2098.3 1016.1 L2099.4 1015.1 L2100.6 1016.2 L2101.7 1015.9 L2102.8 1017.7 L2104.0 1018.0 L2105.1 1018.1 L2106.3 1017.6 L2107.4 1017.3 L2108.5 1017.4 L2109.7 1015.3 L2110.8 1015.3 L2112.0 1015.1 L2113.1 1016.3 L2114.2 1015.6 L2115.4 1017.3 L2116.5 1017.2 L2117.7 1017.8 L2118.8 1018.8 L2120.1 1017.8 L2121.4 1018.2 L2122.7 1018.2 L2124.0 1018.7 L2125.4 1018.9 L2126.7 1018.4 L2128.0 1018.1 L2129.3 1017.2 L2130.7 1017.5 L2132.0 1017.9 L2133.4 1016.3 L2134.8 1016.5 L2136.1 1017.0 L2137.4 1016.3 L2138.8 1016.6 L2140.1 1017.2 L2141.4 1017.9 L2142.8 1017.4 L2144.1 1017.4 L2145.4 1016.7 L2146.7 1017.4 L2148.0 1016.3 L2149.4 1017.5 L2150.7 1017.1 L2152.0 1017.0 L2153.2 1016.2 L2154.3 1016.2 L2155.5 1015.3 L2156.6 1015.0 L2157.8 1014.7 L2158.9 1014.5 L2160.1 1013.5 L2161.4 1012.7 L2162.8 1013.8 L2164.2 1013.3 L2165.6 1012.4 L2166.9 1012.4 L2168.2 1014.2 L2169.5 1013.7 L2170.9 1015.2 L2172.2 1015.1 L2173.5 1014.9 L2174.8 1016.4 L2176.1 1016.8 L2177.5 1016.5 L2178.8 1017.1 L2180.1 1017.5 L2181.4 1017.4 L2182.7 1017.9 L2184.0 1017.5 L2185.4 1018.5 L2186.7 1018.9 L2188.0 1018.5 L2189.3 1019.3 L2190.6 1018.8 L2191.8 1018.1 L2192.9 1017.8 L2194.1 1017.8 L2195.2 1016.8 L2196.3 1017.2 L2197.5 1016.7 L2198.6 1015.8 L2200.0 1015.7 L2201.5 1016.4 L2202.9 1017.7 L2204.3 1017.4 L2205.7 1017.1 L2207.1 1015.9 L2208.4 1017.0 L2209.8 1015.6 L2211.2 1015.8 L2212.3 1016.1 L2213.4 1017.3 L2214.6 1017.4 L2215.7 1017.8 L2216.9 1016.9 L2218.0 1018.1 L2219.2 1017.1 L2220.4 1016.2 L2221.7 1016.9 L2222.9 1015.1 L2224.1 1014.3 L2225.3 1014.2 L2226.4 1013.7 L2227.6 1013.0 L2228.7 1012.1 L2229.9 1011.0 L2231.0 1010.1 L2232.4 1010.0 L2233.7 1008.8 L2235.1 1007.8 L2236.1 1008.0 L2237.1 1010.0 L2238.1 1009.7 L2239.1 1011.3 L2240.1 1012.7 L2241.1 1012.7 L2242.2 1013.5 L2243.2 1013.6 L2244.2 1014.7 L2244.9 1013.9 L2245.6 1012.2 L2246.3 1011.3 L2247.0 1009.6 L2247.7 1009.2 L2248.4 1008.2 L2249.1 1006.8 L2249.8 1005.6 L2250.4 1004.6 L2251.0 1003.1 L2251.6 1001.9 L2252.2 1000.5 L2253.0 1002.2 L2253.9 1002.8 L2254.7 1004.4 L2255.3 1005.4 L2255.9 1007.0 L2256.5 1008.1 L2257.1 1009.4 L2257.7 1010.4 L2258.3 1011.3 L2259.3 1012.2 L2260.4 1012.8 L2261.4 1012.8 L2262.5 1014.3 L2263.5 1015.0 L2264.5 1014.8 L2265.6 1015.8 L2267.0 1015.8 L2268.4 1016.1 L2269.8 1016.9 L2271.2 1015.9 L2272.6 1017.0 L2274.0 1016.5 L2275.4 1018.2 L2276.8 1018.1 L2278.2 1017.7 L2279.6 1018.1 L2280.9 1017.1 L2282.2 1016.4 L2283.5 1016.2 L2284.8 1017.1 L2286.1 1015.3 L2287.4 1016.2 L2288.7 1015.1 L2290.0 1014.7 L2291.4 1016.0 L2292.8 1015.0 L2294.1 1016.1 L2295.5 1015.8 L2296.8 1016.0 L2298.1 1015.2 L2299.4 1014.4 L2300.7 1014.5 L2302.0 1013.7 L2303.3 1014.7 L2304.6 1013.5 L2306.0 1013.7 L2307.3 1014.1 L2308.7 1013.9 L2310.0 1014.3 L2311.3 1014.7 L2312.5 1015.7 L2313.7 1016.0 L2314.8 1016.2 L2316.0 1016.8 L2317.1 1017.2 L2318.3 1015.8 L2319.5 1017.0" fill="none" stroke="#ee3f40" stroke-width="9.8" stroke-linejoin="round" stroke-linecap="round"/>
<path d="M217.1 1408.8 L218.2 1409.3 L219.4 1410.8 L220.5 1411.5 L221.7 1412.7 L222.7 1412.1 L223.7 1411.5 L224.7 1409.8 L225.6 1408.9 L226.6 1409.7 L227.6 1408.0 L228.6 1407.2 L229.6 1407.0 L230.6 1408.6 L231.6 1408.5 L232.6 1410.0 L233.5 1410.2 L234.5 1411.3 L235.5 1411.3 L236.5 1412.7 L237.8 1412.8 L239.1 1413.2 L240.4 1412.2 L241.7 1412.6 L243.0 1412.2 L244.3 1410.7 L245.7 1411.5 L246.9 1411.9 L248.2 1411.4 L249.5 1410.6 L250.8 1409.8 L252.1 1411.5 L253.4 1410.5 L254.7 1410.4 L256.0 1410.9 L257.4 1411.3 L258.7 1410.9 L260.0 1411.4 L261.4 1410.1 L262.7 1410.4 L263.5 1409.9 L264.2 1408.4 L265.0 1408.2 L265.7 1407.1 L266.5 1405.0 L267.3 1404.7 L267.9 1405.4 L268.6 1406.6 L269.2 1408.7 L269.9 1409.2 L270.5 1410.5 L271.2 1411.3 L271.8 1412.7 L273.0 1412.0 L274.2 1411.1 L275.4 1410.4 L276.5 1410.2 L277.7 1409.6 L278.9 1409.5 L280.1 1408.1 L281.4 1408.1 L282.7 1408.2 L283.9 1407.7 L285.2 1407.6 L286.5 1406.6 L287.8 1405.8 L288.7 1406.1 L289.7 1408.2 L290.6 1409.2 L291.6 1410.0 L292.5 1410.3 L293.5 1411.1 L294.8 1411.6 L296.1 1410.4 L297.4 1411.9 L298.7 1411.2 L300.0 1410.5 L301.3 1410.0 L302.6 1411.1 L303.9 1411.7 L305.2 1411.8 L306.5 1409.6 L307.8 1411.0 L309.1 1409.9 L310.4 1409.1 L311.8 1409.7 L313.1 1409.1 L314.4 1410.2 L315.6 1410.4 L316.9 1408.4 L318.2 1409.6 L319.5 1408.2 L320.8 1409.2 L322.1 1409.9 L323.4 1409.2 L324.7 1410.6 L326.1 1411.0 L327.4 1410.1 L328.7 1411.3 L330.0 1410.4 L331.1 1409.4 L332.3 1408.4 L333.5 1408.9 L334.7 1407.2 L335.9 1406.9 L337.1 1407.0 L338.4 1406.3 L339.7 1406.3 L341.0 1404.9 L342.3 1404.2 L343.6 1404.7 L344.9 1405.6 L346.2 1404.4 L347.6 1406.0 L348.9 1406.0 L350.2 1405.1 L351.2 1405.8 L352.2 1406.8 L353.2 1407.8 L354.2 1408.9 L355.2 1409.7 L356.2 1410.4 L357.4 1410.2 L358.6 1410.0 L359.8 1410.3 L361.1 1409.1 L362.3 1408.6 L363.5 1408.9 L364.7 1408.1 L365.5 1406.7 L366.3 1405.8 L367.1 1405.8 L367.8 1404.1 L368.6 1403.2 L369.4 1401.4 L370.2 1401.0 L371.0 1400.1 L371.2 1399.0 L371.3 1397.4 L371.5 1396.6 L371.7 1395.4 L371.9 1393.8 L372.0 1392.9 L372.2 1391.7 L372.4 1390.6 L372.6 1389.2 L372.8 1388.2 L372.9 1387.0 L373.1 1385.4 L373.3 1384.2 L373.5 1383.3 L373.6 1382.3 L373.8 1380.7 L374.0 1379.6 L374.4 1378.3 L374.8 1377.1 L375.2 1375.6 L375.6 1374.4 L376.0 1373.2 L377.8 1372.8 L378.2 1374.0 L378.5 1375.4 L378.8 1376.9 L379.1 1378.1 L379.4 1379.6 L379.6 1380.7 L379.8 1382.2 L379.9 1383.0 L380.1 1384.5 L380.3 1385.8 L380.5 1386.7 L380.6 1387.9 L380.8 1389.4 L381.0 1390.3 L381.2 1391.5 L381.3 1392.8 L381.5 1394.2 L381.7 1395.1 L381.9 1396.4 L382.0 1397.6 L382.2 1399.1 L382.4 1400.1 L382.8 1401.2 L383.3 1402.8 L383.7 1403.2 L384.1 1404.5 L384.6 1406.0 L385.0 1407.4 L385.4 1408.0 L385.9 1409.0 L386.3 1410.4 L387.5 1409.6 L388.8 1410.6 L390.0 1409.9 L391.2 1411.4 L392.4 1411.6 L393.6 1410.2 L394.9 1410.5 L396.1 1411.1 L397.4 1411.7 L398.7 1411.2 L400.0 1411.5 L401.3 1410.3 L402.6 1409.7 L403.9 1410.0 L405.2 1410.4 L406.5 1411.1 L407.8 1409.8 L409.1 1410.0 L410.4 1410.2 L411.7 1410.2 L413.0 1410.2 L414.3 1410.4 L415.5 1410.9 L416.6 1408.9 L417.8 1408.2 L419.0 1409.8 L420.1 1409.3 L421.3 1408.1 L422.6 1408.9 L424.0 1407.5 L425.3 1408.4 L426.7 1408.1 L428.0 1407.0 L429.1 1407.0 L430.3 1408.6 L431.4 1409.3 L432.6 1409.6 L433.7 1409.8 L434.8 1410.4 L436.0 1409.6 L437.2 1409.4 L438.3 1408.8 L439.5 1408.2 L440.6 1408.9 L441.8 1408.0 L442.9 1408.1 L444.2 1408.6 L445.6 1406.7 L446.9 1408.4 L448.2 1407.8 L449.5 1408.1 L450.8 1407.0 L452.1 1408.0 L453.4 1408.2 L454.7 1407.6 L456.0 1406.5 L457.3 1408.3 L458.6 1407.2 L459.9 1408.1 L461.2 1407.3 L462.5 1407.6 L463.8 1406.9 L465.1 1406.2 L466.4 1406.9 L467.7 1405.8 L469.0 1405.1 L470.4 1405.1 L471.8 1405.1 L473.1 1406.7 L474.5 1406.2 L475.9 1406.5 L477.2 1406.8 L478.6 1405.6 L480.0 1405.0 L481.3 1405.5 L482.7 1405.1 L483.8 1406.3 L484.9 1405.7 L486.0 1407.4 L487.2 1408.3 L488.3 1408.6 L489.4 1409.3 L490.5 1409.2 L491.9 1408.3 L493.2 1409.9 L494.6 1410.6 L495.9 1409.0 L497.3 1409.7 L498.7 1410.4 L500.0 1409.7 L501.3 1410.2 L502.6 1409.9 L503.9 1409.9 L505.2 1410.5 L506.5 1408.6 L507.8 1409.7 L509.1 1408.8 L510.4 1409.0 L511.7 1409.1 L513.0 1409.1 L514.3 1411.3 L515.6 1411.1 L516.9 1410.4 L518.2 1409.3 L519.5 1410.1 L520.8 1409.5 L522.1 1409.3 L523.4 1409.2 L524.7 1409.7 L526.0 1409.2 L527.3 1409.7 L528.6 1409.6 L529.9 1409.6 L531.2 1410.2 L532.5 1410.1 L533.8 1411.3 L535.1 1411.5 L536.4 1412.1 L537.7 1411.4 L539.0 1410.7 L540.3 1411.0 L541.7 1411.5 L543.0 1412.2 L544.3 1412.0 L545.6 1412.4 L546.9 1411.3 L548.2 1412.0 L549.5 1411.3 L550.8 1410.7 L552.1 1410.3 L553.4 1410.4 L554.7 1410.5 L556.0 1411.0 L557.3 1410.5 L558.6 1411.2 L559.9 1410.8 L561.2 1410.4 L562.5 1411.1 L563.7 1411.0 L564.9 1411.3 L566.1 1409.8 L567.3 1410.5 L568.5 1410.4 L569.7 1411.4 L570.9 1410.4 L571.7 1410.1 L572.6 1408.2 L573.4 1408.1 L574.3 1406.9 L575.1 1405.1 L576.0 1404.5 L576.8 1403.5 L578.0 1402.2 L579.2 1403.0 L580.4 1402.1 L581.7 1402.0 L582.9 1401.3 L584.1 1400.1 L584.3 1399.0 L584.5 1397.8 L584.7 1396.5 L584.9 1395.0 L585.1 1394.1 L585.3 1392.6 L585.6 1391.4 L585.8 1390.6 L586.0 1389.0 L586.2 1387.8 L586.4 1386.6 L586.6 1385.9 L586.8 1384.2 L587.0 1382.9 L587.2 1382.2 L587.4 1380.6 L587.6 1379.6 L587.7 1378.5 L587.8 1377.2 L587.9 1376.0 L588.0 1374.8 L588.1 1373.4 L588.2 1372.3 L588.3 1370.8 L588.4 1369.8 L588.5 1368.5 L588.6 1367.3 L588.7 1365.9 L588.8 1364.9 L588.9 1363.7 L589.0 1362.2 L589.1 1361.0 L589.2 1359.9 L589.3 1358.7 L589.3 1357.3 L589.4 1356.0 L589.5 1354.8 L589.6 1353.7 L589.7 1352.5 L589.8 1351.2 L589.9 1350.0 L590.4 1348.4 L590.8 1347.0 L591.3 1345.5 L591.7 1344.3 L591.9 1345.5 L592.0 1346.6 L592.2 1348.0 L592.3 1349.5 L592.5 1350.5 L592.6 1351.9 L592.8 1352.9 L592.9 1354.4 L593.1 1355.7 L593.2 1356.8 L593.3 1358.1 L593.4 1359.2 L593.5 1360.5 L593.6 1361.7 L593.7 1363.0 L593.7 1364.0 L593.8 1365.2 L593.9 1366.6 L594.0 1367.9 L594.1 1369.0 L594.1 1370.2 L594.2 1371.5 L594.3 1372.6 L594.4 1373.8 L594.5 1375.0 L594.5 1376.4 L594.6 1377.5 L594.7 1378.7 L594.8 1380.1 L594.9 1381.4 L595.0 1382.4 L595.0 1383.7 L595.1 1384.9 L595.2 1386.2 L595.3 1387.4 L595.4 1388.5 L595.4 1389.7 L595.5 1391.0 L595.9 1391.9 L596.2 1393.5 L596.5 1394.7 L596.9 1395.8 L597.2 1397.2 L597.5 1398.5 L597.9 1400.1 L598.2 1400.8 L598.5 1402.4 L598.7 1401.5 L598.9 1400.0 L599.1 1398.9 L599.3 1397.6 L599.4 1396.6 L599.6 1395.4 L599.8 1394.0 L600.0 1392.8 L600.2 1391.7 L600.4 1390.6 L600.5 1389.1 L600.7 1388.1 L600.9 1387.1 L601.1 1385.6 L601.3 1384.2 L601.4 1383.1 L601.6 1382.1 L601.8 1380.9 L602.0 1379.6 L602.3 1378.8 L602.7 1377.5 L603.0 1375.7 L603.3 1374.5 L603.7 1373.3 L604.0 1372.3 L604.3 1373.3 L604.6 1374.9 L604.9 1376.2 L605.2 1377.5 L605.5 1378.2 L605.8 1379.6 L606.0 1381.0 L606.1 1381.9 L606.3 1383.2 L606.4 1384.5 L606.6 1385.4 L606.7 1386.6 L606.9 1388.2 L607.1 1389.1 L607.2 1390.3 L607.4 1391.6 L607.5 1392.9 L607.7 1393.8 L607.8 1395.1 L608.0 1396.4 L608.2 1397.6 L608.3 1398.7 L608.5 1400.0 L608.6 1401.4 L608.8 1402.4 L609.4 1403.4 L610.1 1404.7 L610.7 1405.3 L611.3 1406.7 L612.0 1408.3 L612.6 1408.7 L613.2 1410.4 L614.5 1411.4 L615.7 1411.6 L616.9 1410.0 L618.1 1412.0 L619.4 1410.9 L620.6 1412.0 L621.8 1411.5 L623.1 1411.9 L624.4 1410.7 L625.6 1411.3 L626.9 1411.1 L628.2 1411.3 L629.5 1410.4 L629.8 1408.9 L630.1 1408.0 L630.4 1406.9 L630.7 1405.4 L631.0 1404.0 L631.4 1402.4 L631.7 1401.4 L632.0 1400.1 L632.8 1398.8 L633.7 1397.8 L634.0 1399.4 L634.4 1400.7 L634.8 1402.0 L635.2 1403.0 L635.6 1404.7 L636.3 1405.8 L637.1 1406.8 L637.8 1407.1 L638.6 1409.0 L639.3 1409.7 L640.0 1410.4 L641.6 1409.2 L643.1 1410.5 L644.6 1409.2 L645.7 1409.3 L646.9 1410.3 L648.0 1411.7 L649.2 1412.2 L650.3 1412.7 L651.4 1412.1 L652.4 1411.6 L653.5 1410.6 L654.6 1409.7 L655.7 1408.8 L656.7 1408.0 L657.8 1408.1 L658.6 1407.5 L659.5 1406.6 L660.3 1405.3 L661.1 1404.7 L662.0 1403.1 L662.8 1402.4 L663.0 1401.0 L663.3 1399.9 L663.5 1399.0 L663.7 1397.2 L664.0 1396.3 L664.2 1394.9 L664.4 1394.1 L664.7 1392.6 L664.9 1391.3 L665.1 1390.2 L665.4 1389.1 L665.6 1388.0 L665.8 1386.5 L666.1 1385.6 L666.3 1384.2 L666.5 1382.7 L666.7 1381.5 L666.9 1380.2 L667.1 1379.0 L667.3 1378.1 L667.5 1376.8 L667.7 1375.3 L667.9 1374.0 L668.1 1372.9 L668.3 1371.9 L668.5 1370.5 L669.3 1369.8 L670.1 1368.2 L670.3 1369.6 L670.5 1370.8 L670.7 1371.8 L670.9 1373.2 L671.1 1374.4 L671.3 1375.8 L671.5 1377.1 L671.7 1378.2 L671.9 1379.6 L672.0 1380.7 L672.2 1382.1 L672.3 1383.0 L672.4 1384.5 L672.5 1385.8 L672.6 1387.0 L672.8 1388.0 L672.9 1389.2 L673.0 1390.4 L673.1 1391.7 L673.2 1393.0 L673.4 1394.1 L673.5 1395.1 L673.6 1396.5 L673.7 1397.6 L673.8 1398.8 L674.0 1400.1 L674.1 1401.0 L674.2 1402.4 L674.8 1403.9 L675.3 1404.9 L675.8 1405.8 L676.4 1407.0 L676.9 1408.1 L677.5 1408.9 L678.0 1410.4 L679.3 1410.9 L680.6 1410.3 L681.9 1411.7 L683.2 1412.5 L684.5 1412.7 L685.9 1412.1 L687.2 1411.9 L688.6 1412.2 L689.9 1411.6 L691.3 1410.4 L691.5 1409.0 L691.7 1408.2 L692.0 1406.9 L692.2 1405.3 L692.4 1404.4 L692.6 1403.1 L692.9 1401.8 L693.1 1400.9 L693.3 1400.0 L693.5 1398.4 L693.8 1397.6 L694.0 1396.3 L694.2 1394.7 L694.4 1394.0 L694.7 1392.7 L694.9 1391.7 L695.1 1390.4 L695.3 1389.2 L695.6 1387.8 L695.8 1386.9 L696.0 1385.8 L696.2 1384.6 L696.5 1383.1 L696.7 1382.1 L696.9 1380.8 L697.1 1379.6 L697.3 1378.2 L697.4 1377.0 L697.5 1375.8 L697.7 1374.6 L697.8 1373.4 L697.9 1372.4 L698.1 1371.2 L698.2 1370.0 L698.3 1368.7 L698.5 1367.6 L698.6 1366.2 L698.7 1365.1 L698.9 1364.0 L699.0 1362.7 L699.1 1361.4 L699.3 1360.5 L699.4 1359.1 L700.2 1357.9 L701.0 1356.1 L701.2 1357.3 L701.4 1358.5 L701.6 1359.8 L701.9 1361.1 L702.1 1362.1 L702.3 1363.1 L702.5 1364.5 L702.8 1365.9 L702.9 1367.3 L703.0 1368.2 L703.1 1369.6 L703.3 1370.7 L703.4 1372.0 L703.5 1373.2 L703.6 1374.5 L703.8 1375.7 L703.9 1376.8 L704.0 1378.1 L704.1 1379.4 L704.2 1380.7 L704.4 1381.8 L704.5 1383.0 L704.6 1384.4 L704.7 1385.6 L704.9 1387.0 L705.0 1388.0 L705.1 1389.3 L705.2 1390.6 L705.4 1391.7 L705.5 1393.3 L705.6 1394.2 L705.7 1395.6 L706.3 1396.2 L707.0 1397.8 L707.6 1398.6 L708.2 1400.3 L708.8 1401.1 L709.4 1401.9 L710.0 1403.5 L711.3 1403.1 L712.5 1404.9 L713.8 1404.5 L715.0 1405.9 L716.2 1405.8 L717.6 1406.2 L719.0 1407.6 L720.3 1406.8 L721.7 1407.1 L723.0 1408.1 L724.2 1408.2 L725.4 1409.8 L726.6 1410.1 L727.8 1410.1 L729.0 1410.2 L730.2 1411.5 L731.5 1411.8 L732.8 1412.3 L734.1 1411.2 L735.5 1409.7 L736.8 1409.6 L738.1 1409.6 L739.4 1410.4 L740.7 1409.2 L741.9 1408.5 L743.2 1408.0 L744.5 1408.7 L745.7 1408.7 L747.0 1406.8 L748.2 1407.0 L748.4 1406.0 L748.7 1404.5 L748.9 1403.4 L749.1 1402.2 L749.3 1401.0 L749.5 1399.2 L749.8 1398.1 L750.0 1397.1 L750.2 1396.0 L750.4 1394.3 L750.6 1393.3 L751.8 1391.8 L752.9 1391.6 L754.0 1389.9 L754.4 1388.3 L754.7 1387.5 L755.1 1386.3 L755.5 1385.5 L755.9 1384.6 L756.3 1382.7 L756.6 1382.1 L757.0 1381.0 L757.4 1379.6 L758.2 1378.9 L759.0 1377.4 L759.8 1376.2 L760.2 1377.9 L760.6 1378.7 L760.9 1380.1 L761.3 1381.3 L761.7 1383.1 L762.1 1384.2 L762.4 1385.4 L762.6 1386.4 L762.9 1387.6 L763.2 1389.2 L763.4 1390.4 L763.7 1391.7 L764.0 1392.7 L764.3 1394.0 L764.5 1395.0 L764.8 1396.6 L765.1 1397.3 L765.3 1398.9 L765.6 1400.1 L766.7 1401.2 L767.8 1401.6 L768.9 1401.1 L770.0 1401.9 L771.0 1403.6 L772.1 1403.5 L773.5 1404.0 L774.9 1404.8 L776.2 1404.9 L777.6 1404.2 L779.0 1405.4 L780.3 1404.7 L781.0 1403.8 L781.8 1402.2 L782.5 1401.1 L783.2 1399.5 L783.9 1398.8 L784.6 1398.4 L785.3 1396.2 L786.1 1395.6 L786.1 1394.4 L786.2 1393.0 L786.3 1391.8 L786.4 1390.8 L786.5 1389.4 L786.6 1388.2 L786.7 1387.0 L786.7 1385.9 L786.8 1384.7 L786.9 1383.3 L787.0 1382.2 L787.1 1381.2 L787.2 1379.7 L787.3 1378.6 L787.4 1377.4 L787.4 1376.3 L787.5 1375.0 L787.6 1373.8 L787.7 1372.6 L787.8 1371.2 L787.9 1370.0 L788.0 1368.8 L788.0 1367.8 L788.1 1366.4 L788.2 1365.1 L788.3 1364.2 L788.4 1362.8 L788.5 1361.8 L788.6 1360.3 L788.6 1359.2 L788.7 1357.9 L788.8 1356.8 L788.8 1355.6 L788.9 1354.4 L788.9 1353.2 L788.9 1352.0 L789.0 1350.8 L789.0 1349.6 L789.0 1348.4 L789.1 1347.2 L789.1 1346.0 L789.1 1344.8 L789.2 1343.6 L789.2 1342.4 L789.2 1341.2 L789.3 1340.0 L789.3 1338.8 L789.3 1337.6 L789.4 1336.3 L789.4 1335.2 L789.4 1334.0 L789.5 1332.7 L789.5 1331.6 L789.5 1330.4 L789.5 1329.2 L789.6 1328.0 L789.6 1326.8 L789.6 1325.6 L789.7 1324.4 L789.7 1323.3 L789.7 1322.0 L789.8 1320.8 L789.8 1319.5 L789.8 1318.4 L789.9 1317.2 L789.9 1316.1 L789.9 1314.8 L790.0 1313.6 L790.0 1312.5 L790.0 1311.2 L790.1 1310.1 L790.1 1308.8 L790.1 1307.6 L790.2 1306.5 L790.2 1305.2 L790.2 1304.1 L790.3 1302.8 L790.3 1301.6 L790.3 1300.4 L790.4 1299.3 L790.4 1298.1 L790.4 1296.8 L790.4 1295.7 L790.5 1294.4 L790.5 1293.2 L790.5 1292.0 L790.6 1290.8 L790.6 1289.6 L790.6 1288.4 L790.7 1287.2 L790.7 1285.9 L790.7 1284.8 L790.8 1283.6 L790.8 1282.4 L790.8 1281.2 L790.9 1280.0 L790.9 1278.8 L790.9 1277.6 L791.0 1276.4 L791.0 1275.2 L791.0 1274.0 L791.1 1272.7 L791.1 1271.6 L791.1 1270.4 L791.2 1269.2 L791.2 1268.1 L791.2 1266.9 L791.2 1265.6 L791.3 1264.4 L791.3 1263.2 L791.3 1262.0 L791.4 1260.8 L791.4 1259.6 L791.4 1258.4 L791.5 1257.2 L791.5 1256.0 L791.5 1254.8 L791.6 1253.6 L791.6 1252.4 L791.6 1251.2 L791.7 1250.0 L791.7 1248.8 L791.7 1247.6 L791.8 1246.3 L791.8 1245.2 L791.8 1244.0 L791.9 1242.8 L791.9 1241.6 L791.9 1240.3 L792.0 1239.2 L792.0 1238.0 L792.0 1236.8 L792.0 1235.7 L792.1 1234.4 L792.1 1233.3 L792.1 1231.9 L792.2 1230.8 L792.2 1229.5 L792.2 1228.4 L792.3 1227.2 L792.3 1225.9 L792.3 1224.8 L792.4 1223.6 L792.4 1222.4 L792.4 1221.2 L792.5 1220.0 L792.5 1218.8 L792.5 1217.6 L792.5 1216.4 L792.5 1215.1 L792.5 1213.9 L792.5 1212.7 L792.5 1211.5 L792.5 1210.3 L792.5 1209.1 L792.5 1207.9 L792.5 1206.7 L792.5 1205.5 L792.5 1204.2 L792.5 1203.0 L792.5 1201.8 L792.5 1200.6 L792.5 1199.4 L792.5 1198.2 L792.5 1197.0 L792.5 1195.8 L792.5 1194.5 L792.5 1193.3 L792.5 1192.1 L792.5 1190.9 L792.5 1189.7 L792.5 1188.5 L792.5 1187.3 L792.5 1186.1 L792.5 1184.8 L792.5 1183.6 L792.5 1182.4 L792.5 1181.2 L792.5 1180.0 L792.5 1178.8 L792.5 1177.6 L792.6 1176.4 L792.6 1175.2 L792.6 1174.0 L792.6 1172.8 L792.6 1171.6 L792.7 1170.4 L792.7 1169.2 L792.7 1168.0 L792.7 1166.8 L792.7 1165.6 L792.7 1164.4 L792.8 1163.2 L792.8 1162.0 L792.8 1160.8 L792.8 1159.6 L792.8 1158.4 L792.8 1157.2 L792.9 1156.0 L792.9 1154.8 L792.9 1153.6 L792.9 1152.4 L792.9 1151.2 L793.0 1150.0 L793.0 1148.8 L793.0 1147.6 L793.0 1146.4 L793.0 1145.2 L793.0 1144.0 L793.1 1142.8 L793.1 1141.6 L793.1 1140.4 L793.1 1139.2 L793.1 1138.0 L793.2 1136.8 L793.2 1135.6 L793.2 1134.4 L793.2 1133.2 L793.2 1132.0 L793.2 1130.8 L793.3 1129.6 L793.3 1128.4 L793.3 1127.2 L793.3 1126.0 L793.3 1124.8 L793.3 1123.6 L793.4 1122.4 L793.4 1121.2 L793.4 1120.0 L793.4 1118.8 L793.5 1117.6 L793.5 1116.3 L793.5 1115.1 L793.6 1113.9 L793.6 1112.6 L793.6 1111.4 L793.6 1110.2 L793.7 1108.9 L793.7 1107.7 L793.7 1106.5 L793.8 1105.2 L793.8 1104.0 L793.8 1102.7 L793.9 1101.5 L793.9 1100.4 L793.9 1099.0 L794.0 1097.9 L794.0 1096.6 L794.0 1095.4 L794.0 1094.2 L794.1 1092.9 L794.1 1091.7 L794.1 1090.4 L794.2 1089.3 L794.2 1088.0 L794.2 1086.7 L794.3 1085.5 L794.3 1084.4 L794.3 1083.1 L794.4 1081.8 L794.4 1080.7 L794.5 1079.4 L794.5 1078.2 L794.5 1076.9 L794.6 1075.7 L794.6 1074.5 L794.6 1075.8 L794.7 1076.9 L794.7 1078.1 L794.8 1079.4 L794.8 1080.6 L794.9 1081.8 L794.9 1083.2 L795.0 1084.2 L795.0 1085.5 L795.1 1086.8 L795.1 1088.0 L795.1 1089.3 L795.2 1090.5 L795.2 1091.7 L795.2 1092.9 L795.3 1094.2 L795.3 1095.4 L795.3 1096.6 L795.3 1097.8 L795.4 1099.0 L795.4 1100.3 L795.4 1101.6 L795.5 1102.8 L795.5 1104.0 L795.5 1105.2 L795.6 1106.5 L795.6 1107.7 L795.6 1108.9 L795.7 1110.2 L795.7 1111.4 L795.7 1112.6 L795.7 1113.9 L795.8 1115.1 L795.8 1116.3 L795.8 1117.6 L795.9 1118.8 L795.9 1120.0 L795.9 1121.2 L795.9 1122.4 L796.0 1123.6 L796.0 1124.8 L796.0 1126.0 L796.0 1127.2 L796.1 1128.4 L796.1 1129.6 L796.1 1130.8 L796.1 1132.0 L796.1 1133.2 L796.2 1134.4 L796.2 1135.6 L796.2 1136.8 L796.2 1138.0 L796.3 1139.2 L796.3 1140.4 L796.3 1141.6 L796.3 1142.8 L796.3 1144.0 L796.4 1145.2 L796.4 1146.4 L796.4 1147.6 L796.4 1148.8 L796.5 1150.0 L796.5 1151.2 L796.5 1152.4 L796.5 1153.6 L796.5 1154.8 L796.6 1156.0 L796.6 1157.2 L796.6 1158.4 L796.6 1159.6 L796.6 1160.8 L796.7 1162.0 L796.7 1163.2 L796.7 1164.4 L796.7 1165.6 L796.8 1166.8 L796.8 1168.0 L796.8 1169.2 L796.8 1170.4 L796.8 1171.6 L796.9 1172.8 L796.9 1174.0 L796.9 1175.2 L796.9 1176.4 L797.0 1177.6 L797.0 1178.8 L797.0 1180.0 L797.0 1181.2 L797.0 1182.4 L797.0 1183.6 L797.0 1184.8 L797.0 1186.1 L797.0 1187.3 L797.0 1188.5 L797.0 1189.7 L797.0 1190.9 L797.0 1192.1 L797.0 1193.3 L797.0 1194.5 L797.0 1195.8 L797.0 1197.0 L797.0 1198.2 L797.0 1199.4 L797.0 1200.6 L797.0 1201.8 L797.0 1203.0 L797.0 1204.2 L797.0 1205.5 L797.0 1206.7 L797.0 1207.9 L797.0 1209.1 L797.0 1210.3 L797.0 1211.5 L797.0 1212.7 L797.0 1213.9 L797.0 1215.2 L797.0 1216.4 L797.0 1217.6 L797.0 1218.8 L797.0 1220.0 L797.1 1221.2 L797.1 1222.4 L797.1 1223.6 L797.1 1224.8 L797.1 1226.0 L797.1 1227.2 L797.1 1228.4 L797.2 1229.6 L797.2 1230.8 L797.2 1232.0 L797.2 1233.2 L797.2 1234.4 L797.2 1235.6 L797.2 1236.8 L797.3 1238.0 L797.3 1239.2 L797.3 1240.4 L797.3 1241.6 L797.3 1242.8 L797.3 1244.0 L797.3 1245.2 L797.3 1246.4 L797.4 1247.6 L797.4 1248.8 L797.4 1250.0 L797.4 1251.2 L797.4 1252.4 L797.4 1253.6 L797.4 1254.8 L797.5 1256.0 L797.5 1257.2 L797.5 1258.4 L797.5 1259.6 L797.5 1260.8 L797.5 1262.0 L797.5 1263.2 L797.5 1264.4 L797.6 1265.6 L797.6 1266.8 L797.6 1268.0 L797.6 1269.2 L797.6 1270.4 L797.6 1271.6 L797.6 1272.8 L797.7 1274.0 L797.7 1275.2 L797.7 1276.4 L797.7 1277.6 L797.7 1278.8 L797.7 1280.0 L797.7 1281.2 L797.7 1282.4 L797.8 1283.6 L797.8 1284.8 L797.8 1286.0 L797.8 1287.2 L797.8 1288.4 L797.8 1289.6 L797.9 1290.8 L797.9 1292.0 L797.9 1293.2 L797.9 1294.4 L798.0 1295.6 L798.0 1296.8 L798.0 1298.0 L798.0 1299.2 L798.1 1300.4 L798.1 1301.6 L798.1 1302.8 L798.1 1304.0 L798.2 1305.2 L798.2 1306.4 L798.2 1307.6 L798.2 1308.8 L798.2 1310.0 L798.3 1311.2 L798.3 1312.4 L798.3 1313.6 L798.3 1314.8 L798.4 1316.0 L798.4 1317.2 L798.4 1318.4 L798.4 1319.6 L798.5 1320.8 L798.5 1322.0 L798.5 1323.2 L798.5 1324.4 L798.6 1325.6 L798.6 1326.8 L798.6 1328.0 L798.6 1329.2 L798.7 1330.4 L798.7 1331.6 L798.7 1332.8 L798.7 1334.0 L798.8 1335.2 L798.8 1336.4 L798.8 1337.6 L798.8 1338.8 L798.8 1340.0 L798.9 1341.2 L798.9 1342.4 L798.9 1343.6 L798.9 1344.8 L799.0 1346.0 L799.0 1347.2 L799.0 1348.4 L799.0 1349.6 L799.1 1350.8 L799.1 1352.0 L799.1 1353.2 L799.1 1354.4 L799.2 1355.6 L799.2 1356.8 L799.2 1358.1 L799.3 1359.2 L799.3 1360.4 L799.4 1361.7 L799.4 1362.9 L799.5 1364.1 L799.5 1365.2 L799.6 1366.5 L799.6 1367.8 L799.7 1368.9 L799.7 1370.1 L799.8 1371.3 L799.8 1372.6 L799.9 1373.8 L799.9 1374.9 L800.0 1376.2 L800.0 1377.5 L800.1 1378.6 L800.1 1379.9 L800.2 1381.0 L800.2 1382.2 L800.3 1383.5 L800.3 1384.6 L800.4 1385.9 L800.4 1387.1 L800.5 1388.2 L800.5 1389.5 L800.6 1390.8 L800.6 1391.9 L800.7 1393.1 L800.7 1394.4 L800.8 1395.6 L801.9 1396.3 L803.1 1397.3 L804.2 1398.3 L805.4 1399.0 L806.3 1398.5 L807.1 1396.6 L808.0 1395.5 L808.9 1395.6 L809.8 1394.3 L810.6 1393.3 L810.8 1391.9 L811.0 1391.0 L811.2 1389.8 L811.3 1388.4 L811.5 1387.4 L811.7 1386.1 L811.9 1384.8 L812.0 1383.3 L812.2 1382.0 L812.4 1381.1 L812.6 1379.9 L812.7 1378.5 L812.9 1377.3 L813.4 1376.0 L814.0 1374.9 L814.5 1373.3 L815.0 1372.3 L815.3 1373.7 L815.6 1374.8 L815.9 1375.9 L816.2 1376.9 L816.5 1378.4 L816.8 1379.6 L817.0 1380.7 L817.2 1382.2 L817.5 1383.0 L817.7 1384.4 L817.9 1385.5 L818.2 1386.8 L818.4 1388.2 L818.6 1389.1 L818.8 1390.2 L819.1 1391.7 L819.3 1392.8 L819.5 1394.2 L819.8 1395.2 L820.0 1396.4 L820.2 1397.8 L821.3 1397.1 L822.4 1397.1 L823.5 1396.2 L824.6 1394.8 L825.6 1393.9 L826.7 1393.3 L827.4 1391.7 L828.0 1391.0 L828.7 1390.0 L829.3 1389.8 L830.0 1387.7 L830.6 1387.8 L831.3 1386.2 L831.9 1385.1 L832.5 1384.2 L833.3 1382.7 L834.1 1382.5 L834.9 1380.3 L835.7 1379.7 L836.5 1378.5 L837.3 1377.3 L837.5 1375.8 L837.8 1374.6 L838.0 1373.9 L838.3 1372.5 L838.5 1371.1 L838.8 1370.0 L839.1 1368.2 L839.3 1367.3 L839.6 1365.9 L840.2 1364.8 L840.8 1362.9 L841.4 1361.8 L841.6 1363.0 L841.9 1364.6 L842.1 1365.4 L842.3 1366.9 L842.5 1367.8 L842.8 1369.3 L843.0 1370.5 L843.1 1371.6 L843.2 1373.0 L843.3 1374.2 L843.4 1375.6 L843.5 1376.8 L843.7 1378.0 L843.8 1379.3 L843.9 1380.5 L844.0 1381.9 L844.1 1382.9 L844.2 1384.3 L844.3 1385.6 L844.5 1386.7 L844.6 1387.9 L844.7 1389.2 L844.8 1390.6 L844.9 1391.7 L845.0 1393.1 L845.1 1394.3 L845.3 1395.6 L845.7 1397.2 L846.1 1398.2 L846.6 1399.2 L847.0 1400.0 L847.4 1400.8 L847.9 1402.5 L848.3 1403.8 L848.7 1404.7 L849.6 1404.4 L850.5 1402.4 L851.5 1401.4 L852.4 1401.8 L853.3 1400.1 L853.9 1401.6 L854.6 1402.4 L855.2 1403.8 L855.9 1404.2 L856.5 1405.9 L857.1 1407.0 L858.2 1407.9 L859.3 1408.3 L860.4 1408.1 L861.5 1408.6 L862.5 1410.1 L863.6 1411.2 L864.7 1411.1 L866.0 1410.1 L867.4 1409.7 L868.7 1409.8 L870.1 1411.3 L871.4 1410.3 L872.8 1410.4 L874.1 1410.4 L875.0 1410.2 L875.8 1408.7 L876.7 1407.2 L877.6 1406.9 L878.4 1404.9 L879.3 1404.7 L879.7 1403.3 L880.1 1402.6 L880.5 1400.9 L880.9 1399.6 L881.4 1399.0 L881.8 1397.8 L882.9 1398.3 L884.1 1400.2 L885.2 1400.1 L886.3 1398.8 L887.4 1399.6 L888.6 1398.2 L889.7 1398.4 L890.8 1397.2 L891.9 1396.7 L892.2 1395.6 L892.5 1394.1 L892.7 1392.8 L893.0 1391.8 L893.2 1390.8 L893.5 1389.3 L893.7 1388.0 L894.0 1386.9 L894.2 1385.4 L894.5 1384.4 L894.7 1383.3 L895.0 1382.1 L895.3 1380.9 L895.5 1379.6 L895.6 1378.4 L895.6 1377.1 L895.7 1375.9 L895.8 1374.8 L895.8 1373.5 L895.9 1372.4 L895.9 1371.1 L896.0 1370.1 L896.1 1368.8 L896.1 1367.6 L896.2 1366.5 L896.2 1365.2 L896.3 1364.0 L896.4 1362.8 L896.4 1361.5 L896.5 1360.5 L896.5 1359.2 L896.6 1357.9 L896.7 1356.9 L896.7 1355.6 L896.8 1354.4 L896.8 1353.2 L896.9 1351.9 L897.0 1350.9 L897.0 1349.5 L897.1 1348.4 L897.1 1347.3 L897.2 1345.9 L897.3 1344.8 L897.3 1343.6 L897.4 1342.3 L897.4 1341.3 L897.5 1340.0 L897.6 1338.7 L897.6 1337.6 L897.7 1336.3 L897.7 1335.2 L897.8 1334.0 L897.9 1332.9 L898.0 1331.7 L898.1 1330.3 L898.2 1329.3 L898.3 1327.9 L898.4 1326.8 L898.5 1325.5 L898.6 1324.3 L898.7 1323.1 L898.7 1322.0 L898.8 1320.7 L898.9 1319.8 L899.0 1318.2 L899.1 1317.4 L899.2 1315.9 L899.3 1314.7 L899.4 1313.7 L899.5 1312.4 L899.6 1311.2 L899.9 1310.0 L900.2 1308.4 L900.4 1307.0 L900.7 1305.5 L901.0 1306.4 L901.4 1308.2 L901.7 1309.4 L902.1 1311.0 L902.4 1311.5 L902.8 1312.8 L903.1 1314.6 L903.5 1315.8 L903.8 1317.3 L904.1 1318.2 L904.4 1319.7 L904.7 1320.8 L905.0 1321.9 L905.3 1323.2 L905.6 1324.5 L905.9 1325.3 L906.2 1326.8 L906.5 1328.4 L906.8 1329.4 L907.0 1330.6 L907.1 1331.9 L907.3 1333.1 L907.4 1334.3 L907.6 1335.7 L907.8 1337.0 L907.9 1338.4 L908.1 1339.4 L908.2 1340.5 L908.4 1341.8 L908.5 1342.9 L908.7 1344.2 L908.8 1345.6 L909.0 1346.9 L909.1 1348.0 L909.3 1349.2 L909.5 1350.4 L909.6 1351.7 L909.8 1353.1 L909.9 1354.2 L910.1 1355.7 L910.2 1356.8 L910.3 1358.0 L910.4 1359.2 L910.5 1360.4 L910.6 1361.6 L910.6 1363.0 L910.7 1364.2 L910.8 1365.3 L910.9 1366.6 L911.0 1367.7 L911.0 1368.9 L911.1 1370.2 L911.2 1371.4 L911.3 1372.7 L911.4 1373.9 L911.5 1375.2 L911.5 1376.2 L911.6 1377.6 L911.7 1378.8 L911.8 1380.0 L911.9 1381.2 L911.9 1382.4 L912.0 1383.6 L912.1 1384.9 L912.2 1386.2 L912.3 1387.4 L912.3 1388.7 L912.4 1389.7 L912.5 1391.0 L913.0 1392.6 L913.4 1393.6 L913.9 1394.6 L914.4 1396.1 L914.8 1396.3 L915.3 1398.1 L915.7 1399.4 L916.2 1399.7 L916.7 1401.4 L917.1 1402.4 L917.7 1401.8 L918.2 1399.9 L918.8 1399.4 L919.3 1398.3 L919.9 1396.6 L920.4 1395.1 L920.9 1394.1 L921.5 1393.3 L922.7 1392.7 L924.0 1391.0 L924.4 1392.1 L924.9 1393.1 L925.3 1394.4 L925.8 1396.0 L926.2 1396.4 L926.7 1397.3 L927.2 1399.5 L927.6 1400.1 L928.7 1400.7 L929.8 1401.7 L930.9 1403.7 L932.0 1403.4 L933.1 1404.7 L933.8 1403.0 L934.5 1402.9 L935.2 1400.9 L935.9 1399.7 L936.6 1399.6 L937.3 1397.5 L938.0 1397.2 L938.7 1395.6 L939.1 1394.2 L939.5 1393.1 L939.9 1391.8 L940.4 1391.0 L940.8 1389.9 L941.2 1388.6 L941.6 1387.6 L942.0 1386.4 L943.0 1385.0 L944.0 1384.2 L944.4 1385.8 L944.8 1387.2 L945.2 1388.3 L945.6 1389.7 L946.0 1390.3 L946.5 1391.7 L946.9 1393.3 L947.6 1394.0 L948.3 1395.1 L949.1 1397.3 L949.8 1398.4 L950.6 1399.5 L951.3 1400.1 L952.3 1399.5 L953.2 1397.9 L954.2 1397.7 L955.1 1396.3 L956.1 1397.0 L957.0 1395.6 L958.2 1395.9 L959.4 1396.7 L960.6 1397.8 L961.0 1399.5 L961.4 1400.1 L961.8 1402.0 L962.1 1402.7 L962.5 1404.3 L962.9 1405.1 L963.3 1407.1 L963.7 1407.9 L964.0 1409.2 L965.4 1409.5 L966.8 1410.7 L968.2 1411.1 L969.6 1411.5 L969.9 1410.1 L970.3 1408.9 L970.7 1408.2 L971.1 1406.5 L971.5 1406.2 L971.8 1404.5 L972.2 1403.2 L972.6 1402.2 L973.0 1400.9 L973.4 1399.9 L973.7 1399.0 L974.1 1397.8 L974.4 1396.5 L974.7 1395.2 L975.0 1394.0 L975.2 1392.9 L975.5 1391.9 L975.8 1390.4 L976.1 1389.4 L976.4 1387.9 L976.6 1386.4 L976.9 1385.2 L977.2 1384.5 L977.5 1383.0 L978.6 1381.8 L979.8 1380.7 L980.2 1382.0 L980.6 1383.4 L981.0 1385.0 L981.3 1385.9 L981.7 1387.3 L982.1 1388.7 L982.3 1389.8 L982.6 1390.8 L982.8 1392.4 L983.1 1393.6 L983.3 1394.8 L983.5 1396.0 L983.8 1397.2 L984.0 1398.6 L984.2 1399.5 L984.5 1401.2 L984.7 1401.8 L985.0 1403.6 L985.2 1404.3 L985.4 1405.9 L985.7 1407.0 L986.9 1406.8 L988.2 1406.7 L989.4 1408.0 L990.7 1409.0 L991.9 1409.3 L993.1 1409.7 L994.4 1409.2 L995.6 1410.7 L996.7 1409.4 L997.9 1410.5 L999.1 1410.5 L1000.2 1412.3 L1001.4 1412.2 L1002.6 1413.3 L1003.8 1413.3 L1005.0 1414.1 L1006.3 1414.5 L1007.6 1413.8 L1008.8 1414.2 L1010.1 1413.5 L1011.4 1412.3 L1012.6 1414.3 L1013.9 1412.4 L1015.2 1413.3 L1016.3 1412.0 L1017.4 1413.0 L1018.6 1411.4 L1019.7 1411.6 L1020.9 1409.9 L1022.0 1409.7 L1023.1 1410.2 L1024.3 1409.2 L1025.4 1408.8 L1026.6 1410.2 L1027.7 1411.6 L1028.8 1410.6 L1030.0 1412.1 L1031.1 1412.7 L1032.3 1412.7 L1033.6 1412.7 L1034.9 1412.7 L1036.2 1412.3 L1037.6 1410.5 L1038.9 1410.7 L1040.2 1411.1 L1041.5 1411.2 L1042.8 1412.3 L1044.1 1410.6 L1045.4 1411.5 L1046.8 1410.5 L1048.1 1412.3 L1049.4 1411.5 L1050.3 1410.6 L1051.3 1409.9 L1052.3 1409.4 L1053.3 1407.6 L1054.2 1407.8 L1055.2 1407.1 L1056.2 1405.8 L1057.1 1407.2 L1057.9 1407.2 L1058.8 1408.0 L1059.6 1408.7 L1060.5 1410.7 L1061.3 1410.8 L1062.2 1411.6 L1063.0 1412.7 L1064.3 1412.5 L1065.5 1412.7 L1066.8 1411.7 L1068.0 1411.5 L1069.3 1412.3 L1070.5 1411.5 L1071.2 1410.7 L1071.8 1409.0 L1072.4 1407.6 L1073.0 1407.5 L1073.6 1406.1 L1074.3 1404.8 L1074.9 1403.4 L1075.5 1402.4 L1075.8 1401.5 L1076.2 1399.7 L1076.5 1398.3 L1076.8 1396.9 L1077.2 1395.8 L1077.5 1394.7 L1077.9 1393.3 L1078.6 1394.2 L1079.4 1396.2 L1080.1 1396.9 L1080.9 1397.8 L1081.7 1399.2 L1082.4 1400.1 L1083.1 1399.2 L1083.8 1398.3 L1084.6 1397.1 L1085.3 1396.1 L1086.0 1395.0 L1086.7 1394.5 L1087.4 1392.6 L1088.1 1392.4 L1088.8 1391.0 L1090.1 1390.0 L1091.5 1390.5 L1092.8 1388.4 L1094.1 1388.7 L1095.4 1388.1 L1096.8 1387.5 L1098.2 1387.4 L1099.5 1386.4 L1100.1 1387.2 L1100.7 1388.4 L1101.2 1389.4 L1101.8 1391.1 L1102.4 1392.2 L1102.9 1392.7 L1103.5 1394.0 L1104.1 1395.6 L1104.5 1394.1 L1104.8 1393.5 L1105.2 1391.9 L1105.6 1390.8 L1106.0 1389.3 L1106.3 1388.4 L1106.7 1387.3 L1107.1 1386.0 L1107.5 1384.2 L1107.9 1383.3 L1108.2 1382.2 L1108.6 1380.5 L1109.0 1380.0 L1109.4 1378.4 L1109.7 1377.3 L1110.3 1375.8 L1110.9 1375.0 L1111.5 1373.7 L1112.1 1372.3 L1112.6 1373.6 L1113.2 1375.2 L1113.8 1376.1 L1114.3 1377.3 L1114.6 1378.4 L1114.8 1379.5 L1115.0 1381.0 L1115.3 1382.1 L1115.5 1383.4 L1115.7 1384.5 L1115.9 1385.5 L1116.2 1386.7 L1116.4 1388.0 L1116.6 1389.2 L1116.9 1390.9 L1117.1 1392.0 L1117.3 1393.0 L1117.5 1394.5 L1117.8 1395.6 L1118.6 1396.9 L1119.5 1397.2 L1120.4 1399.3 L1121.3 1400.1 L1121.7 1401.1 L1122.0 1403.1 L1122.4 1403.6 L1122.8 1405.0 L1123.2 1406.2 L1123.6 1408.1 L1124.0 1409.3 L1124.4 1410.3 L1124.8 1411.5 L1126.2 1411.0 L1127.6 1411.9 L1128.9 1412.8 L1130.3 1412.7 L1130.9 1411.0 L1131.6 1410.9 L1132.2 1409.7 L1132.8 1408.6 L1133.5 1407.2 L1134.1 1406.0 L1134.7 1405.3 L1135.4 1403.2 L1136.0 1402.4 L1136.2 1401.1 L1136.4 1399.7 L1136.6 1398.6 L1136.8 1397.7 L1137.0 1396.1 L1137.2 1395.2 L1137.4 1393.8 L1137.6 1392.9 L1137.8 1391.6 L1138.0 1390.3 L1138.2 1389.2 L1138.4 1387.5 L1138.6 1386.5 L1138.8 1385.3 L1139.0 1384.2 L1139.5 1382.9 L1140.0 1382.1 L1140.5 1381.2 L1141.0 1379.6 L1141.5 1381.0 L1141.9 1382.3 L1142.4 1383.2 L1142.8 1384.2 L1143.0 1385.3 L1143.2 1386.6 L1143.4 1387.9 L1143.6 1389.2 L1143.8 1390.1 L1144.0 1391.3 L1144.2 1392.7 L1144.5 1393.7 L1144.7 1395.3 L1144.9 1395.9 L1145.1 1397.5 L1145.3 1398.6 L1145.5 1399.7 L1145.7 1401.1 L1145.9 1402.2 L1146.1 1403.8 L1146.3 1404.7 L1147.1 1406.2 L1148.0 1406.7 L1148.9 1408.1 L1149.7 1409.1 L1150.6 1408.9 L1151.4 1410.4 L1152.7 1411.4 L1153.9 1411.8 L1155.1 1412.5 L1156.3 1412.4 L1157.6 1412.1 L1158.8 1412.7 L1160.0 1411.5 L1161.2 1411.8 L1162.4 1410.4 L1163.6 1410.9 L1164.8 1410.0 L1166.0 1409.2 L1167.1 1409.3 L1168.2 1407.8 L1169.2 1407.2 L1170.3 1407.7 L1171.4 1406.7 L1172.5 1405.8 L1173.6 1406.3 L1174.7 1407.3 L1175.8 1407.8 L1176.9 1408.8 L1178.0 1409.2 L1179.3 1409.5 L1180.6 1409.2 L1181.9 1410.9 L1183.2 1410.9 L1184.5 1410.8 L1185.8 1410.0 L1187.1 1410.0 L1188.3 1411.4 L1189.6 1411.1 L1190.9 1411.7 L1192.2 1411.2 L1193.5 1410.1 L1194.8 1411.2 L1196.1 1410.6 L1197.3 1410.2 L1198.6 1410.4 L1198.8 1409.2 L1198.9 1407.9 L1199.1 1406.8 L1199.2 1405.7 L1199.4 1404.6 L1199.5 1402.9 L1199.7 1401.9 L1199.9 1400.9 L1200.0 1399.6 L1200.2 1398.3 L1200.3 1397.2 L1200.5 1395.6 L1200.6 1394.8 L1200.8 1393.5 L1200.9 1392.3 L1201.1 1391.0 L1201.3 1389.6 L1201.6 1388.5 L1201.9 1386.9 L1202.2 1385.9 L1202.4 1384.4 L1202.7 1383.6 L1203.0 1382.2 L1203.2 1380.7 L1204.9 1379.6 L1205.1 1380.8 L1205.2 1382.2 L1205.4 1383.3 L1205.6 1384.6 L1205.7 1385.6 L1205.9 1387.2 L1206.1 1388.4 L1206.2 1389.7 L1206.4 1390.6 L1206.6 1392.2 L1206.7 1393.3 L1207.0 1394.2 L1207.2 1395.8 L1207.5 1397.0 L1207.8 1397.9 L1208.0 1399.4 L1208.3 1401.0 L1208.5 1402.1 L1208.8 1403.1 L1209.0 1404.7 L1209.3 1405.6 L1209.6 1407.0 L1210.6 1408.4 L1211.7 1408.3 L1212.7 1408.5 L1213.8 1410.8 L1214.8 1410.0 L1215.9 1411.5 L1216.8 1410.3 L1217.7 1410.5 L1218.7 1408.6 L1219.6 1408.6 L1220.5 1408.3 L1221.5 1407.0 L1221.8 1405.8 L1222.1 1404.3 L1222.4 1403.4 L1222.7 1402.2 L1223.0 1400.8 L1223.3 1399.6 L1223.6 1398.1 L1224.0 1396.9 L1224.3 1396.2 L1224.6 1394.9 L1224.9 1393.3 L1226.1 1391.5 L1227.3 1391.5 L1227.6 1392.4 L1227.9 1393.7 L1228.3 1395.4 L1228.6 1396.2 L1229.0 1397.4 L1229.3 1399.1 L1229.6 1400.1 L1230.2 1400.9 L1230.8 1403.0 L1231.4 1403.5 L1232.0 1405.2 L1232.6 1406.2 L1233.2 1407.0 L1234.3 1407.4 L1235.4 1409.3 L1236.5 1409.6 L1237.6 1410.1 L1238.7 1411.5 L1239.0 1409.9 L1239.3 1409.2 L1239.6 1407.8 L1239.9 1406.4 L1240.2 1405.6 L1240.5 1403.8 L1240.9 1402.8 L1241.2 1401.2 L1241.5 1400.2 L1241.8 1399.4 L1242.1 1397.8 L1242.4 1396.6 L1242.6 1395.0 L1242.9 1393.8 L1243.2 1392.8 L1243.5 1391.3 L1243.7 1390.4 L1244.0 1388.5 L1244.3 1387.6 L1246.2 1386.4 L1246.4 1388.0 L1246.7 1389.1 L1246.9 1390.6 L1247.1 1391.6 L1247.4 1392.7 L1247.6 1394.0 L1247.9 1395.6 L1248.8 1396.9 L1249.6 1397.1 L1250.5 1398.4 L1251.4 1400.1 L1252.0 1401.6 L1252.5 1402.9 L1253.1 1404.0 L1253.7 1405.1 L1254.3 1405.9 L1254.9 1407.0 L1256.0 1408.5 L1257.0 1409.1 L1258.1 1409.8 L1259.2 1410.5 L1260.3 1411.5 L1261.6 1410.1 L1262.8 1409.9 L1264.1 1409.9 L1265.3 1409.9 L1266.6 1408.8 L1267.8 1409.2 L1268.4 1408.7 L1269.0 1407.1 L1269.6 1406.1 L1270.2 1405.2 L1270.8 1403.2 L1271.4 1402.4 L1272.7 1402.6 L1274.0 1401.3 L1274.6 1402.9 L1275.1 1403.3 L1275.7 1404.2 L1276.3 1406.2 L1276.8 1407.4 L1277.4 1408.5 L1278.0 1409.1 L1278.6 1410.4 L1279.7 1410.2 L1280.8 1408.8 L1282.0 1408.7 L1283.1 1408.7 L1284.3 1409.0 L1285.4 1408.1 L1286.7 1407.3 L1288.0 1409.4 L1289.3 1407.5 L1290.5 1409.8 L1291.8 1408.3 L1293.1 1409.8 L1294.4 1409.2 L1295.5 1410.3 L1296.7 1410.9 L1297.8 1410.3 L1299.0 1411.2 L1300.1 1410.7 L1301.2 1411.5 L1302.6 1412.4 L1303.9 1411.0 L1305.2 1412.9 L1306.5 1412.4 L1307.8 1411.3 L1309.2 1413.5 L1310.5 1412.7 L1311.8 1412.0 L1313.1 1411.2 L1314.4 1411.4 L1315.8 1410.7 L1317.1 1411.0 L1318.4 1411.8 L1319.7 1411.1 L1320.9 1411.7 L1322.1 1410.6 L1323.3 1410.7 L1324.5 1410.2 L1325.6 1409.7 L1326.8 1408.6 L1328.0 1408.0 L1329.2 1408.1 L1330.0 1406.6 L1330.8 1406.3 L1331.6 1404.8 L1332.4 1404.7 L1333.2 1403.1 L1334.0 1402.4 L1335.0 1401.8 L1335.9 1401.0 L1336.9 1400.3 L1337.9 1398.8 L1338.8 1398.2 L1339.8 1397.8 L1340.5 1396.9 L1341.1 1395.2 L1341.8 1394.6 L1342.5 1393.9 L1343.1 1392.0 L1343.8 1391.6 L1344.5 1389.9 L1345.2 1388.9 L1345.9 1388.2 L1346.6 1386.5 L1347.4 1385.6 L1348.1 1384.4 L1348.8 1383.0 L1350.2 1381.8 L1351.5 1381.9 L1351.7 1383.1 L1351.8 1384.4 L1352.0 1385.5 L1352.2 1386.8 L1352.3 1388.2 L1352.5 1389.3 L1352.6 1390.5 L1352.8 1391.4 L1352.9 1392.9 L1353.1 1394.1 L1353.3 1395.5 L1353.4 1396.2 L1353.6 1397.5 L1353.7 1399.1 L1353.9 1400.1 L1355.2 1400.3 L1356.6 1401.5 L1357.9 1401.7 L1359.3 1401.7 L1360.6 1402.4 L1361.8 1401.9 L1363.1 1401.8 L1364.3 1402.3 L1365.5 1400.9 L1366.7 1401.1 L1367.9 1400.1 L1368.8 1399.0 L1369.7 1399.0 L1370.7 1398.0 L1371.6 1397.5 L1372.5 1397.0 L1373.4 1395.6 L1374.8 1394.5 L1376.1 1396.5 L1377.4 1395.5 L1378.7 1394.6 L1380.0 1395.1 L1380.7 1396.3 L1381.3 1397.0 L1381.9 1398.4 L1382.6 1400.4 L1383.2 1401.4 L1383.8 1402.4 L1385.0 1403.8 L1386.2 1403.1 L1387.4 1403.7 L1388.5 1404.9 L1389.7 1405.8 L1390.8 1406.7 L1391.8 1407.9 L1392.8 1408.1 L1393.9 1409.7 L1394.9 1410.3 L1396.0 1411.1 L1396.9 1409.9 L1397.8 1409.9 L1398.7 1407.9 L1399.6 1407.9 L1400.5 1407.0 L1401.5 1407.4 L1402.4 1408.1 L1403.3 1409.7 L1404.2 1410.6 L1405.1 1411.5 L1406.4 1411.7 L1407.6 1411.0 L1408.9 1412.2 L1410.2 1411.1 L1411.0 1410.6 L1411.9 1408.7 L1412.7 1407.6 L1413.6 1408.1 L1414.4 1406.4 L1415.3 1405.0 L1416.1 1404.7 L1417.0 1403.2 L1418.0 1403.2 L1418.9 1401.4 L1419.8 1400.8 L1420.7 1400.1 L1421.3 1399.2 L1422.0 1397.7 L1422.6 1396.9 L1423.2 1396.1 L1423.8 1394.4 L1424.2 1395.9 L1424.7 1396.8 L1425.2 1398.0 L1425.6 1398.8 L1426.1 1400.3 L1426.5 1401.4 L1427.0 1402.5 L1427.4 1403.5 L1427.9 1404.7 L1429.2 1405.2 L1430.6 1403.8 L1431.9 1404.9 L1433.2 1405.5 L1434.5 1403.2 L1435.9 1404.2 L1436.9 1404.7 L1437.8 1406.8 L1438.8 1406.2 L1439.8 1408.3 L1440.8 1408.8 L1441.7 1408.8 L1442.7 1410.4 L1443.9 1410.3 L1445.0 1408.6 L1446.2 1410.0 L1447.4 1408.5 L1448.5 1409.4 L1449.7 1408.1 L1451.1 1408.8 L1452.5 1406.8 L1453.9 1407.2 L1455.3 1406.4 L1456.7 1407.0 L1457.8 1406.7 L1459.0 1404.7 L1460.1 1403.9 L1461.3 1403.2 L1462.4 1403.8 L1463.5 1402.4 L1465.0 1401.7 L1466.4 1401.7 L1467.8 1401.9 L1469.1 1402.6 L1470.3 1403.6 L1471.6 1404.2 L1472.8 1405.1 L1473.6 1406.8 L1474.4 1406.9 L1475.2 1408.1 L1476.0 1409.6 L1476.7 1409.7 L1477.5 1411.1 L1478.8 1410.7 L1480.0 1412.4 L1481.3 1411.6 L1482.5 1413.2 L1483.8 1412.7 L1484.9 1412.4 L1486.0 1410.7 L1487.2 1409.8 L1488.3 1409.2 L1489.5 1409.4 L1490.6 1411.6 L1491.7 1411.7 L1492.9 1412.7 L1493.8 1411.5 L1494.7 1410.3 L1495.6 1409.5 L1496.5 1409.6 L1497.4 1408.1 L1498.9 1407.6 L1500.3 1408.8 L1501.7 1409.2 L1503.1 1409.2 L1504.3 1408.6 L1505.4 1407.9 L1506.6 1407.0 L1507.7 1405.9 L1508.8 1405.8 L1509.9 1407.0 L1511.0 1407.7 L1512.1 1407.7 L1513.2 1407.6 L1514.3 1409.5 L1515.3 1409.2 L1516.5 1409.2 L1517.7 1409.6 L1518.9 1411.0 L1520.1 1411.9 L1521.3 1411.9 L1522.4 1411.5 L1523.6 1413.8 L1524.8 1413.3 L1525.9 1412.2 L1527.1 1412.0 L1528.2 1412.8 L1529.4 1411.9 L1530.5 1411.4 L1531.6 1410.4 L1533.0 1409.5 L1534.4 1411.5 L1535.7 1410.6 L1537.1 1409.8 L1538.5 1411.1 L1539.8 1411.2 L1541.1 1411.1 L1542.4 1408.9 L1543.7 1409.3 L1545.0 1409.8 L1546.3 1408.2 L1547.6 1408.1 L1548.9 1408.2 L1550.3 1409.6 L1551.6 1409.3 L1553.0 1410.9 L1554.3 1410.4 L1555.7 1411.4 L1557.1 1411.6 L1558.5 1411.5 L1559.9 1410.6 L1561.2 1411.5 L1562.5 1412.0 L1563.9 1411.8 L1565.2 1411.7 L1566.5 1411.9 L1567.8 1411.4 L1569.1 1411.2 L1570.4 1412.0 L1571.6 1412.5 L1572.8 1411.0 L1574.0 1410.1 L1575.2 1411.6 L1576.4 1410.3 L1577.6 1410.3 L1578.8 1409.2 L1580.0 1409.2 L1580.9 1407.7 L1581.7 1407.0 L1582.6 1406.8 L1583.5 1405.0 L1584.3 1405.0 L1585.2 1403.1 L1586.1 1402.4 L1586.7 1401.8 L1587.3 1399.9 L1587.9 1399.1 L1588.5 1397.7 L1589.2 1396.6 L1589.8 1396.0 L1590.7 1396.9 L1591.6 1397.4 L1592.5 1398.5 L1593.4 1398.8 L1594.3 1400.1 L1595.9 1399.7 L1597.4 1399.7 L1598.9 1400.1 L1599.7 1401.7 L1600.5 1401.4 L1601.3 1402.9 L1602.2 1404.6 L1603.0 1405.1 L1603.8 1405.6 L1604.6 1407.0 L1605.9 1407.8 L1607.3 1405.6 L1608.6 1405.5 L1609.9 1405.0 L1611.3 1405.8 L1611.6 1404.5 L1611.9 1403.6 L1612.2 1401.9 L1612.5 1400.7 L1612.8 1399.9 L1613.1 1398.1 L1613.4 1396.8 L1613.7 1396.1 L1614.0 1394.4 L1614.3 1393.5 L1614.6 1392.0 L1614.9 1391.0 L1615.1 1389.8 L1615.3 1388.7 L1615.5 1387.2 L1615.7 1385.9 L1615.9 1384.9 L1616.1 1383.7 L1616.3 1382.0 L1616.5 1380.9 L1616.7 1379.7 L1616.9 1378.6 L1617.1 1377.3 L1617.7 1375.9 L1618.3 1375.0 L1618.6 1376.5 L1618.9 1377.4 L1619.3 1379.3 L1619.6 1380.1 L1619.9 1381.3 L1620.2 1382.5 L1620.6 1384.2 L1620.8 1385.1 L1621.0 1386.4 L1621.2 1388.1 L1621.5 1389.0 L1621.7 1390.3 L1621.9 1391.8 L1622.2 1393.1 L1622.4 1394.2 L1622.6 1395.0 L1622.8 1396.3 L1623.1 1397.7 L1623.3 1398.7 L1623.5 1400.1 L1624.1 1401.1 L1624.7 1402.0 L1625.3 1403.2 L1625.9 1405.0 L1626.5 1405.9 L1627.1 1406.9 L1627.8 1408.1 L1629.0 1408.6 L1630.3 1409.5 L1631.6 1410.2 L1632.9 1409.5 L1634.2 1411.1 L1635.1 1410.5 L1636.1 1408.9 L1637.0 1407.7 L1637.9 1407.6 L1638.8 1405.8 L1639.6 1407.2 L1640.5 1407.7 L1641.3 1408.3 L1642.1 1409.9 L1643.0 1411.1 L1644.2 1411.1 L1645.4 1411.1 L1646.6 1410.6 L1647.8 1411.8 L1649.0 1411.3 L1650.2 1412.0 L1651.4 1411.9 L1652.5 1410.9 L1653.7 1409.9 L1654.9 1410.4 L1656.1 1409.1 L1657.2 1407.8 L1658.4 1408.1 L1659.7 1407.4 L1661.1 1406.7 L1662.4 1407.3 L1663.7 1408.1 L1665.1 1407.0 L1666.1 1408.4 L1667.0 1408.7 L1668.0 1408.5 L1669.0 1409.4 L1670.0 1410.0 L1670.9 1411.0 L1671.9 1412.0 L1673.1 1411.9 L1674.3 1410.3 L1675.5 1411.0 L1676.7 1410.5 L1677.8 1410.7 L1679.0 1410.7 L1680.2 1409.7 L1681.4 1408.7 L1682.6 1408.3 L1683.8 1407.0 L1685.0 1406.5 L1686.2 1405.8 L1687.0 1405.1 L1687.8 1403.3 L1688.6 1403.1 L1689.4 1402.2 L1690.2 1401.3 L1691.4 1401.2 L1692.7 1402.0 L1694.0 1403.7 L1695.3 1403.3 L1696.6 1404.2 L1697.6 1404.4 L1698.6 1405.3 L1699.7 1406.4 L1700.7 1406.9 L1701.8 1407.5 L1702.8 1408.2 L1703.8 1409.2 L1705.0 1408.1 L1706.1 1408.1 L1707.3 1407.7 L1708.4 1406.2 L1709.5 1406.6 L1710.7 1405.8 L1711.8 1406.2 L1712.9 1408.2 L1714.0 1408.9 L1715.0 1408.2 L1716.1 1410.0 L1717.2 1410.4 L1718.6 1410.3 L1720.1 1410.0 L1721.5 1411.9 L1722.9 1412.2 L1724.3 1411.5 L1725.7 1412.4 L1727.0 1412.3 L1728.4 1413.3 L1729.8 1412.6 L1731.2 1412.7 L1732.3 1412.6 L1733.5 1412.2 L1734.6 1412.3 L1735.8 1411.9 L1736.9 1410.4 L1738.0 1410.4 L1739.2 1410.4 L1740.3 1411.7 L1741.5 1412.3 L1742.6 1412.5 L1743.7 1413.3 L1744.9 1413.4 L1746.1 1412.8 L1747.3 1411.9 L1748.5 1411.1 L1749.7 1410.8 L1750.8 1409.2 L1752.0 1409.2 L1753.3 1409.4 L1754.6 1407.6 L1755.9 1408.7 L1757.3 1407.7 L1758.6 1407.0 L1759.7 1407.2 L1760.8 1407.8 L1761.9 1409.2 L1763.0 1409.6 L1764.1 1410.7 L1765.2 1411.1 L1766.5 1410.3 L1767.9 1412.2 L1769.3 1411.4 L1770.6 1411.5 L1772.0 1412.4 L1773.4 1412.0 L1774.5 1411.3 L1775.6 1410.2 L1776.7 1409.1 L1777.7 1408.6 L1778.8 1407.0 L1779.9 1407.0 L1780.5 1405.5 L1781.1 1405.1 L1781.6 1403.1 L1782.2 1401.9 L1782.8 1401.7 L1783.4 1400.1 L1784.6 1398.8 L1785.9 1397.8 L1786.5 1399.0 L1787.1 1400.2 L1787.7 1401.5 L1788.4 1402.4 L1789.0 1403.3 L1789.6 1405.0 L1790.2 1405.2 L1790.9 1407.4 L1791.5 1407.9 L1792.1 1409.4 L1792.8 1410.4 L1794.1 1409.7 L1795.5 1410.5 L1796.9 1409.4 L1798.2 1409.7 L1799.6 1409.2 L1800.7 1409.5 L1801.8 1411.0 L1802.9 1411.5 L1804.0 1410.9 L1805.2 1412.6 L1806.3 1412.7 L1807.6 1413.8 L1809.0 1412.3 L1810.3 1412.3 L1811.7 1414.1 L1813.1 1414.3 L1814.4 1413.3 L1815.6 1412.2 L1816.8 1413.1 L1818.1 1413.0 L1819.3 1411.2 L1820.5 1411.8 L1821.7 1410.4 L1822.9 1410.4 L1823.8 1409.8 L1824.7 1408.3 L1825.7 1407.3 L1826.6 1405.7 L1827.5 1405.5 L1828.5 1404.2 L1829.7 1404.6 L1831.0 1403.5 L1832.3 1402.8 L1833.5 1402.8 L1834.8 1403.1 L1836.1 1403.5 L1837.2 1405.3 L1838.4 1405.7 L1839.5 1406.8 L1840.6 1407.0 L1841.5 1406.6 L1842.4 1404.7 L1843.3 1404.3 L1844.2 1404.4 L1845.1 1403.5 L1845.9 1402.9 L1846.8 1401.3 L1848.2 1401.6 L1849.5 1400.9 L1850.9 1400.1 L1851.9 1401.5 L1852.9 1402.6 L1854.0 1402.7 L1855.0 1403.0 L1856.0 1404.7 L1857.0 1405.0 L1858.1 1405.2 L1859.1 1406.3 L1860.1 1407.6 L1861.2 1408.1 L1862.1 1406.8 L1863.0 1405.9 L1863.9 1404.7 L1864.8 1404.2 L1865.7 1403.5 L1866.9 1404.1 L1868.0 1404.9 L1869.1 1406.1 L1870.3 1405.0 L1871.4 1405.9 L1872.6 1407.0 L1874.0 1405.6 L1875.4 1406.9 L1876.8 1405.9 L1878.3 1405.1 L1879.4 1406.0 L1880.5 1406.9 L1881.7 1405.9 L1882.8 1408.2 L1884.0 1407.7 L1885.1 1408.9 L1886.2 1409.2 L1887.6 1408.8 L1889.0 1409.3 L1890.3 1408.1 L1891.7 1407.8 L1893.1 1408.1 L1894.2 1408.2 L1895.2 1409.7 L1896.3 1409.7 L1897.4 1409.7 L1898.5 1410.7 L1899.6 1411.5 L1900.8 1412.1 L1902.0 1412.2 L1903.3 1413.1 L1904.5 1413.3 L1905.9 1413.7 L1907.3 1412.9 L1908.7 1412.9 L1910.0 1411.5 L1911.4 1411.5 L1912.6 1412.2 L1913.8 1412.1 L1915.0 1411.0 L1916.2 1409.7 L1917.4 1409.6 L1918.6 1410.4 L1919.5 1409.8 L1920.3 1409.0 L1921.1 1407.8 L1922.0 1406.5 L1922.8 1405.6 L1923.6 1403.9 L1924.5 1403.5 L1925.8 1403.2 L1927.1 1403.5 L1928.4 1401.9 L1929.6 1402.4 L1930.7 1404.1 L1931.8 1405.4 L1933.0 1405.8 L1934.5 1405.8 L1936.0 1404.7 L1937.5 1404.7 L1938.3 1405.5 L1939.1 1407.3 L1939.9 1408.7 L1940.7 1409.8 L1941.5 1410.4 L1942.8 1410.6 L1944.0 1411.8 L1945.3 1412.4 L1946.5 1411.9 L1947.8 1412.7 L1948.9 1412.6 L1950.0 1411.3 L1951.1 1410.4 L1952.2 1409.4 L1953.3 1410.2 L1954.4 1409.2 L1954.8 1408.4 L1955.3 1406.5 L1955.8 1405.3 L1956.2 1404.5 L1956.7 1403.2 L1957.1 1402.6 L1957.6 1400.9 L1958.1 1400.1 L1958.3 1398.9 L1958.5 1397.6 L1958.8 1396.2 L1959.0 1395.3 L1959.3 1393.7 L1959.5 1392.5 L1959.8 1391.4 L1960.0 1389.9 L1960.3 1388.7 L1961.1 1387.1 L1961.9 1386.4 L1962.3 1388.2 L1962.7 1389.4 L1963.0 1390.6 L1963.4 1391.9 L1963.7 1393.3 L1963.9 1394.6 L1964.1 1395.6 L1964.3 1396.7 L1964.5 1398.2 L1964.7 1399.6 L1964.9 1400.4 L1965.0 1402.1 L1965.2 1403.0 L1965.4 1404.6 L1965.6 1405.7 L1965.8 1406.7 L1966.0 1407.9 L1966.1 1409.2 L1967.5 1410.3 L1968.8 1410.8 L1970.2 1410.6 L1971.5 1410.3 L1972.9 1410.4 L1974.1 1410.1 L1975.2 1410.2 L1976.4 1409.9 L1977.6 1409.5 L1978.8 1408.0 L1980.0 1408.1 L1981.3 1408.2 L1982.7 1407.9 L1984.1 1406.5 L1985.4 1405.8 L1986.2 1406.0 L1986.9 1407.3 L1987.7 1408.9 L1988.5 1409.5 L1989.2 1411.2 L1990.0 1411.5 L1991.3 1411.8 L1992.7 1411.8 L1994.0 1410.5 L1995.4 1411.3 L1996.7 1411.6 L1998.1 1411.1 L1999.2 1411.4 L2000.3 1410.9 L2001.4 1409.1 L2002.6 1409.1 L2003.7 1409.5 L2004.8 1408.1 L2006.1 1407.3 L2007.4 1407.5 L2008.7 1407.9 L2010.0 1409.3 L2011.3 1408.5 L2012.6 1409.5 L2013.9 1409.2 L2015.2 1410.1 L2016.5 1410.1 L2017.8 1408.4 L2019.1 1409.9 L2020.4 1410.3 L2021.7 1410.1 L2023.0 1409.7 L2024.3 1410.5 L2025.6 1410.3 L2026.9 1409.8 L2028.2 1410.3 L2029.6 1409.5 L2030.9 1408.4 L2032.2 1409.2 L2033.5 1408.8 L2034.8 1410.4 L2036.1 1409.1 L2037.4 1409.4 L2038.7 1410.4 L2040.0 1410.1 L2041.3 1409.7 L2042.6 1410.5 L2043.9 1409.8 L2045.2 1410.0 L2046.5 1409.1 L2047.8 1409.5 L2049.1 1409.5 L2050.4 1410.4 L2051.4 1409.8 L2052.5 1409.1 L2053.5 1407.6 L2054.6 1408.0 L2055.6 1406.4 L2056.6 1406.3 L2057.7 1405.8 L2059.1 1404.2 L2060.4 1404.3 L2061.8 1403.5 L2063.1 1403.0 L2064.5 1405.0 L2065.8 1404.0 L2067.1 1405.3 L2068.4 1404.7 L2069.8 1405.1 L2070.9 1404.4 L2072.1 1405.1 L2073.2 1403.5 L2074.3 1403.6 L2075.5 1403.5 L2076.6 1402.9 L2077.7 1404.4 L2078.8 1404.6 L2079.9 1404.1 L2081.0 1405.5 L2082.1 1407.1 L2083.2 1407.0 L2084.6 1408.0 L2086.0 1407.1 L2087.5 1406.8 L2088.9 1407.4 L2090.3 1408.1 L2091.4 1408.2 L2092.6 1406.5 L2093.7 1407.5 L2094.9 1405.8 L2096.0 1405.8 L2096.9 1406.9 L2097.9 1407.7 L2098.8 1407.7 L2099.8 1408.9 L2100.7 1409.8 L2101.7 1410.4 L2102.6 1409.2 L2103.6 1408.9 L2104.5 1408.3 L2105.5 1408.1 L2106.4 1406.2 L2107.4 1405.8 L2108.5 1405.8 L2109.6 1407.0 L2110.7 1407.7 L2111.7 1408.1 L2112.8 1409.5 L2113.9 1409.2 L2115.1 1409.1 L2116.3 1410.2 L2117.5 1410.5 L2118.7 1410.5 L2119.9 1411.4 L2121.1 1412.0 L2122.2 1411.2 L2123.4 1410.4 L2124.5 1410.5 L2125.6 1410.3 L2126.8 1409.6 L2127.9 1408.1 L2129.1 1407.9 L2130.2 1408.6 L2131.3 1410.2 L2132.5 1408.8 L2133.6 1409.2 L2134.8 1410.4 L2135.8 1408.9 L2136.8 1409.8 L2137.8 1408.3 L2138.8 1407.4 L2139.8 1406.1 L2140.8 1406.8 L2141.8 1406.3 L2142.8 1404.7 L2143.9 1405.8 L2145.0 1406.9 L2146.2 1407.1 L2147.3 1407.4 L2148.5 1407.9 L2149.6 1409.2 L2150.9 1408.6 L2152.2 1408.1 L2153.5 1408.5 L2154.8 1407.6 L2156.1 1407.4 L2157.4 1409.2 L2158.7 1408.1 L2160.0 1408.9 L2161.4 1408.9 L2162.7 1407.7 L2164.0 1408.0 L2165.4 1408.2 L2166.7 1408.1 L2167.8 1409.3 L2168.9 1409.0 L2170.0 1410.1 L2171.1 1410.8 L2172.2 1412.0 L2173.3 1411.7 L2174.4 1412.7 L2175.8 1411.8 L2177.3 1412.9 L2178.7 1414.2 L2180.1 1412.8 L2181.5 1413.8 L2182.8 1413.7 L2184.1 1412.4 L2185.4 1412.3 L2186.7 1412.8 L2188.0 1411.3 L2189.3 1411.7 L2190.6 1411.5 L2192.0 1411.8 L2193.3 1411.4 L2194.7 1412.4 L2196.0 1412.7 L2197.4 1412.0 L2198.8 1411.9 L2200.2 1413.3 L2201.5 1413.6 L2202.9 1413.6 L2204.3 1413.8 L2205.6 1413.6 L2207.0 1413.2 L2208.3 1413.2 L2209.6 1412.7 L2211.0 1411.4 L2212.3 1411.5 L2213.6 1411.9 L2215.0 1412.2 L2216.3 1411.7 L2217.6 1412.7 L2218.9 1411.5 L2220.3 1412.0 L2221.1 1411.1 L2221.9 1410.3 L2222.7 1409.4 L2223.5 1407.8 L2224.3 1407.7 L2225.1 1405.9 L2226.0 1405.6 L2226.8 1404.7 L2227.6 1403.7 L2228.5 1403.2 L2229.3 1402.5 L2230.2 1401.8 L2231.1 1400.1 L2232.5 1399.0 L2234.0 1399.0 L2234.7 1400.7 L2235.5 1401.2 L2236.3 1402.4 L2237.0 1402.9 L2237.8 1404.7 L2239.2 1406.1 L2240.6 1405.7 L2241.9 1407.0 L2242.6 1405.5 L2243.3 1404.4 L2244.0 1403.2 L2244.7 1402.1 L2245.4 1401.0 L2246.1 1400.2 L2246.8 1398.8 L2247.4 1397.8 L2248.2 1397.0 L2248.9 1396.1 L2249.6 1395.0 L2250.4 1393.3 L2250.9 1394.3 L2251.5 1395.8 L2252.0 1397.0 L2252.5 1398.1 L2253.1 1398.9 L2253.6 1400.1 L2254.5 1400.5 L2255.5 1402.4 L2256.4 1403.1 L2257.3 1403.5 L2258.2 1404.7 L2259.0 1405.9 L2259.7 1406.0 L2260.5 1408.0 L2261.3 1409.2 L2262.1 1410.3 L2262.8 1410.0 L2263.6 1411.5 L2265.0 1411.7 L2266.4 1411.7 L2267.7 1410.0 L2269.1 1410.9 L2270.5 1410.4 L2271.8 1409.5 L2273.1 1409.4 L2274.4 1408.8 L2275.7 1409.2 L2277.0 1410.4 L2278.3 1409.6 L2279.6 1409.2 L2280.9 1410.1 L2282.2 1410.6 L2283.5 1408.9 L2284.8 1410.7 L2286.1 1410.9 L2287.4 1410.6 L2288.7 1410.4 L2289.9 1409.4 L2291.2 1408.4 L2292.4 1408.2 L2293.7 1407.4 L2295.0 1407.0 L2295.8 1405.7 L2296.5 1405.4 L2297.3 1404.4 L2298.1 1402.9 L2298.9 1402.4 L2300.1 1402.5 L2301.2 1403.8 L2302.4 1404.8 L2303.5 1405.4 L2304.6 1405.8 L2306.0 1406.2 L2307.4 1406.8 L2308.7 1406.4 L2310.1 1405.7 L2311.5 1405.8 L2312.5 1406.9 L2313.6 1407.5 L2314.6 1407.6 L2315.6 1408.0 L2316.7 1409.2 L2317.8 1409.8 L2319.0 1411.2 L2320.1 1411.5" fill="none" stroke="#515151" stroke-width="10.6" stroke-linejoin="round" stroke-linecap="round"/>
<text x="320.6" y="136.0" font-size="66.7" font-weight="normal" font-family="'Liberation Serif','DejaVu Serif',serif">quartz</text>
<text x="317.3" y="251.7" font-size="66.7" font-weight="normal" font-family="'Liberation Serif','DejaVu Serif',serif">halite</text>
<text x="316.4" y="356.8" font-size="66.7" font-weight="normal" font-family="'Liberation Serif','DejaVu Serif',serif">gypsum</text>
<text x="956.9" y="113.8" font-size="66.7" font-weight="normal" font-family="'Liberation Serif','DejaVu Serif',serif">chlorite</text>
<text x="1286.7" y="113.8" font-size="66.7" font-weight="normal" font-family="'Liberation Serif','DejaVu Serif',serif">illite</text>
<text x="1525.0" y="113.8" font-size="66.7" font-weight="normal" font-family="'Liberation Serif','DejaVu Serif',serif">plagioclase</text>
<text x="1943.8" y="113.8" font-size="66.7" font-weight="normal" font-family="'Liberation Serif','DejaVu Serif',serif">calcite</text>
<text x="1123.7" y="230.6" font-size="66.7" font-weight="normal" font-family="'Liberation Serif','DejaVu Serif',serif">pyrite</text>
<text x="1402.5" y="230.6" font-size="66.7" font-weight="normal" font-family="'Liberation Serif','DejaVu Serif',serif">kaolinite</text>
<text x="1760.5" y="230.6" font-size="66.7" font-weight="normal" font-family="'Liberation Serif','DejaVu Serif',serif">nepheline</text>
<text x="301.9" y="756.9" font-size="66.7" font-weight="normal" font-family="'Liberation Serif','DejaVu Serif',serif">forsterite</text>
<text x="297.1" y="863.4" font-size="66.7" font-weight="normal" font-family="'Liberation Serif','DejaVu Serif',serif">gloriaite</text>
<text x="305.2" y="966.6" font-size="66.7" font-weight="normal" font-family="'Liberation Serif','DejaVu Serif',serif">reyerite</text>
<text x="271.1" y="1174.6" font-size="66.7" font-weight="normal" font-family="'Liberation Serif','DejaVu Serif',serif">cummingtonite</text>
<text x="279.6" y="1315.0" font-size="66.7" font-weight="normal" font-family="'Liberation Serif','DejaVu Serif',serif">stronalsite</text>
<text x="2014.1" y="772.2" font-size="73.3" font-weight="normal" font-family="'Liberation Serif','DejaVu Serif',serif">Raw ore</text>
<text x="2015.2" y="1129.0" font-size="73.3" font-weight="normal" font-family="'Liberation Serif','DejaVu Serif',serif">Roasted</text>
<text x="1730.6" y="1506.3" font-size="73.3" font-weight="normal" font-family="'Liberation Serif','DejaVu Serif',serif">Roasted+Leached</text>
<text transform="scale(1.084 1)" x="239.2" y="130.0" font-size="64.5" font-family="'Liberation Serif','DejaVu Serif',serif">♥</text>
<text x="257.6" y="241.9" font-size="57.7" font-weight="normal" font-family="'Liberation Serif','DejaVu Serif',serif">●</text>
<text transform="scale(1.030 1)" x="246.1" y="357.5" font-size="61.1" font-family="'Liberation Serif','DejaVu Serif',serif">♣</text>
<text transform="scale(0.961 1)" x="950.3" y="129.8" font-size="64.5" font-family="'Liberation Serif','DejaVu Serif',serif">*</text>
<text x="1235.7" y="114.1" font-size="66.7" font-weight="normal" font-family="'Liberation Serif','DejaVu Serif',serif">o</text>
<text transform="scale(1.108 1)" x="1329.4" y="112.4" font-size="62.9" font-family="'Liberation Serif','DejaVu Serif',serif">♦</text>
<text transform="scale(1.241 1)" x="1523.6" y="113.8" font-size="63.4" font-family="'Liberation Serif','DejaVu Serif',serif">♠</text>
<text x="1084.6" y="226.3" font-size="68.3" font-weight="normal" font-family="'Liberation Serif','DejaVu Serif',serif">з</text>
<text transform="scale(1.427 1)" x="955.8" y="222.0" font-size="37.1" font-family="'Liberation Serif','DejaVu Serif',serif">ω</text>
<text x="1707.0" y="230.6" font-size="64.7" font-weight="normal" font-family="'Liberation Serif','DejaVu Serif',serif">Δ</text>
<text x="231.8" y="757.6" font-size="58.9" font-weight="normal" font-family="'Liberation Serif','DejaVu Serif',serif">Θ</text>
<text x="233.6" y="861.1" font-size="63.3" font-weight="normal" font-family="'DejaVu Math TeX Gyre','DejaVu Sans',sans-serif">⊗</text>
<text x="240.2" y="958.7" font-size="66.2" font-weight="normal" font-family="'Liberation Serif','DejaVu Serif',serif">τ</text>
<text x="229.2" y="1177.7" font-size="59.2" font-weight="normal" font-family="'Liberation Serif','DejaVu Serif',serif">θ</text>
<text x="232.4" y="1315.1" font-size="66.7" font-weight="normal" font-family="'Liberation Serif','DejaVu Serif',serif">o</text>
<text transform="scale(1.000 1)" x="241.4" y="496.0" font-size="61.9" font-family="'Liberation Serif','DejaVu Serif',serif">♣</text>
<text transform="scale(1.216 1)" x="240.5" y="490.5" font-size="33.3" font-family="'Liberation Serif','DejaVu Serif',serif">ω</text>
<text transform="scale(0.795 1)" x="365.6" y="551.0" font-size="72.9" font-family="'Liberation Serif','DejaVu Serif',serif">*</text>
<text x="473.5" y="616.2" font-size="66.5" font-weight="normal" font-family="'Liberation Serif','DejaVu Serif',serif">o</text>
<text transform="scale(1.086 1)" x="529.8" y="543.8" font-size="63.6" font-family="'Liberation Serif','DejaVu Serif',serif">♥</text>
<text transform="scale(1.133 1)" x="551.1" y="630.4" font-size="60.1" font-family="'Liberation Serif','DejaVu Serif',serif">♦</text>
<text x="675.7" y="628.7" font-size="67.3" font-weight="normal" font-family="'Liberation Serif','DejaVu Serif',serif">Δ</text>
<text transform="scale(0.803 1)" x="911.5" y="620.9" font-size="73.5" font-family="'Liberation Serif','DejaVu Serif',serif">*</text>
<text transform="scale(1.068 1)" x="730.0" y="134.9" font-size="64.3" font-family="'Liberation Serif','DejaVu Serif',serif">♥</text>
<text transform="scale(1.114 1)" x="743.4" y="536.9" font-size="60.7" font-family="'Liberation Serif','DejaVu Serif',serif">♦</text>
<text transform="scale(1.213 1)" x="722.0" y="484.0" font-size="65.3" font-family="'Liberation Serif','DejaVu Serif',serif">♠</text>
<text x="961.1" y="263.7" font-size="55.3" font-weight="normal" font-family="'Liberation Serif','DejaVu Serif',serif">●</text>
<text x="992.3" y="604.1" font-size="66.5" font-weight="normal" font-family="'Liberation Serif','DejaVu Serif',serif">з</text>
<text transform="scale(1.111 1)" x="1013.2" y="616.7" font-size="63.4" font-family="'Liberation Serif','DejaVu Serif',serif">♥</text>
<text transform="scale(1.089 1)" x="1132.7" y="614.4" font-size="63.4" font-family="'Liberation Serif','DejaVu Serif',serif">♥</text>
<text transform="scale(1.068 1)" x="1246.9" y="614.0" font-size="64.3" font-family="'Liberation Serif','DejaVu Serif',serif">♥</text>
<text x="1444.2" y="568.8" font-size="55.8" font-weight="normal" font-family="'Liberation Serif','DejaVu Serif',serif">●</text>
<text transform="scale(1.054 1)" x="1522.3" y="591.1" font-size="65.6" font-family="'Liberation Serif','DejaVu Serif',serif">♥</text>
<text transform="scale(1.081 1)" x="1804.1" y="617.9" font-size="64.3" font-family="'Liberation Serif','DejaVu Serif',serif">♥</text>
<text transform="scale(1.071 1)" x="2088.5" y="640.0" font-size="64.5" font-family="'Liberation Serif','DejaVu Serif',serif">♥</text>
<text x="652.4" y="959.3" font-size="60.2" font-weight="normal" font-family="'Liberation Serif','DejaVu Serif',serif">Θ</text>
<text x="738.4" y="987.6" font-size="57.5" font-weight="normal" font-family="'Liberation Serif','DejaVu Serif',serif">Θ</text>
<text x="955.5" y="854.7" font-size="66.0" font-weight="normal" font-family="'Liberation Serif','DejaVu Serif',serif">τ</text>
<text x="1013.0" y="963.1" font-size="62.2" font-weight="normal" font-family="'DejaVu Math TeX Gyre','DejaVu Sans',sans-serif">⊗</text>
<text x="888.4" y="1287.8" font-size="64.2" font-weight="normal" font-family="'Liberation Serif','DejaVu Serif',serif">θ</text>
<text x="966.1" y="1366.4" font-size="64.0" font-weight="normal" font-family="'Liberation Serif','DejaVu Serif',serif">o</text>
<text x="217.0" y="1673.5" font-size="80.0" font-weight="bold" font-family="'Liberation Serif','DejaVu Serif',serif" text-anchor="middle">10</text>
<text x="392.4" y="1673.5" font-size="80.0" font-weight="bold" font-family="'Liberation Serif','DejaVu Serif',serif" text-anchor="middle">15</text>
<text x="567.7" y="1673.5" font-size="80.0" font-weight="bold" font-family="'Liberation Serif','DejaVu Serif',serif" text-anchor="middle">20</text>
<text x="743.0" y="1673.5" font-size="80.0" font-weight="bold" font-family="'Liberation Serif','DejaVu Serif',serif" text-anchor="middle">25</text>
<text x="918.4" y="1673.5" font-size="80.0" font-weight="bold" font-family="'Liberation Serif','DejaVu Serif',serif" text-anchor="middle">30</text>
<text x="1093.8" y="1673.5" font-size="80.0" font-weight="bold" font-family="'Liberation Serif','DejaVu Serif',serif" text-anchor="middle">35</text>
<text x="1269.1" y="1673.5" font-size="80.0" font-weight="bold" font-family="'Liberation Serif','DejaVu Serif',serif" text-anchor="middle">40</text>
<text x="1444.5" y="1673.5" font-size="80.0" font-weight="bold" font-family="'Liberation Serif','DejaVu Serif',serif" text-anchor="middle">45</text>
<text x="1619.8" y="1673.5" font-size="80.0" font-weight="bold" font-family="'Liberation Serif','DejaVu Serif',serif" text-anchor="middle">50</text>
<text x="1795.2" y="1673.5" font-size="80.0" font-weight="bold" font-family="'Liberation Serif','DejaVu Serif',serif" text-anchor="middle">55</text>
<text x="1970.5" y="1673.5" font-size="80.0" font-weight="bold" font-family="'Liberation Serif','DejaVu Serif',serif" text-anchor="middle">60</text>
<text x="2145.8" y="1673.5" font-size="80.0" font-weight="bold" font-family="'Liberation Serif','DejaVu Serif',serif" text-anchor="middle">65</text>
<text x="2321.2" y="1673.5" font-size="80.0" font-weight="bold" font-family="'Liberation Serif','DejaVu Serif',serif" text-anchor="middle">70</text>
<text x="1159.0" y="1785.8" font-size="88.6" font-weight="bold" font-family="'Liberation Serif','DejaVu Serif',serif">2θ/(°)</text>
<text transform="translate(90.4 1071.1) rotate(-90)" font-size="88.6" font-weight="bold" font-family="'Liberation Serif','DejaVu Serif',serif">Intensity(a.u.)</text>
<rect x="797.1" y="488.2" width="2.8" height="6.6" fill="#bfbfbf"/>
<rect x="974.9" y="522.1" width="6.2" height="6.0" fill="#bfbfbf"/>
<line x1="596.4" y1="628.3" x2="590.2" y2="1567.6" stroke="#bfbfbf" stroke-width="6.6" stroke-dasharray="29.5 13.3 10.8 13.3 10.8 13.3" stroke-dashoffset="0"/>
<line x1="705.2" y1="662.1" x2="701.6" y2="1581.6" stroke="#bfbfbf" stroke-width="6.6" stroke-dasharray="29.5 13.3 10.8 13.3 10.8 13.3" stroke-dashoffset="0"/>
<line x1="798.8" y1="582.3" x2="791.3" y2="1569" stroke="#bfbfbf" stroke-width="6.6" stroke-dasharray="29.5 13.3 10.8 13.3 10.8 13.3" stroke-dashoffset="0"/>
<line x1="1147.4" y1="655.4" x2="1144.4" y2="1573.5" stroke="#bfbfbf" stroke-width="6.6" stroke-dasharray="29.5 13.3 10.8 13.3 10.8 13.3" stroke-dashoffset="0"/>
<line x1="1253.5" y1="675.5" x2="1250" y2="1570.5" stroke="#bfbfbf" stroke-width="6.6" stroke-dasharray="29.5 13.3 10.8 13.3 10.8 13.3" stroke-dashoffset="0"/>
<line x1="1354.5" y1="653.3" x2="1351.2" y2="1571.7" stroke="#bfbfbf" stroke-width="6.6" stroke-dasharray="29.5 13.3 10.8 13.3 10.8 13.3" stroke-dashoffset="0"/>
<line x1="1625.6" y1="648.1" x2="1622.6" y2="1567.6" stroke="#bfbfbf" stroke-width="6.6" stroke-dasharray="29.5 13.3 10.8 13.3 10.8 13.3" stroke-dashoffset="0"/>
<line x1="1968.3" y1="649.9" x2="1965.1" y2="1569.8" stroke="#bfbfbf" stroke-width="6.6" stroke-dasharray="29.5 13.3 10.8 13.3 10.8 13.3" stroke-dashoffset="0"/>
<line x1="2260.9" y1="665.2" x2="2257.7" y2="1583.7" stroke="#bfbfbf" stroke-width="6.6" stroke-dasharray="29.5 13.3 10.8 13.3 10.8 13.3" stroke-dashoffset="0"/>
<line x1="667" y1="985" x2="671.2" y2="1575" stroke="#e5ab2d" stroke-width="6.6" stroke-dasharray="29.5 13.3 10.8 13.3 10.8 13.3" stroke-dashoffset="0"/>
<line x1="760.3" y1="1012" x2="762.5" y2="1579.5" stroke="#e5ab2d" stroke-width="6.6" stroke-dasharray="29.5 13.3 10.8 13.3 10.8 13.3" stroke-dashoffset="0"/>
<line x1="901.6" y1="1337" x2="900.7" y2="1572.8" stroke="#e5ab2d" stroke-width="6.6" stroke-dasharray="29.5 13.3 10.8 13.3 10.8 13.3" stroke-dashoffset="0"/>
<line x1="981.4" y1="1399" x2="981.7" y2="1566.8" stroke="#e5ab2d" stroke-width="6.6" stroke-dasharray="29.5 13.3 10.8 13.3 10.8 13.3" stroke-dashoffset="0"/>
</svg></body></html>
